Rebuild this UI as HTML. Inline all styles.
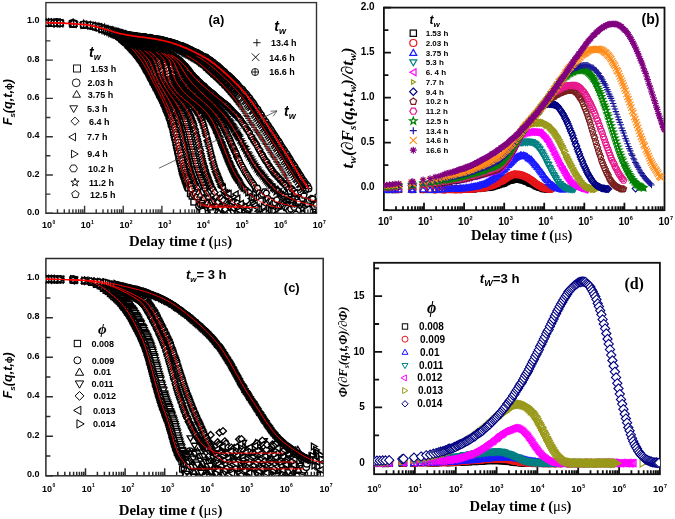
<!DOCTYPE html>
<html><head><meta charset="utf-8"><style>
html,body{margin:0;padding:0;background:#fff;}
svg{display:block;will-change:transform;}
</style></head><body>
<svg width="675" height="519" viewBox="0 0 675 519">
<defs><marker id="m0" markerUnits="userSpaceOnUse" markerWidth="1" markerHeight="1" refX="0" refY="0" overflow="visible"><rect x="-2.88" y="-2.88" width="5.76" height="5.76" fill="#fff" stroke="#000" stroke-width="1.35"/></marker><marker id="m1" markerUnits="userSpaceOnUse" markerWidth="1" markerHeight="1" refX="0" refY="0" overflow="visible"><circle r="3.20" fill="#fff" stroke="#000" stroke-width="1.35"/></marker><marker id="m2" markerUnits="userSpaceOnUse" markerWidth="1" markerHeight="1" refX="0" refY="0" overflow="visible"><polygon points="0.00,-3.68 3.19,1.84 -3.19,1.84" transform="translate(0,0.64)" fill="#fff" stroke="#000" stroke-width="1.35"/></marker><marker id="m3" markerUnits="userSpaceOnUse" markerWidth="1" markerHeight="1" refX="0" refY="0" overflow="visible"><polygon points="0.00,3.68 -3.19,-1.84 3.19,-1.84" transform="translate(0,-0.64)" fill="#fff" stroke="#000" stroke-width="1.35"/></marker><marker id="m4" markerUnits="userSpaceOnUse" markerWidth="1" markerHeight="1" refX="0" refY="0" overflow="visible"><polygon points="0.00,-3.36 3.36,0.00 0.00,3.36 -3.36,0.00" fill="#fff" stroke="#000" stroke-width="1.35"/></marker><marker id="m5" markerUnits="userSpaceOnUse" markerWidth="1" markerHeight="1" refX="0" refY="0" overflow="visible"><polygon points="-3.68,0.00 1.84,-3.19 1.84,3.19" transform="translate(0.64,0)" fill="#fff" stroke="#000" stroke-width="1.35"/></marker><marker id="m6" markerUnits="userSpaceOnUse" markerWidth="1" markerHeight="1" refX="0" refY="0" overflow="visible"><polygon points="3.68,0.00 -1.84,3.19 -1.84,-3.19" transform="translate(-0.64,0)" fill="#fff" stroke="#000" stroke-width="1.35"/></marker><marker id="m7" markerUnits="userSpaceOnUse" markerWidth="1" markerHeight="1" refX="0" refY="0" overflow="visible"><polygon points="3.20,0.00 1.60,2.77 -1.60,2.77 -3.20,0.00 -1.60,-2.77 1.60,-2.77" fill="#fff" stroke="#000" stroke-width="1.35"/></marker><marker id="m8" markerUnits="userSpaceOnUse" markerWidth="1" markerHeight="1" refX="0" refY="0" overflow="visible"><polygon points="0.00,-3.52 0.85,-1.16 3.35,-1.09 1.37,0.44 2.07,2.85 0.00,1.44 -2.07,2.85 -1.37,0.44 -3.35,-1.09 -0.85,-1.16" fill="#fff" stroke="#000" stroke-width="1.35"/></marker><marker id="m9" markerUnits="userSpaceOnUse" markerWidth="1" markerHeight="1" refX="0" refY="0" overflow="visible"><polygon points="0.00,-3.20 3.04,-0.99 1.88,2.59 -1.88,2.59 -3.04,-0.99" fill="#fff" stroke="#000" stroke-width="1.35"/></marker><marker id="m10" markerUnits="userSpaceOnUse" markerWidth="1" markerHeight="1" refX="0" refY="0" overflow="visible"><path d="M-3.2 0H3.2M0 -3.2V3.2" fill="#fff" stroke="#000" stroke-width="0.8"/></marker><marker id="m11" markerUnits="userSpaceOnUse" markerWidth="1" markerHeight="1" refX="0" refY="0" overflow="visible"><path d="M-3.2 -3.2L3.2 3.2M-3.2 3.2L3.2 -3.2" fill="#fff" stroke="#000" stroke-width="1.35"/></marker><marker id="m12" markerUnits="userSpaceOnUse" markerWidth="1" markerHeight="1" refX="0" refY="0" overflow="visible"><circle r="3.20" fill="#fff" stroke="#000" stroke-width="1.35"/><path d="M-3.2 0H3.2M0 -3.2V3.2" fill="#fff" stroke="#000" stroke-width="1.35"/></marker><clipPath id="cpa"><rect x="45.9" y="2.6" width="270.6" height="210.70000000000002"/></clipPath><marker id="m13" markerUnits="userSpaceOnUse" markerWidth="1" markerHeight="1" refX="0" refY="0" overflow="visible"><rect x="-2.88" y="-2.88" width="5.76" height="5.76" fill="none" stroke="#000" stroke-width="1.1"/></marker><marker id="m14" markerUnits="userSpaceOnUse" markerWidth="1" markerHeight="1" refX="0" refY="0" overflow="visible"><circle r="3.20" fill="none" stroke="#e8161a" stroke-width="1.1"/></marker><marker id="m15" markerUnits="userSpaceOnUse" markerWidth="1" markerHeight="1" refX="0" refY="0" overflow="visible"><polygon points="0.00,-3.68 3.19,1.84 -3.19,1.84" transform="translate(0,0.64)" fill="none" stroke="#1a1aff" stroke-width="1.1"/></marker><marker id="m16" markerUnits="userSpaceOnUse" markerWidth="1" markerHeight="1" refX="0" refY="0" overflow="visible"><polygon points="0.00,3.68 -3.19,-1.84 3.19,-1.84" transform="translate(0,-0.64)" fill="none" stroke="#008080" stroke-width="1.1"/></marker><marker id="m17" markerUnits="userSpaceOnUse" markerWidth="1" markerHeight="1" refX="0" refY="0" overflow="visible"><polygon points="-3.68,0.00 1.84,-3.19 1.84,3.19" transform="translate(0.64,0)" fill="none" stroke="#ff00ff" stroke-width="1.1"/></marker><marker id="m18" markerUnits="userSpaceOnUse" markerWidth="1" markerHeight="1" refX="0" refY="0" overflow="visible"><polygon points="3.68,0.00 -1.84,3.19 -1.84,-3.19" transform="translate(-0.64,0)" fill="none" stroke="#99991a" stroke-width="1.1"/></marker><marker id="m19" markerUnits="userSpaceOnUse" markerWidth="1" markerHeight="1" refX="0" refY="0" overflow="visible"><polygon points="0.00,-3.36 3.36,0.00 0.00,3.36 -3.36,0.00" fill="none" stroke="#000080" stroke-width="1.1"/></marker><marker id="m20" markerUnits="userSpaceOnUse" markerWidth="1" markerHeight="1" refX="0" refY="0" overflow="visible"><polygon points="0.00,-3.20 3.04,-0.99 1.88,2.59 -1.88,2.59 -3.04,-0.99" fill="none" stroke="#7a1f1f" stroke-width="1.1"/></marker><marker id="m21" markerUnits="userSpaceOnUse" markerWidth="1" markerHeight="1" refX="0" refY="0" overflow="visible"><polygon points="3.20,0.00 1.60,2.77 -1.60,2.77 -3.20,0.00 -1.60,-2.77 1.60,-2.77" fill="none" stroke="#e6198c" stroke-width="1.1"/></marker><marker id="m22" markerUnits="userSpaceOnUse" markerWidth="1" markerHeight="1" refX="0" refY="0" overflow="visible"><polygon points="0.00,-3.52 0.85,-1.16 3.35,-1.09 1.37,0.44 2.07,2.85 0.00,1.44 -2.07,2.85 -1.37,0.44 -3.35,-1.09 -0.85,-1.16" fill="none" stroke="#008000" stroke-width="1.1"/></marker><marker id="m23" markerUnits="userSpaceOnUse" markerWidth="1" markerHeight="1" refX="0" refY="0" overflow="visible"><path d="M-3.2 0H3.2M0 -3.2V3.2" fill="none" stroke="#1a1a99" stroke-width="1.1"/></marker><marker id="m24" markerUnits="userSpaceOnUse" markerWidth="1" markerHeight="1" refX="0" refY="0" overflow="visible"><path d="M-3.2 -3.2L3.2 3.2M-3.2 3.2L3.2 -3.2" fill="none" stroke="#ff8c1a" stroke-width="1.1"/></marker><marker id="m25" markerUnits="userSpaceOnUse" markerWidth="1" markerHeight="1" refX="0" refY="0" overflow="visible"><path d="M-3.2 0H3.2M0 -3.2V3.2M-2.24 -2.24L2.24 2.24M-2.24 2.24L2.24 -2.24" fill="none" stroke="#800080" stroke-width="1.1"/></marker><clipPath id="cpb"><rect x="383.9" y="7.6" width="280.6" height="202.6"/></clipPath><marker id="m26" markerUnits="userSpaceOnUse" markerWidth="1" markerHeight="1" refX="0" refY="0" overflow="visible"><rect x="-2.97" y="-2.97" width="5.94" height="5.94" fill="#fff" stroke="#000" stroke-width="1.35"/></marker><marker id="m27" markerUnits="userSpaceOnUse" markerWidth="1" markerHeight="1" refX="0" refY="0" overflow="visible"><circle r="3.30" fill="#fff" stroke="#000" stroke-width="1.35"/></marker><marker id="m28" markerUnits="userSpaceOnUse" markerWidth="1" markerHeight="1" refX="0" refY="0" overflow="visible"><polygon points="0.00,-3.79 3.29,1.90 -3.29,1.90" transform="translate(0,0.66)" fill="#fff" stroke="#000" stroke-width="1.35"/></marker><marker id="m29" markerUnits="userSpaceOnUse" markerWidth="1" markerHeight="1" refX="0" refY="0" overflow="visible"><polygon points="0.00,3.79 -3.29,-1.90 3.29,-1.90" transform="translate(0,-0.66)" fill="#fff" stroke="#000" stroke-width="1.35"/></marker><marker id="m30" markerUnits="userSpaceOnUse" markerWidth="1" markerHeight="1" refX="0" refY="0" overflow="visible"><polygon points="0.00,-3.46 3.46,0.00 0.00,3.46 -3.46,0.00" fill="#fff" stroke="#000" stroke-width="1.35"/></marker><marker id="m31" markerUnits="userSpaceOnUse" markerWidth="1" markerHeight="1" refX="0" refY="0" overflow="visible"><polygon points="-3.79,0.00 1.90,-3.29 1.90,3.29" transform="translate(0.66,0)" fill="#fff" stroke="#000" stroke-width="1.35"/></marker><marker id="m32" markerUnits="userSpaceOnUse" markerWidth="1" markerHeight="1" refX="0" refY="0" overflow="visible"><polygon points="3.79,0.00 -1.90,3.29 -1.90,-3.29" transform="translate(-0.66,0)" fill="#fff" stroke="#000" stroke-width="1.35"/></marker><clipPath id="cpc"><rect x="45.9" y="258.5" width="277.3" height="217.3"/></clipPath><marker id="m33" markerUnits="userSpaceOnUse" markerWidth="1" markerHeight="1" refX="0" refY="0" overflow="visible"><rect x="-3.15" y="-3.15" width="6.30" height="6.30" fill="none" stroke="#000" stroke-width="1.1"/></marker><marker id="m34" markerUnits="userSpaceOnUse" markerWidth="1" markerHeight="1" refX="0" refY="0" overflow="visible"><circle r="3.50" fill="none" stroke="#e8161a" stroke-width="1.1"/></marker><marker id="m35" markerUnits="userSpaceOnUse" markerWidth="1" markerHeight="1" refX="0" refY="0" overflow="visible"><polygon points="0.00,-4.02 3.49,2.01 -3.49,2.01" transform="translate(0,0.70)" fill="none" stroke="#1a1aff" stroke-width="1.1"/></marker><marker id="m36" markerUnits="userSpaceOnUse" markerWidth="1" markerHeight="1" refX="0" refY="0" overflow="visible"><polygon points="0.00,4.02 -3.49,-2.01 3.49,-2.01" transform="translate(0,-0.70)" fill="none" stroke="#008080" stroke-width="1.1"/></marker><marker id="m37" markerUnits="userSpaceOnUse" markerWidth="1" markerHeight="1" refX="0" refY="0" overflow="visible"><polygon points="-4.02,0.00 2.01,-3.49 2.01,3.49" transform="translate(0.70,0)" fill="none" stroke="#ff00ff" stroke-width="1.1"/></marker><marker id="m38" markerUnits="userSpaceOnUse" markerWidth="1" markerHeight="1" refX="0" refY="0" overflow="visible"><polygon points="4.60,0.00 -2.30,3.98 -2.30,-3.98" transform="translate(-0.80,0)" fill="none" stroke="#99991a" stroke-width="1.1"/></marker><marker id="m39" markerUnits="userSpaceOnUse" markerWidth="1" markerHeight="1" refX="0" refY="0" overflow="visible"><polygon points="0.00,-4.62 4.62,0.00 0.00,4.62 -4.62,0.00" fill="#fff" stroke="#000080" stroke-width="1.1"/></marker><clipPath id="cpd"><rect x="374.1" y="262.8" width="285.79999999999995" height="211.39999999999998"/></clipPath></defs>
<rect width="675" height="519" fill="#fff"/>
<rect x="45.9" y="2.6" width="270.6" height="210.7" fill="none" stroke="#333" stroke-width="1.4"/>
<path d="M45.9 213.3h7M45.9 175h7M45.9 136.7h7M45.9 98.4h7M45.9 60.1h7M45.9 21.8h7M45.9 194.1h4.5M45.9 155.8h4.5M45.9 117.5h4.5M45.9 79.2h4.5M45.9 40.9h4.5M57.5 213.3v-4M64.3 213.3v-4M69.2 213.3v-4M72.9 213.3v-4M76 213.3v-4M78.6 213.3v-4M80.8 213.3v-4M82.8 213.3v-4M84.6 213.3v-7.5M96.2 213.3v-4M103 213.3v-4M107.8 213.3v-4M111.6 213.3v-4M114.6 213.3v-4M117.2 213.3v-4M119.5 213.3v-4M121.4 213.3v-4M123.2 213.3v-7.5M134.9 213.3v-4M141.7 213.3v-4M146.5 213.3v-4M150.2 213.3v-4M153.3 213.3v-4M155.9 213.3v-4M158.1 213.3v-4M160.1 213.3v-4M161.9 213.3v-7.5M173.5 213.3v-4M180.3 213.3v-4M185.1 213.3v-4M188.9 213.3v-4M192 213.3v-4M194.5 213.3v-4M196.8 213.3v-4M198.8 213.3v-4M200.5 213.3v-7.5M212.2 213.3v-4M219 213.3v-4M223.8 213.3v-4M227.5 213.3v-4M230.6 213.3v-4M233.2 213.3v-4M235.4 213.3v-4M237.4 213.3v-4M239.2 213.3v-7.5M250.8 213.3v-4M257.6 213.3v-4M262.5 213.3v-4M266.2 213.3v-4M269.3 213.3v-4M271.9 213.3v-4M274.1 213.3v-4M276.1 213.3v-4M277.8 213.3v-7.5M289.5 213.3v-4M296.3 213.3v-4M301.1 213.3v-4M304.9 213.3v-4M307.9 213.3v-4M310.5 213.3v-4M312.8 213.3v-4M314.7 213.3v-4" stroke="#333" stroke-width="1.4" fill="none"/>
<text x="39.6" y="214.9" text-anchor="end" font-family="Liberation Sans, sans-serif" font-weight="bold" font-size="9">0.0</text>
<text x="39.6" y="176.6" text-anchor="end" font-family="Liberation Sans, sans-serif" font-weight="bold" font-size="9">0.2</text>
<text x="39.6" y="138.3" text-anchor="end" font-family="Liberation Sans, sans-serif" font-weight="bold" font-size="9">0.4</text>
<text x="39.6" y="100" text-anchor="end" font-family="Liberation Sans, sans-serif" font-weight="bold" font-size="9">0.6</text>
<text x="39.6" y="61.7" text-anchor="end" font-family="Liberation Sans, sans-serif" font-weight="bold" font-size="9">0.8</text>
<text x="39.6" y="23.4" text-anchor="end" font-family="Liberation Sans, sans-serif" font-weight="bold" font-size="9">1.0</text>
<text x="42.1" y="228.4" font-family="Liberation Sans, sans-serif" font-weight="bold" font-size="9">10<tspan font-size="5.0" dx="0.3" dy="-4.3">0</tspan></text>
<text x="80.8" y="228.4" font-family="Liberation Sans, sans-serif" font-weight="bold" font-size="9">10<tspan font-size="5.0" dx="0.3" dy="-4.3">1</tspan></text>
<text x="119.4" y="228.4" font-family="Liberation Sans, sans-serif" font-weight="bold" font-size="9">10<tspan font-size="5.0" dx="0.3" dy="-4.3">2</tspan></text>
<text x="158.1" y="228.4" font-family="Liberation Sans, sans-serif" font-weight="bold" font-size="9">10<tspan font-size="5.0" dx="0.3" dy="-4.3">3</tspan></text>
<text x="196.7" y="228.4" font-family="Liberation Sans, sans-serif" font-weight="bold" font-size="9">10<tspan font-size="5.0" dx="0.3" dy="-4.3">4</tspan></text>
<text x="235.4" y="228.4" font-family="Liberation Sans, sans-serif" font-weight="bold" font-size="9">10<tspan font-size="5.0" dx="0.3" dy="-4.3">5</tspan></text>
<text x="274" y="228.4" font-family="Liberation Sans, sans-serif" font-weight="bold" font-size="9">10<tspan font-size="5.0" dx="0.3" dy="-4.3">6</tspan></text>
<text x="312.7" y="228.4" font-family="Liberation Sans, sans-serif" font-weight="bold" font-size="9">10<tspan font-size="5.0" dx="0.3" dy="-4.3">7</tspan></text>
<rect x="383.9" y="7.6" width="280.6" height="202.6" fill="none" stroke="#111" stroke-width="1.8"/>
<path d="M383.9 187.7h7M383.9 142.7h7M383.9 97.6h7M383.9 52.6h7M383.9 7.6h7M383.9 210.2h4.5M383.9 165.2h4.5M383.9 120.2h4.5M383.9 75.1h4.5M383.9 30.1h4.5M396 210.2v-4M403 210.2v-4M408 210.2v-4M411.9 210.2v-4M415.1 210.2v-4M417.8 210.2v-4M420.1 210.2v-4M422.2 210.2v-4M424 210.2v-7.5M436.1 210.2v-4M443.1 210.2v-4M448.1 210.2v-4M452 210.2v-4M455.2 210.2v-4M457.9 210.2v-4M460.2 210.2v-4M462.2 210.2v-4M464.1 210.2v-7.5M476.1 210.2v-4M483.2 210.2v-4M488.2 210.2v-4M492.1 210.2v-4M495.3 210.2v-4M497.9 210.2v-4M500.3 210.2v-4M502.3 210.2v-4M504.2 210.2v-7.5M516.2 210.2v-4M523.3 210.2v-4M528.3 210.2v-4M532.2 210.2v-4M535.3 210.2v-4M538 210.2v-4M540.4 210.2v-4M542.4 210.2v-4M544.2 210.2v-7.5M556.3 210.2v-4M563.4 210.2v-4M568.4 210.2v-4M572.3 210.2v-4M575.4 210.2v-4M578.1 210.2v-4M580.4 210.2v-4M582.5 210.2v-4M584.3 210.2v-7.5M596.4 210.2v-4M603.5 210.2v-4M608.5 210.2v-4M612.3 210.2v-4M615.5 210.2v-4M618.2 210.2v-4M620.5 210.2v-4M622.6 210.2v-4M624.4 210.2v-7.5M636.5 210.2v-4M643.5 210.2v-4M648.5 210.2v-4M652.4 210.2v-4M655.6 210.2v-4M658.3 210.2v-4M660.6 210.2v-4M662.7 210.2v-4" stroke="#111" stroke-width="1.8" fill="none"/>
<text x="374.7" y="190.3" text-anchor="end" font-family="Liberation Sans, sans-serif" font-weight="bold" font-size="10">0.0</text>
<text x="374.7" y="145.3" text-anchor="end" font-family="Liberation Sans, sans-serif" font-weight="bold" font-size="10">0.5</text>
<text x="374.7" y="100.2" text-anchor="end" font-family="Liberation Sans, sans-serif" font-weight="bold" font-size="10">1.0</text>
<text x="374.7" y="55.2" text-anchor="end" font-family="Liberation Sans, sans-serif" font-weight="bold" font-size="10">1.5</text>
<text x="374.7" y="10.2" text-anchor="end" font-family="Liberation Sans, sans-serif" font-weight="bold" font-size="10">2.0</text>
<text x="377.9" y="224.7" font-family="Liberation Sans, sans-serif" font-weight="bold" font-size="10">10<tspan font-size="5.6" dx="0.3" dy="-4.8">0</tspan></text>
<text x="418" y="224.7" font-family="Liberation Sans, sans-serif" font-weight="bold" font-size="10">10<tspan font-size="5.6" dx="0.3" dy="-4.8">1</tspan></text>
<text x="458.1" y="224.7" font-family="Liberation Sans, sans-serif" font-weight="bold" font-size="10">10<tspan font-size="5.6" dx="0.3" dy="-4.8">2</tspan></text>
<text x="498.2" y="224.7" font-family="Liberation Sans, sans-serif" font-weight="bold" font-size="10">10<tspan font-size="5.6" dx="0.3" dy="-4.8">3</tspan></text>
<text x="538.2" y="224.7" font-family="Liberation Sans, sans-serif" font-weight="bold" font-size="10">10<tspan font-size="5.6" dx="0.3" dy="-4.8">4</tspan></text>
<text x="578.3" y="224.7" font-family="Liberation Sans, sans-serif" font-weight="bold" font-size="10">10<tspan font-size="5.6" dx="0.3" dy="-4.8">5</tspan></text>
<text x="618.4" y="224.7" font-family="Liberation Sans, sans-serif" font-weight="bold" font-size="10">10<tspan font-size="5.6" dx="0.3" dy="-4.8">6</tspan></text>
<text x="658.5" y="224.7" font-family="Liberation Sans, sans-serif" font-weight="bold" font-size="10">10<tspan font-size="5.6" dx="0.3" dy="-4.8">7</tspan></text>
<rect x="45.9" y="258.5" width="277.3" height="217.3" fill="none" stroke="#2a2a2a" stroke-width="1.5"/>
<path d="M45.9 475.8h7M45.9 436.3h7M45.9 396.8h7M45.9 357.3h7M45.9 317.8h7M45.9 278.3h7M45.9 456h4.5M45.9 416.5h4.5M45.9 377h4.5M45.9 337.5h4.5M45.9 298h4.5M57.8 475.8v-4M64.8 475.8v-4M69.8 475.8v-4M73.6 475.8v-4M76.7 475.8v-4M79.4 475.8v-4M81.7 475.8v-4M83.7 475.8v-4M85.5 475.8v-7.5M97.4 475.8v-4M104.4 475.8v-4M109.4 475.8v-4M113.2 475.8v-4M116.3 475.8v-4M119 475.8v-4M121.3 475.8v-4M123.3 475.8v-4M125.1 475.8v-7.5M137.1 475.8v-4M144 475.8v-4M149 475.8v-4M152.8 475.8v-4M156 475.8v-4M158.6 475.8v-4M160.9 475.8v-4M162.9 475.8v-4M164.7 475.8v-7.5M176.7 475.8v-4M183.6 475.8v-4M188.6 475.8v-4M192.4 475.8v-4M195.6 475.8v-4M198.2 475.8v-4M200.5 475.8v-4M202.5 475.8v-4M204.4 475.8v-7.5M216.3 475.8v-4M223.3 475.8v-4M228.2 475.8v-4M232 475.8v-4M235.2 475.8v-4M237.8 475.8v-4M240.1 475.8v-4M242.2 475.8v-4M244 475.8v-7.5M255.9 475.8v-4M262.9 475.8v-4M267.8 475.8v-4M271.7 475.8v-4M274.8 475.8v-4M277.4 475.8v-4M279.7 475.8v-4M281.8 475.8v-4M283.6 475.8v-7.5M295.5 475.8v-4M302.5 475.8v-4M307.4 475.8v-4M311.3 475.8v-4M314.4 475.8v-4M317.1 475.8v-4M319.4 475.8v-4M321.4 475.8v-4" stroke="#2a2a2a" stroke-width="1.5" fill="none"/>
<text x="39.6" y="477.4" text-anchor="end" font-family="Liberation Sans, sans-serif" font-weight="bold" font-size="9">0.0</text>
<text x="39.6" y="437.9" text-anchor="end" font-family="Liberation Sans, sans-serif" font-weight="bold" font-size="9">0.2</text>
<text x="39.6" y="398.4" text-anchor="end" font-family="Liberation Sans, sans-serif" font-weight="bold" font-size="9">0.4</text>
<text x="39.6" y="358.9" text-anchor="end" font-family="Liberation Sans, sans-serif" font-weight="bold" font-size="9">0.6</text>
<text x="39.6" y="319.4" text-anchor="end" font-family="Liberation Sans, sans-serif" font-weight="bold" font-size="9">0.8</text>
<text x="39.6" y="279.9" text-anchor="end" font-family="Liberation Sans, sans-serif" font-weight="bold" font-size="9">1.0</text>
<text x="42.1" y="491.5" font-family="Liberation Sans, sans-serif" font-weight="bold" font-size="9">10<tspan font-size="5.0" dx="0.3" dy="-4.3">0</tspan></text>
<text x="81.7" y="491.5" font-family="Liberation Sans, sans-serif" font-weight="bold" font-size="9">10<tspan font-size="5.0" dx="0.3" dy="-4.3">1</tspan></text>
<text x="121.3" y="491.5" font-family="Liberation Sans, sans-serif" font-weight="bold" font-size="9">10<tspan font-size="5.0" dx="0.3" dy="-4.3">2</tspan></text>
<text x="160.9" y="491.5" font-family="Liberation Sans, sans-serif" font-weight="bold" font-size="9">10<tspan font-size="5.0" dx="0.3" dy="-4.3">3</tspan></text>
<text x="200.6" y="491.5" font-family="Liberation Sans, sans-serif" font-weight="bold" font-size="9">10<tspan font-size="5.0" dx="0.3" dy="-4.3">4</tspan></text>
<text x="240.2" y="491.5" font-family="Liberation Sans, sans-serif" font-weight="bold" font-size="9">10<tspan font-size="5.0" dx="0.3" dy="-4.3">5</tspan></text>
<text x="279.8" y="491.5" font-family="Liberation Sans, sans-serif" font-weight="bold" font-size="9">10<tspan font-size="5.0" dx="0.3" dy="-4.3">6</tspan></text>
<text x="319.4" y="491.5" font-family="Liberation Sans, sans-serif" font-weight="bold" font-size="9">10<tspan font-size="5.0" dx="0.3" dy="-4.3">7</tspan></text>
<rect x="374.1" y="262.8" width="285.8" height="211.4" fill="none" stroke="#111" stroke-width="1.8"/>
<path d="M374.1 463.1h8M374.1 407.4h8M374.1 351.8h8M374.1 296.2h8M374.1 435.3h5M374.1 379.6h5M374.1 324h5M374.1 268.4h5M386.4 474.2v-4M393.6 474.2v-4M398.7 474.2v-4M402.6 474.2v-4M405.9 474.2v-4M408.6 474.2v-4M411 474.2v-4M413.1 474.2v-4M414.9 474.2v-7.5M427.2 474.2v-4M434.4 474.2v-4M439.5 474.2v-4M443.5 474.2v-4M446.7 474.2v-4M449.4 474.2v-4M451.8 474.2v-4M453.9 474.2v-4M455.8 474.2v-7.5M468 474.2v-4M475.2 474.2v-4M480.3 474.2v-4M484.3 474.2v-4M487.5 474.2v-4M490.3 474.2v-4M492.6 474.2v-4M494.7 474.2v-4M496.6 474.2v-7.5M508.9 474.2v-4M516.1 474.2v-4M521.2 474.2v-4M525.1 474.2v-4M528.4 474.2v-4M531.1 474.2v-4M533.5 474.2v-4M535.5 474.2v-4M537.4 474.2v-7.5M549.7 474.2v-4M556.9 474.2v-4M562 474.2v-4M566 474.2v-4M569.2 474.2v-4M571.9 474.2v-4M574.3 474.2v-4M576.4 474.2v-4M578.2 474.2v-7.5M590.5 474.2v-4M597.7 474.2v-4M602.8 474.2v-4M606.8 474.2v-4M610 474.2v-4M612.7 474.2v-4M615.1 474.2v-4M617.2 474.2v-4M619.1 474.2v-7.5M631.4 474.2v-4M638.6 474.2v-4M643.7 474.2v-4M647.6 474.2v-4M650.8 474.2v-4M653.6 474.2v-4M655.9 474.2v-4M658 474.2v-4" stroke="#111" stroke-width="1.8" fill="none"/>
<text x="364.7" y="466.1" text-anchor="end" font-family="Liberation Sans, sans-serif" font-weight="bold" font-size="10">0</text>
<text x="364.7" y="410.4" text-anchor="end" font-family="Liberation Sans, sans-serif" font-weight="bold" font-size="10">5</text>
<text x="364.7" y="354.8" text-anchor="end" font-family="Liberation Sans, sans-serif" font-weight="bold" font-size="10">10</text>
<text x="364.7" y="299.2" text-anchor="end" font-family="Liberation Sans, sans-serif" font-weight="bold" font-size="10">15</text>
<text x="367.2" y="492.4" font-family="Liberation Sans, sans-serif" font-weight="bold" font-size="9.5">10<tspan font-size="5.3" dx="0.3" dy="-4.6">0</tspan></text>
<text x="408" y="492.4" font-family="Liberation Sans, sans-serif" font-weight="bold" font-size="9.5">10<tspan font-size="5.3" dx="0.3" dy="-4.6">1</tspan></text>
<text x="448.9" y="492.4" font-family="Liberation Sans, sans-serif" font-weight="bold" font-size="9.5">10<tspan font-size="5.3" dx="0.3" dy="-4.6">2</tspan></text>
<text x="489.7" y="492.4" font-family="Liberation Sans, sans-serif" font-weight="bold" font-size="9.5">10<tspan font-size="5.3" dx="0.3" dy="-4.6">3</tspan></text>
<text x="530.5" y="492.4" font-family="Liberation Sans, sans-serif" font-weight="bold" font-size="9.5">10<tspan font-size="5.3" dx="0.3" dy="-4.6">4</tspan></text>
<text x="571.3" y="492.4" font-family="Liberation Sans, sans-serif" font-weight="bold" font-size="9.5">10<tspan font-size="5.3" dx="0.3" dy="-4.6">5</tspan></text>
<text x="612.2" y="492.4" font-family="Liberation Sans, sans-serif" font-weight="bold" font-size="9.5">10<tspan font-size="5.3" dx="0.3" dy="-4.6">6</tspan></text>
<text x="653" y="492.4" font-family="Liberation Sans, sans-serif" font-weight="bold" font-size="9.5">10<tspan font-size="5.3" dx="0.3" dy="-4.6">7</tspan></text>
<text x="129" y="245.7" textLength="103.2" lengthAdjust="spacingAndGlyphs" font-family="Liberation Serif, serif" font-weight="bold" font-size="14.7">Delay time <tspan font-style="italic">t</tspan> (<tspan font-weight="normal">&#956;s</tspan>)</text>
<text x="471" y="240.3" textLength="101.5" lengthAdjust="spacingAndGlyphs" font-family="Liberation Serif, serif" font-weight="bold" font-size="14.7">Delay time <tspan font-style="italic">t</tspan> (<tspan font-weight="normal">&#956;s</tspan>)</text>
<text x="118.7" y="515.3" textLength="103.7" lengthAdjust="spacingAndGlyphs" font-family="Liberation Serif, serif" font-weight="bold" font-size="14.7">Delay time <tspan font-style="italic">t</tspan> (<tspan font-weight="normal">&#956;s</tspan>)</text>
<text x="469.6" y="510.8" textLength="101.9" lengthAdjust="spacingAndGlyphs" font-family="Liberation Serif, serif" font-weight="bold" font-size="14.7">Delay time <tspan font-style="italic">t</tspan> (<tspan font-weight="normal">&#956;s</tspan>)</text>
<g clip-path="url(#cpa)"><polyline points="45.9,23.1 48.6,22.6 51.3,22.5 54.0,23.0 56.7,23.3 60.2,23.0 72.6,23.5 73.7,23.5 83.7,24.9 90.4,25.8 95.2,26.4 99.0,27.5 102.0,28.3 104.6,29.4 106.8,30.6 108.8,31.5 110.6,31.5 112.2,33.1 113.6,33.9 115.0,34.7 116.2,34.9 117.4,35.5 118.5,36.3 119.0,36.6 119.6,36.9 120.2,37.2 120.8,37.6 121.4,38.3 121.9,39.3 122.5,39.1 123.1,40.2 123.7,40.4 124.3,41.3 124.8,41.4 125.4,42.2 126.0,42.5 126.6,42.2 127.1,43.7 127.7,44.1 128.3,45.3 128.9,45.6 129.5,45.9 130.0,46.7 130.6,47.2 131.2,47.8 131.8,48.8 132.4,49.0 132.9,50.0 133.5,49.9 134.1,51.2 134.7,51.6 135.3,52.5 135.8,52.9 136.4,54.1 137.0,54.3 137.6,55.4 138.2,55.8 138.7,56.7 139.3,57.7 139.9,58.7 140.5,59.1 141.1,60.0 141.6,60.6 142.2,62.0 142.8,62.7 143.4,63.6 144.0,64.6 144.5,65.6 145.1,66.7 145.7,67.9 146.3,69.1 146.9,69.9 147.4,70.7 148.0,71.5 148.6,72.8 149.2,73.9 149.8,75.0 150.3,76.2 150.9,77.4 151.5,78.4 152.1,79.2 152.7,80.9 153.2,82.1 153.8,82.5 154.4,84.1 155.0,84.9 155.6,86.1 156.1,87.7 156.7,87.8 157.3,89.1 157.9,90.7 158.5,91.6 159.0,92.9 159.6,94.4 160.2,95.3 160.8,96.3 161.4,97.3 161.9,98.6 162.5,100.0 163.1,100.9 163.7,102.8 164.3,103.7 164.8,104.9 165.4,106.7 166.0,108.5 166.6,109.7 167.2,110.8 167.7,112.3 168.3,113.5 168.9,115.8 169.5,117.2 170.1,118.7 170.6,120.8 171.2,123.5 171.8,124.7 172.4,126.6 173.0,129.3 173.5,132.4 174.1,134.8 174.7,137.2 175.3,139.2 175.9,142.5 176.4,145.3 177.0,147.7 177.6,150.9 178.2,153.0 178.8,156.4 179.3,159.0 179.9,161.2 180.5,163.5 181.1,166.1 181.7,168.5 182.2,171.2 182.8,172.9 183.4,174.8 184.0,176.5 184.6,178.0 185.1,179.9 185.7,181.3 186.3,183.2 186.9,184.9 187.5,186.2 188.0,187.4 188.6,188.1 190.4,193.7 192.1,196.1 193.8,202.1 195.6,194.8 197.3,196.7 199.1,204.6 200.8,207.0 202.5,211.0 204.3,205.2 206.0,205.4 207.7,196.4 209.5,205.9 211.2,211.0 213.0,214.3 214.7,200.7" fill="none" stroke="none" marker-start="url(#m0)" marker-mid="url(#m0)" marker-end="url(#m0)"/><polyline points="45.9,22.7 48.6,23.2 51.3,22.7 54.0,23.3 56.7,21.9 60.2,22.7 72.6,23.5 73.7,23.8 83.7,25.2 90.4,25.5 95.2,27.0 99.0,27.4 102.0,29.2 104.6,29.8 106.8,30.1 108.8,30.8 110.6,32.3 112.2,33.1 113.6,33.1 115.0,33.7 116.2,34.8 117.4,35.3 118.5,35.8 119.0,36.3 119.6,36.5 120.2,36.3 120.8,36.8 121.4,36.8 121.9,37.8 122.5,38.3 123.1,39.0 123.7,39.1 124.3,39.9 124.8,40.5 125.4,40.3 126.0,40.6 126.6,41.2 127.1,41.6 127.7,42.4 128.3,43.2 128.9,43.5 129.5,44.1 130.0,44.9 130.6,45.6 131.2,46.1 131.8,46.2 132.4,46.6 132.9,47.4 133.5,47.3 134.1,48.2 134.7,48.7 135.3,49.1 135.8,50.2 136.4,51.1 137.0,50.9 137.6,51.9 138.2,51.9 138.7,52.8 139.3,53.3 139.9,54.0 140.5,55.5 141.1,55.4 141.6,56.5 142.2,57.2 142.8,57.9 143.4,58.3 144.0,59.1 144.5,59.9 145.1,61.5 145.7,62.1 146.3,63.7 146.9,64.1 147.4,65.0 148.0,66.5 148.6,67.4 149.2,68.6 149.8,69.6 150.3,71.4 150.9,72.6 151.5,73.8 152.1,74.4 152.7,75.8 153.2,77.4 153.8,78.5 154.4,79.7 155.0,80.9 155.6,82.1 156.1,83.3 156.7,84.7 157.3,85.6 157.9,86.0 158.5,87.5 159.0,88.7 159.6,89.8 160.2,90.9 160.8,91.9 161.4,93.2 161.9,94.1 162.5,95.2 163.1,96.6 163.7,97.8 164.3,99.0 164.8,100.2 165.4,100.8 166.0,102.9 166.6,103.6 167.2,104.9 167.7,106.2 168.3,107.4 168.9,108.4 169.5,110.1 170.1,111.6 170.6,113.2 171.2,114.6 171.8,115.9 172.4,117.8 173.0,119.8 173.5,121.7 174.1,123.6 174.7,125.9 175.3,127.4 175.9,129.9 176.4,132.5 177.0,134.5 177.6,137.7 178.2,139.9 178.8,142.5 179.3,145.8 179.9,148.5 180.5,151.0 181.1,153.1 181.7,155.6 182.2,158.9 182.8,160.7 183.4,163.5 184.0,165.9 184.6,168.2 185.1,170.2 185.7,172.7 186.3,174.3 186.9,176.1 187.5,177.3 188.0,178.6 188.6,180.0 189.2,182.5 189.8,184.5 190.4,185.7 190.9,187.7 191.5,186.3 192.1,189.0 193.8,194.6 195.6,193.4 197.3,196.6 199.1,206.1 200.8,204.4 202.5,204.9 204.3,204.9 206.0,204.9 207.7,207.4 209.5,205.3 211.2,209.2 213.0,211.0 214.7,199.8 216.4,205.4 218.2,205.2 219.9,214.3 221.7,208.3 223.4,203.6" fill="none" stroke="none" marker-start="url(#m1)" marker-mid="url(#m1)" marker-end="url(#m1)"/><polyline points="45.9,23.1 48.6,22.4 51.3,22.9 54.0,22.7 56.7,22.9 60.2,23.0 72.6,23.3 73.7,23.9 83.7,24.1 90.4,25.7 95.2,26.8 99.0,27.3 102.0,28.8 104.6,29.5 106.8,30.0 108.8,30.7 110.6,32.2 112.2,32.3 113.6,32.5 115.0,33.3 116.2,34.2 117.4,34.8 118.5,35.2 119.0,35.7 119.6,35.7 120.2,36.0 120.8,36.3 121.4,36.3 121.9,37.0 122.5,37.7 123.1,37.3 123.7,38.3 124.3,38.5 124.8,38.8 125.4,39.2 126.0,39.8 126.6,40.0 127.1,39.7 127.7,41.0 128.3,41.3 128.9,41.3 129.5,41.9 130.0,42.3 130.6,42.8 131.2,44.0 131.8,44.2 132.4,44.4 132.9,44.7 133.5,45.0 134.1,45.7 134.7,46.4 135.3,46.8 135.8,47.3 136.4,47.6 137.0,48.0 137.6,48.7 138.2,49.3 138.7,49.8 139.3,49.8 139.9,50.2 140.5,50.8 141.1,51.3 141.6,51.8 142.2,52.6 142.8,53.0 143.4,54.0 144.0,54.4 144.5,55.1 145.1,55.3 145.7,56.4 146.3,56.9 146.9,57.5 147.4,57.9 148.0,59.3 148.6,60.2 149.2,60.5 149.8,62.1 150.3,62.7 150.9,64.2 151.5,65.4 152.1,67.2 152.7,67.9 153.2,69.7 153.8,71.3 154.4,71.9 155.0,73.8 155.6,74.4 156.1,76.7 156.7,78.2 157.3,79.3 157.9,80.1 158.5,81.7 159.0,82.7 159.6,83.8 160.2,85.3 160.8,86.0 161.4,87.3 161.9,88.5 162.5,88.9 163.1,89.9 163.7,91.1 164.3,92.3 164.8,93.6 165.4,93.9 166.0,95.0 166.6,96.4 167.2,96.9 167.7,98.3 168.3,98.9 168.9,99.9 169.5,100.8 170.1,101.9 170.6,103.0 171.2,104.4 171.8,105.3 172.4,106.5 173.0,107.6 173.5,108.6 174.1,109.8 174.7,110.7 175.3,113.3 175.9,113.8 176.4,115.3 177.0,116.1 177.6,118.0 178.2,120.3 178.8,121.5 179.3,123.7 179.9,125.3 180.5,128.0 181.1,129.9 181.7,132.2 182.2,134.6 182.8,137.1 183.4,140.0 184.0,141.8 184.6,144.2 185.1,147.0 185.7,149.8 186.3,152.0 186.9,154.4 187.5,157.0 188.0,159.4 188.6,161.4 189.2,164.4 189.8,166.4 190.4,168.9 190.9,170.6 191.5,172.5 192.1,174.4 192.7,175.9 193.3,176.8 193.8,179.0 194.4,180.6 195.0,181.4 195.6,183.6 196.2,185.7 196.7,186.2 197.3,188.7 197.9,187.1 198.5,192.1 200.2,194.6 202.0,200.0 203.7,197.9 205.4,203.8 207.2,202.4 208.9,205.3 210.6,207.4 212.4,201.2 214.1,201.5 215.9,205.8 217.6,210.5 219.3,211.7 221.1,205.6 222.8,195.6 224.6,209.5 226.3,211.2 228.0,210.9 229.8,212.9" fill="none" stroke="none" marker-start="url(#m2)" marker-mid="url(#m2)" marker-end="url(#m2)"/><polyline points="45.9,23.0 48.6,22.8 51.3,22.3 54.0,22.8 56.7,23.0 60.2,23.5 72.6,23.6 73.7,23.8 83.7,24.9 90.4,25.7 95.2,26.5 99.0,27.2 102.0,28.2 104.6,29.2 106.8,30.1 108.8,30.7 110.6,31.4 112.2,31.4 113.6,32.9 115.0,33.3 116.2,33.3 117.4,34.2 118.5,34.2 119.0,34.8 119.6,35.0 120.2,35.4 120.8,36.0 121.4,36.1 121.9,35.5 122.5,36.2 123.1,36.5 123.7,36.7 124.3,37.1 124.8,37.3 125.4,38.0 126.0,38.3 126.6,38.3 127.1,39.0 127.7,39.6 128.3,39.7 128.9,40.1 129.5,40.1 130.0,40.9 130.6,41.4 131.2,41.5 131.8,41.4 132.4,42.2 132.9,42.6 133.5,43.0 134.1,43.3 134.7,43.5 135.3,43.8 135.8,45.1 136.4,44.6 137.0,45.4 137.6,45.9 138.2,45.6 138.7,46.7 139.3,46.5 139.9,47.2 140.5,48.2 141.1,48.1 141.6,48.5 142.2,49.1 142.8,50.1 143.4,49.9 144.0,50.3 144.5,51.0 145.1,50.5 145.7,51.6 146.3,52.0 146.9,52.5 147.4,53.1 148.0,53.5 148.6,53.8 149.2,54.3 149.8,55.1 150.3,55.5 150.9,56.5 151.5,56.6 152.1,57.6 152.7,58.0 153.2,59.1 153.8,59.8 154.4,60.4 155.0,61.9 155.6,62.2 156.1,64.5 156.7,66.2 157.3,68.2 157.9,69.4 158.5,71.3 159.0,73.5 159.6,75.7 160.2,77.1 160.8,78.3 161.4,79.9 161.9,81.4 162.5,82.5 163.1,83.6 163.7,84.4 164.3,85.7 164.8,86.5 165.4,86.7 166.0,88.0 166.6,89.7 167.2,90.2 167.7,91.2 168.3,92.1 168.9,92.7 169.5,93.9 170.1,94.7 170.6,95.6 171.2,96.3 171.8,96.7 172.4,97.7 173.0,99.1 173.5,99.7 174.1,100.6 174.7,101.0 175.3,102.1 175.9,102.7 176.4,103.9 177.0,105.4 177.6,105.6 178.2,106.7 178.8,107.6 179.3,109.2 179.9,109.8 180.5,111.2 181.1,112.3 181.7,113.2 182.2,114.5 182.8,116.1 183.4,117.7 184.0,119.4 184.6,120.4 185.1,121.6 185.7,123.8 186.3,126.4 186.9,128.1 187.5,129.9 188.0,131.7 188.6,134.2 189.2,136.8 189.8,139.3 190.4,142.1 190.9,144.4 191.5,146.8 192.1,149.4 192.7,151.7 193.3,154.3 193.8,156.5 194.4,158.6 195.0,161.1 195.6,163.4 196.2,165.8 196.7,168.3 197.3,169.9 197.9,171.6 198.5,173.8 199.1,174.8 199.6,176.9 200.2,178.2 200.8,180.0 201.4,181.8 202.0,182.3 202.5,184.7 203.1,185.3 203.7,187.5 204.3,188.1 204.9,190.6 206.6,193.6 208.3,193.1 210.1,192.0 211.8,202.5 213.5,201.6 215.3,199.4 217.0,207.1 218.8,202.0 220.5,209.1 222.2,203.2 224.0,204.2 225.7,200.8 227.5,205.0 229.2,212.7 230.9,204.0 232.7,212.6 234.4,203.8 236.2,200.1 237.9,204.6" fill="none" stroke="none" marker-start="url(#m3)" marker-mid="url(#m3)" marker-end="url(#m3)"/><polyline points="45.9,22.9 48.6,22.4 51.3,22.7 54.0,23.2 56.7,23.0 60.2,22.6 72.6,23.8 73.7,23.7 83.7,24.7 90.4,25.9 95.2,26.6 99.0,27.3 102.0,28.2 104.6,29.2 106.8,30.5 108.8,30.2 110.6,31.0 112.2,31.5 113.6,32.0 115.0,33.0 116.2,33.5 117.4,33.7 118.5,33.7 119.0,34.9 119.6,34.7 120.2,35.1 120.8,35.0 121.4,34.9 121.9,35.7 122.5,36.2 123.1,36.1 123.7,36.4 124.3,37.0 124.8,36.6 125.4,37.3 126.0,37.2 126.6,38.1 127.1,37.7 127.7,38.7 128.3,38.3 128.9,39.5 129.5,38.9 130.0,39.7 130.6,40.3 131.2,40.3 131.8,40.5 132.4,41.2 132.9,41.4 133.5,41.5 134.1,42.0 134.7,43.2 135.3,42.8 135.8,42.9 136.4,43.3 137.0,43.5 137.6,44.3 138.2,43.7 138.7,44.6 139.3,45.1 139.9,45.3 140.5,45.7 141.1,46.3 141.6,46.9 142.2,46.8 142.8,47.4 143.4,48.4 144.0,48.5 144.5,48.4 145.1,48.8 145.7,49.1 146.3,49.4 146.9,49.9 147.4,49.8 148.0,50.8 148.6,51.1 149.2,51.3 149.8,51.5 150.3,51.9 150.9,52.1 151.5,53.1 152.1,53.1 152.7,53.8 153.2,54.7 153.8,55.0 154.4,54.9 155.0,55.8 155.6,56.8 156.1,58.0 156.7,58.2 157.3,58.8 157.9,59.4 158.5,59.5 159.0,61.0 159.6,62.4 160.2,64.4 160.8,66.3 161.4,68.0 161.9,70.1 162.5,71.1 163.1,74.1 163.7,76.0 164.3,77.2 164.8,78.9 165.4,80.5 166.0,80.9 166.6,82.5 167.2,83.9 167.7,84.4 168.3,85.4 168.9,86.5 169.5,87.2 170.1,88.0 170.6,89.3 171.2,90.5 171.8,91.4 172.4,91.5 173.0,91.9 173.5,92.7 174.1,93.3 174.7,93.8 175.3,95.1 175.9,95.4 176.4,96.9 177.0,96.9 177.6,97.6 178.2,98.5 178.8,99.2 179.3,100.1 179.9,100.4 180.5,100.8 181.1,101.9 181.7,102.4 182.2,103.5 182.8,104.0 183.4,105.1 184.0,105.5 184.6,106.5 185.1,107.2 185.7,108.3 186.3,109.4 186.9,110.1 187.5,110.6 188.0,111.5 188.6,113.1 189.2,113.9 189.8,115.0 190.4,116.3 190.9,118.1 191.5,118.9 192.1,120.8 192.7,121.9 193.3,123.8 193.8,125.7 194.4,128.6 195.0,129.8 195.6,132.0 196.2,134.8 196.7,136.4 197.3,139.1 197.9,141.6 198.5,144.1 199.1,146.7 199.6,149.0 200.2,150.4 200.8,153.7 201.4,156.1 202.0,158.7 202.5,161.0 203.1,163.2 203.7,165.5 204.3,167.1 204.9,169.4 205.4,171.0 206.0,173.3 206.6,174.4 207.2,176.2 207.7,177.6 208.3,179.3 208.9,181.0 209.5,181.9 210.1,183.8 210.6,185.1 211.2,187.0 211.8,187.5 212.4,189.3 213.0,189.7 214.7,192.4 216.4,197.2 218.2,201.9 219.9,198.4 221.7,198.3 223.4,200.4 225.1,209.3 226.9,202.5 228.6,203.8 230.4,204.5 232.1,204.1 233.8,207.9 235.6,205.6 237.3,202.4 239.1,209.4 240.8,214.0 242.5,207.8 244.3,206.4 246.0,214.3 247.8,210.8 249.5,204.7" fill="none" stroke="none" marker-start="url(#m4)" marker-mid="url(#m4)" marker-end="url(#m4)"/><polyline points="45.9,22.8 48.6,22.7 51.3,23.1 54.0,22.6 56.7,22.4 60.2,23.1 72.6,23.9 73.7,24.1 83.7,24.3 90.4,25.4 95.2,26.6 99.0,26.9 102.0,27.9 104.6,28.8 106.8,30.2 108.8,30.3 110.6,30.7 112.2,31.8 113.6,31.7 115.0,32.1 116.2,32.6 117.4,33.6 118.5,34.0 119.0,33.7 119.6,33.9 120.2,34.0 120.8,34.3 121.4,34.8 121.9,35.1 122.5,35.8 123.1,35.2 123.7,35.0 124.3,36.0 124.8,36.3 125.4,36.2 126.0,36.5 126.6,37.3 127.1,37.3 127.7,37.7 128.3,37.0 128.9,38.1 129.5,37.9 130.0,37.9 130.6,38.2 131.2,38.6 131.8,38.8 132.4,39.9 132.9,39.9 133.5,40.3 134.1,40.5 134.7,40.0 135.3,41.5 135.8,41.2 136.4,42.0 137.0,41.6 137.6,41.9 138.2,42.7 138.7,42.3 139.3,43.2 139.9,43.2 140.5,43.8 141.1,44.3 141.6,44.6 142.2,44.9 142.8,45.0 143.4,45.5 144.0,45.2 144.5,46.2 145.1,46.7 145.7,47.1 146.3,47.4 146.9,47.9 147.4,48.1 148.0,47.8 148.6,48.4 149.2,48.7 149.8,48.8 150.3,48.9 150.9,49.3 151.5,49.5 152.1,50.2 152.7,50.4 153.2,50.8 153.8,50.9 154.4,51.4 155.0,51.6 155.6,51.9 156.1,52.3 156.7,52.7 157.3,53.2 157.9,53.1 158.5,54.0 159.0,54.7 159.6,54.8 160.2,55.7 160.8,56.3 161.4,56.5 161.9,57.7 162.5,58.8 163.1,58.5 163.7,59.1 164.3,60.6 164.8,61.9 165.4,63.6 166.0,67.1 166.6,69.8 167.2,73.0 167.7,75.5 168.3,78.3 168.9,79.1 169.5,80.6 170.1,81.7 170.6,83.0 171.2,84.6 171.8,85.0 172.4,86.4 173.0,86.9 173.5,88.1 174.1,88.8 174.7,89.6 175.3,90.1 175.9,90.8 176.4,92.0 177.0,92.4 177.6,92.7 178.2,93.6 178.8,94.5 179.3,95.0 179.9,95.6 180.5,95.8 181.1,96.6 181.7,97.0 182.2,97.0 182.8,98.5 183.4,98.9 184.0,99.6 184.6,100.0 185.1,99.8 185.7,100.4 186.3,100.5 186.9,102.0 187.5,102.1 188.0,102.0 188.6,102.6 189.2,103.1 189.8,103.7 190.4,104.4 190.9,105.0 191.5,105.5 192.1,105.9 192.7,106.8 193.3,107.3 193.8,107.6 194.4,109.1 195.0,109.7 195.6,110.1 196.2,111.1 196.7,111.9 197.3,112.1 197.9,113.5 198.5,114.7 199.1,115.2 199.6,115.9 200.2,118.0 200.8,119.1 201.4,120.2 202.0,121.9 202.5,122.7 203.1,124.9 203.7,127.0 204.3,128.7 204.9,131.1 205.4,133.2 206.0,135.2 206.6,136.8 207.2,140.4 207.7,141.9 208.3,144.0 208.9,146.6 209.5,148.6 210.1,151.4 210.6,153.8 211.2,156.2 211.8,158.7 212.4,160.2 213.0,163.2 213.5,165.0 214.1,167.2 214.7,169.2 215.3,171.5 215.9,172.7 216.4,174.1 217.0,175.6 217.6,176.9 218.2,178.6 218.8,180.2 219.3,181.3 219.9,182.6 220.5,184.4 221.1,186.2 221.7,187.5 222.2,186.9 222.8,187.9 223.4,191.5 225.1,192.9 226.9,193.3 228.6,193.7 230.4,201.7 232.1,202.2 233.8,197.3 235.6,194.0 237.3,198.3 239.1,210.5 240.8,203.7 242.5,207.4 244.3,206.6 246.0,209.7 247.8,209.1 249.5,207.1 251.2,198.5 253.0,204.0 254.7,205.4 256.5,207.4 258.2,211.2" fill="none" stroke="none" marker-start="url(#m5)" marker-mid="url(#m5)" marker-end="url(#m5)"/><polyline points="45.9,22.8 48.6,22.4 51.3,22.5 54.0,22.3 56.7,22.8 60.2,23.0 72.6,24.2 73.7,23.7 83.7,25.1 90.4,24.9 95.2,26.5 99.0,27.2 102.0,28.4 104.6,28.9 106.8,29.7 108.8,29.8 110.6,30.6 112.2,31.6 113.6,32.3 115.0,32.2 116.2,32.8 117.4,33.3 118.5,33.2 119.0,33.7 119.6,33.8 120.2,34.2 120.8,34.4 121.4,34.5 121.9,35.1 122.5,34.6 123.1,34.9 123.7,35.7 124.3,35.4 124.8,35.3 125.4,35.8 126.0,35.7 126.6,36.3 127.1,36.5 127.7,37.1 128.3,37.2 128.9,37.7 129.5,37.7 130.0,37.6 130.6,37.7 131.2,37.8 131.8,38.3 132.4,38.9 132.9,38.8 133.5,39.2 134.1,38.9 134.7,39.1 135.3,39.6 135.8,40.5 136.4,40.6 137.0,40.7 137.6,41.2 138.2,41.1 138.7,41.4 139.3,41.6 139.9,42.1 140.5,42.7 141.1,42.9 141.6,43.0 142.2,42.9 142.8,43.1 143.4,43.6 144.0,44.1 144.5,44.3 145.1,44.5 145.7,44.7 146.3,45.1 146.9,46.1 147.4,45.7 148.0,46.2 148.6,46.8 149.2,46.8 149.8,47.2 150.3,47.5 150.9,48.3 151.5,48.0 152.1,48.2 152.7,48.6 153.2,49.3 153.8,49.0 154.4,49.2 155.0,49.6 155.6,49.8 156.1,50.3 156.7,50.6 157.3,50.6 157.9,51.1 158.5,51.2 159.0,50.7 159.6,51.7 160.2,52.2 160.8,53.1 161.4,52.9 161.9,53.1 162.5,53.9 163.1,54.2 163.7,55.2 164.3,54.9 164.8,55.7 165.4,55.8 166.0,56.2 166.6,57.2 167.2,57.4 167.7,58.3 168.3,59.0 168.9,59.8 169.5,60.7 170.1,61.4 170.6,63.2 171.2,65.9 171.8,67.6 172.4,70.5 173.0,73.1 173.5,74.6 174.1,77.3 174.7,78.2 175.3,79.6 175.9,80.5 176.4,81.6 177.0,82.4 177.6,83.6 178.2,84.4 178.8,85.4 179.3,86.0 179.9,87.2 180.5,87.6 181.1,88.2 181.7,89.4 182.2,90.0 182.8,91.0 183.4,91.6 184.0,92.1 184.6,92.9 185.1,93.6 185.7,94.0 186.3,94.5 186.9,95.0 187.5,95.4 188.0,96.7 188.6,96.3 189.2,97.2 189.8,97.9 190.4,98.3 190.9,98.5 191.5,98.9 192.1,99.7 192.7,100.0 193.3,101.0 193.8,100.9 194.4,101.4 195.0,102.0 195.6,102.1 196.2,102.3 196.7,102.9 197.3,103.9 197.9,103.7 198.5,104.8 199.1,105.2 199.6,105.8 200.2,106.0 200.8,106.5 201.4,107.1 202.0,107.8 202.5,108.3 203.1,109.0 203.7,109.2 204.3,110.2 204.9,110.7 205.4,111.4 206.0,112.2 206.6,112.7 207.2,113.8 207.7,114.0 208.3,114.7 208.9,115.8 209.5,116.1 210.1,117.6 210.6,118.1 211.2,119.0 211.8,120.3 212.4,121.3 213.0,122.0 213.5,123.4 214.1,124.5 214.7,125.4 215.3,127.0 215.9,128.8 216.4,129.8 217.0,130.7 217.6,132.3 218.2,134.0 218.8,135.7 219.3,136.5 219.9,137.6 220.5,139.8 221.1,141.6 221.7,142.3 222.2,144.1 222.8,145.5 223.4,147.0 224.0,148.7 224.6,149.8 225.1,151.2 225.7,152.8 226.3,154.5 226.9,155.6 227.5,157.3 228.0,158.6 228.6,160.4 229.2,161.4 229.8,162.7 230.4,163.9 230.9,165.6 231.5,166.7 232.1,168.3 232.7,169.1 233.3,170.3 233.8,171.3 234.4,172.8 235.0,174.1 235.6,174.8 236.2,175.8 236.7,176.9 237.3,177.5 237.9,178.3 238.5,179.4 239.1,180.2 240.2,182.2 241.4,184.3 242.5,186.1 243.7,187.7 244.9,188.1 246.6,189.6 248.3,192.6 250.1,192.2 251.8,197.9 253.6,197.5 255.3,193.9 257.0,198.1 258.8,197.1 260.5,208.6 262.3,209.1 264.0,206.9 265.7,200.0 267.5,197.9 269.2,208.1 271.0,210.2 272.7,210.9 274.4,210.8 276.2,204.4 277.9,208.8 279.7,198.5" fill="none" stroke="none" marker-start="url(#m6)" marker-mid="url(#m6)" marker-end="url(#m6)"/><polyline points="45.9,22.5 48.6,22.9 51.3,22.7 54.0,22.9 56.7,22.7 60.2,22.8 72.6,23.8 73.7,23.5 83.7,24.4 90.4,25.4 95.2,26.2 99.0,27.0 102.0,28.1 104.6,28.9 106.8,29.0 108.8,30.0 110.6,30.7 112.2,30.9 113.6,32.0 115.0,32.0 116.2,32.8 117.4,32.9 118.5,33.7 119.0,33.6 119.6,33.3 120.2,33.8 120.8,34.3 121.4,33.7 121.9,34.6 122.5,34.2 123.1,34.9 123.7,35.4 124.3,34.6 124.8,35.5 125.4,35.3 126.0,35.4 126.6,36.3 127.1,36.1 127.7,36.5 128.3,36.4 128.9,36.8 129.5,37.4 130.0,37.2 130.6,37.3 131.2,37.8 131.8,37.8 132.4,38.3 132.9,38.4 133.5,38.5 134.1,38.8 134.7,38.8 135.3,39.1 135.8,39.4 136.4,39.7 137.0,40.1 137.6,40.7 138.2,40.3 138.7,40.4 139.3,41.1 139.9,41.5 140.5,41.7 141.1,41.6 141.6,42.1 142.2,42.8 142.8,42.8 143.4,43.2 144.0,43.4 144.5,43.8 145.1,44.1 145.7,43.7 146.3,44.1 146.9,45.2 147.4,45.3 148.0,45.4 148.6,45.7 149.2,46.3 149.8,45.9 150.3,46.9 150.9,46.6 151.5,46.9 152.1,47.5 152.7,47.8 153.2,47.9 153.8,48.2 154.4,49.1 155.0,49.1 155.6,48.9 156.1,49.3 156.7,49.7 157.3,50.1 157.9,50.3 158.5,50.6 159.0,49.9 159.6,51.3 160.2,50.9 160.8,51.5 161.4,51.8 161.9,52.2 162.5,52.6 163.1,52.4 163.7,53.1 164.3,53.6 164.8,54.0 165.4,54.3 166.0,55.0 166.6,55.2 167.2,55.7 167.7,55.8 168.3,56.3 168.9,57.4 169.5,57.5 170.1,57.6 170.6,58.8 171.2,59.3 171.8,59.3 172.4,60.2 173.0,61.0 173.5,62.1 174.1,62.7 174.7,64.0 175.3,65.1 175.9,66.3 176.4,67.7 177.0,69.4 177.6,70.9 178.2,72.1 178.8,73.6 179.3,74.8 179.9,76.3 180.5,77.4 181.1,78.6 181.7,79.5 182.2,80.1 182.8,80.7 183.4,82.0 184.0,82.4 184.6,83.3 185.1,84.1 185.7,84.7 186.3,85.7 186.9,86.1 187.5,86.9 188.0,88.6 188.6,88.2 189.2,88.7 189.8,89.0 190.4,90.4 190.9,90.7 191.5,91.2 192.1,92.2 192.7,92.1 193.3,92.9 193.8,93.8 194.4,94.4 195.0,94.7 195.6,94.5 196.2,95.1 196.7,96.9 197.3,97.2 197.9,97.0 198.5,97.7 199.1,98.4 199.6,98.5 200.2,99.2 200.8,99.6 201.4,100.1 202.0,101.0 202.5,100.8 203.1,101.8 203.7,101.9 204.3,102.5 204.9,103.2 205.4,103.7 206.0,104.3 206.6,105.3 207.2,105.5 207.7,105.8 208.3,106.9 208.9,107.5 209.5,107.3 210.1,108.0 210.6,109.2 211.2,109.3 211.8,110.0 212.4,110.4 213.0,111.4 213.5,112.0 214.1,112.9 214.7,113.3 215.3,114.1 215.9,115.0 216.4,115.6 217.0,116.5 217.6,116.9 218.2,118.2 218.8,119.2 219.3,119.9 219.9,120.2 220.5,121.6 221.1,122.3 221.7,123.3 222.2,124.7 222.8,125.4 223.4,126.6 224.0,127.8 224.6,129.2 225.1,130.2 225.7,131.7 226.3,132.6 226.9,133.9 227.5,134.9 228.0,136.2 228.6,137.7 229.2,138.6 229.8,139.7 230.4,141.4 230.9,142.9 231.5,143.8 232.1,146.0 232.7,146.8 233.3,147.7 233.8,148.7 234.4,150.7 235.0,151.4 235.6,152.5 236.2,153.9 236.7,156.4 237.3,156.6 237.9,158.2 238.5,159.2 239.1,160.7 240.2,163.3 241.4,165.5 242.5,167.2 243.7,169.5 244.9,171.8 246.0,173.5 247.2,175.1 248.3,176.9 249.5,178.8 250.7,180.6 251.8,182.2 253.0,183.7 254.1,185.4 255.3,187.7 256.5,189.4 257.6,188.3 259.4,193.0 261.1,195.3 262.8,194.2 264.6,191.8 266.3,193.1 268.1,198.6 269.8,201.5 271.5,201.0 273.3,203.2 275.0,202.9 276.8,199.9 278.5,206.4 280.2,206.0 282.0,204.6 283.7,204.2 285.5,207.8 287.2,208.4 288.9,210.3 290.7,209.1 292.4,203.7 294.1,207.4 295.9,214.3" fill="none" stroke="none" marker-start="url(#m7)" marker-mid="url(#m7)" marker-end="url(#m7)"/><polyline points="45.9,22.5 48.6,22.7 51.3,23.0 54.0,22.9 56.7,23.8 60.2,23.5 72.6,23.4 73.7,23.2 83.7,23.9 90.4,25.6 95.2,26.2 99.0,26.9 102.0,28.2 104.6,28.1 106.8,29.5 108.8,29.8 110.6,30.7 112.2,30.8 113.6,31.4 115.0,31.5 116.2,32.6 117.4,32.6 118.5,32.5 119.0,33.5 119.6,33.3 120.2,33.4 120.8,33.9 121.4,34.0 121.9,33.7 122.5,34.0 123.1,34.3 123.7,34.6 124.3,35.2 124.8,35.0 125.4,34.7 126.0,35.1 126.6,36.0 127.1,36.4 127.7,36.2 128.3,36.2 128.9,36.6 129.5,36.7 130.0,36.7 130.6,36.8 131.2,37.2 131.8,37.1 132.4,38.1 132.9,37.8 133.5,38.0 134.1,38.8 134.7,38.2 135.3,39.3 135.8,39.5 136.4,38.5 137.0,39.1 137.6,39.6 138.2,39.6 138.7,39.9 139.3,40.8 139.9,40.6 140.5,40.5 141.1,41.2 141.6,41.4 142.2,41.8 142.8,41.7 143.4,42.4 144.0,42.6 144.5,43.1 145.1,43.2 145.7,43.2 146.3,43.4 146.9,43.9 147.4,44.3 148.0,44.2 148.6,44.5 149.2,44.5 149.8,45.3 150.3,45.5 150.9,45.5 151.5,45.5 152.1,46.2 152.7,46.5 153.2,47.1 153.8,47.2 154.4,47.1 155.0,47.4 155.6,47.6 156.1,48.6 156.7,48.2 157.3,49.0 157.9,48.8 158.5,50.0 159.0,49.6 159.6,50.1 160.2,49.7 160.8,50.4 161.4,50.3 161.9,51.1 162.5,50.7 163.1,51.7 163.7,51.3 164.3,52.3 164.8,52.8 165.4,52.6 166.0,53.3 166.6,53.5 167.2,54.2 167.7,54.3 168.3,54.5 168.9,55.1 169.5,55.2 170.1,56.3 170.6,55.8 171.2,56.6 171.8,56.5 172.4,57.4 173.0,57.9 173.5,58.3 174.1,58.6 174.7,59.0 175.3,59.8 175.9,60.4 176.4,60.5 177.0,61.0 177.6,62.5 178.2,63.0 178.8,63.7 179.3,63.8 179.9,64.8 180.5,65.8 181.1,66.8 181.7,68.2 182.2,68.5 182.8,69.9 183.4,71.0 184.0,71.2 184.6,73.1 185.1,73.2 185.7,74.5 186.3,75.8 186.9,76.3 187.5,77.5 188.0,78.0 188.6,79.0 189.2,79.9 189.8,79.5 190.4,81.1 190.9,81.4 191.5,82.3 192.1,82.8 192.7,84.0 193.3,84.6 193.8,85.9 194.4,85.3 195.0,86.1 195.6,87.1 196.2,87.2 196.7,87.8 197.3,87.7 197.9,89.1 198.5,89.5 199.1,90.2 199.6,90.7 200.2,91.5 200.8,92.2 201.4,92.4 202.0,92.8 202.5,94.0 203.1,94.6 203.7,94.8 204.3,94.8 204.9,95.9 205.4,96.9 206.0,96.7 206.6,97.3 207.2,97.4 207.7,98.5 208.3,98.5 208.9,99.8 209.5,99.9 210.1,100.7 210.6,101.6 211.2,101.9 211.8,101.9 212.4,102.6 213.0,103.5 213.5,103.7 214.1,104.3 214.7,104.8 215.3,105.6 215.9,106.2 216.4,107.1 217.0,107.4 217.6,108.0 218.2,108.8 218.8,109.3 219.3,109.8 219.9,110.4 220.5,110.8 221.1,112.0 221.7,112.5 222.2,112.9 222.8,113.8 223.4,114.2 224.0,115.2 224.6,115.4 225.1,116.5 225.7,117.5 226.3,117.6 226.9,118.1 227.5,119.9 228.0,120.2 228.6,120.9 229.2,121.5 229.8,122.2 230.4,123.5 230.9,124.8 231.5,125.0 232.1,125.8 232.7,126.9 233.3,128.0 233.8,129.1 234.4,129.2 235.0,131.2 235.6,132.2 236.2,132.5 236.7,133.7 237.3,134.6 237.9,135.7 238.5,136.3 239.1,137.4 240.2,140.0 241.4,141.6 242.5,144.3 243.7,146.5 244.9,147.8 246.0,150.3 247.2,152.9 248.3,154.3 249.5,156.5 250.7,158.1 251.8,160.2 253.0,162.3 254.1,164.2 255.3,165.6 256.5,167.8 257.6,169.2 258.8,171.2 259.9,172.3 261.1,173.4 262.3,175.1 263.4,176.3 264.6,177.9 265.7,179.6 266.9,180.8 268.1,182.0 269.2,183.2 270.4,184.7 271.5,185.4 272.7,187.5 273.9,188.0 275.0,189.1 276.2,191.8 277.9,189.9 279.7,192.7 281.4,193.7 283.1,194.9 284.9,201.2 286.6,200.4 288.3,200.0 290.1,195.2 291.8,200.8 293.6,197.6 295.3,203.8 297.0,203.9 298.8,203.2 300.5,198.0 302.3,209.0 304.0,203.7 305.7,201.8 307.5,203.4 309.2,204.5 311.0,201.4 312.7,203.9 314.4,210.1 316.2,203.0 317.9,209.8 319.7,208.1" fill="none" stroke="none" marker-start="url(#m8)" marker-mid="url(#m8)" marker-end="url(#m8)"/><polyline points="45.9,22.3 48.6,22.0 51.3,22.3 54.0,22.7 56.7,23.1 60.2,23.2 72.6,23.2 73.7,23.7 83.7,25.0 90.4,24.9 95.2,26.0 99.0,26.7 102.0,27.7 104.6,29.2 106.8,29.4 108.8,29.8 110.6,30.3 112.2,30.3 113.6,31.4 115.0,31.7 116.2,32.1 117.4,32.5 118.5,33.1 119.0,33.3 119.6,33.9 120.2,33.3 120.8,33.6 121.4,33.7 121.9,34.2 122.5,34.1 123.1,34.6 123.7,34.8 124.3,34.6 124.8,34.6 125.4,34.8 126.0,35.2 126.6,35.5 127.1,35.2 127.7,35.4 128.3,36.1 128.9,36.4 129.5,36.2 130.0,36.4 130.6,37.0 131.2,36.3 131.8,37.7 132.4,37.6 132.9,37.5 133.5,37.5 134.1,38.5 134.7,38.3 135.3,38.0 135.8,38.2 136.4,38.9 137.0,39.0 137.6,39.5 138.2,39.3 138.7,40.0 139.3,40.5 139.9,40.6 140.5,40.4 141.1,41.0 141.6,40.5 142.2,40.7 142.8,41.0 143.4,41.3 144.0,41.4 144.5,41.9 145.1,42.0 145.7,42.4 146.3,42.5 146.9,43.3 147.4,43.4 148.0,43.8 148.6,43.5 149.2,43.9 149.8,44.5 150.3,44.8 150.9,44.9 151.5,44.8 152.1,45.3 152.7,45.6 153.2,46.0 153.8,46.1 154.4,45.9 155.0,46.8 155.6,47.0 156.1,46.7 156.7,47.2 157.3,48.0 157.9,47.7 158.5,48.6 159.0,48.4 159.6,49.5 160.2,49.4 160.8,49.1 161.4,49.8 161.9,50.1 162.5,50.2 163.1,50.5 163.7,50.9 164.3,51.3 164.8,50.9 165.4,51.2 166.0,51.9 166.6,52.6 167.2,52.8 167.7,53.0 168.3,53.1 168.9,53.1 169.5,54.0 170.1,54.2 170.6,54.7 171.2,54.9 171.8,55.5 172.4,55.5 173.0,55.6 173.5,56.5 174.1,56.8 174.7,57.1 175.3,57.9 175.9,57.4 176.4,58.7 177.0,58.8 177.6,59.4 178.2,59.1 178.8,60.1 179.3,60.6 179.9,60.3 180.5,61.4 181.1,62.1 181.7,62.5 182.2,63.0 182.8,63.9 183.4,64.3 184.0,65.0 184.6,65.3 185.1,66.0 185.7,66.6 186.3,67.6 186.9,68.0 187.5,69.0 188.0,69.3 188.6,70.2 189.2,71.2 189.8,71.4 190.4,72.9 190.9,73.5 191.5,74.1 192.1,74.6 192.7,75.6 193.3,76.3 193.8,77.1 194.4,77.2 195.0,78.1 195.6,77.9 196.2,78.9 196.7,80.0 197.3,79.9 197.9,80.8 198.5,81.1 199.1,82.3 199.6,82.2 200.2,82.7 200.8,83.7 201.4,84.4 202.0,84.8 202.5,85.1 203.1,85.0 203.7,85.7 204.3,86.3 204.9,87.3 205.4,87.8 206.0,88.1 206.6,88.8 207.2,89.4 207.7,89.8 208.3,90.0 208.9,90.7 209.5,91.1 210.1,91.7 210.6,92.2 211.2,92.7 211.8,92.7 212.4,93.5 213.0,93.6 213.5,94.6 214.1,94.7 214.7,95.9 215.3,96.1 215.9,96.4 216.4,97.1 217.0,97.4 217.6,98.1 218.2,98.4 218.8,99.0 219.3,99.3 219.9,99.9 220.5,100.6 221.1,100.9 221.7,101.2 222.2,102.1 222.8,102.2 223.4,102.4 224.0,103.3 224.6,103.6 225.1,104.1 225.7,105.0 226.3,104.9 226.9,105.1 227.5,106.7 228.0,106.3 228.6,107.6 229.2,107.6 229.8,109.0 230.4,108.8 230.9,109.6 231.5,110.6 232.1,111.0 232.7,111.7 233.3,112.2 233.8,112.4 234.4,113.2 235.0,114.5 235.6,114.5 236.2,114.9 236.7,115.6 237.3,115.8 237.9,117.5 238.5,117.5 239.1,118.3 240.2,119.5 241.4,121.6 242.5,123.1 243.7,124.4 244.9,126.0 246.0,128.3 247.2,129.5 248.3,131.4 249.5,133.1 250.7,136.0 251.8,137.0 253.0,139.4 254.1,141.3 255.3,142.9 256.5,144.6 257.6,147.1 258.8,149.2 259.9,150.7 261.1,153.4 262.3,155.1 263.4,157.2 264.6,159.2 265.7,160.7 266.9,162.0 268.1,164.4 269.2,166.0 270.4,167.9 271.5,169.2 272.7,171.0 273.9,172.8 275.0,173.9 276.2,174.9 277.3,176.6 278.5,177.6 279.7,179.2 280.8,179.9 282.0,181.7 283.1,182.8 284.3,184.3 285.5,185.0 286.6,186.7 287.8,189.0 288.9,188.4 290.1,191.4 291.8,188.8 293.6,190.9 295.3,193.4 297.0,192.8 298.8,201.5 300.5,192.0 302.3,198.5 304.0,195.5 305.7,190.3 307.5,203.7 309.2,200.5 311.0,198.6 312.7,198.8 314.4,206.7 316.2,204.6 317.9,196.1 319.7,204.4 321.4,200.4 323.1,208.4 324.9,207.1 326.6,211.3 328.4,203.0 330.1,199.5 331.8,204.4 333.6,206.4 335.3,204.4" fill="none" stroke="none" marker-start="url(#m9)" marker-mid="url(#m9)" marker-end="url(#m9)"/><polyline points="45.9,22.6 48.6,22.8 51.3,22.6 54.0,22.2 56.7,22.2 60.2,23.2 72.6,24.0 73.7,23.2 83.7,24.3 90.4,25.8 95.2,28.1 99.0,30.3 102.0,31.5 104.6,32.6 106.8,33.4 108.8,34.6 110.6,34.4 112.2,35.1 113.6,35.4 115.0,35.4 116.2,35.9 117.4,35.3 118.5,36.0 119.0,36.1 119.6,36.4 120.2,36.3 120.8,36.5 121.4,36.4 121.9,36.4 122.5,36.5 123.1,37.2 123.7,37.0 124.3,36.9 124.8,37.4 125.4,37.0 126.0,37.2 126.6,37.2 127.1,37.2 127.7,37.6 128.3,37.0 128.9,37.2 129.5,37.8 130.0,37.6 130.6,37.5 131.2,38.1 131.8,38.0 132.4,37.8 132.9,38.8 133.5,38.5 134.1,38.1 134.7,38.1 135.3,38.6 135.8,38.2 136.4,37.9 137.0,38.5 137.6,38.7 138.2,38.7 138.7,39.1 139.3,38.8 139.9,39.0 140.5,38.9 141.1,38.8 141.6,39.3 142.2,39.3 142.8,39.4 143.4,39.1 144.0,40.1 144.5,39.8 145.1,40.1 145.7,40.0 146.3,39.9 146.9,40.2 147.4,40.2 148.0,40.4 148.6,40.8 149.2,40.9 149.8,41.3 150.3,40.9 150.9,41.3 151.5,41.1 152.1,41.2 152.7,41.8 153.2,42.1 153.8,41.7 154.4,42.3 155.0,42.2 155.6,42.2 156.1,42.7 156.7,42.2 157.3,43.1 157.9,43.0 158.5,43.4 159.0,44.3 159.6,43.7 160.2,43.9 160.8,43.9 161.4,44.3 161.9,44.7 162.5,44.8 163.1,45.0 163.7,44.9 164.3,45.4 164.8,45.1 165.4,45.5 166.0,46.2 166.6,45.9 167.2,47.1 167.7,46.6 168.3,47.2 168.9,47.1 169.5,47.0 170.1,47.6 170.6,47.9 171.2,47.7 171.8,48.6 172.4,48.8 173.0,48.6 173.5,48.9 174.1,49.8 174.7,49.6 175.3,49.7 175.9,50.2 176.4,50.6 177.0,50.7 177.6,50.9 178.2,51.5 178.8,51.3 179.3,52.3 179.9,52.1 180.5,51.8 181.1,53.0 181.7,53.0 182.2,53.9 182.8,53.8 183.4,54.2 184.0,54.2 184.6,54.6 185.1,54.3 185.7,55.4 186.3,55.4 186.9,55.7 187.5,55.9 188.0,56.1 188.6,57.1 189.2,56.4 189.8,57.4 190.4,57.8 190.9,58.4 191.5,58.4 192.1,59.1 192.7,58.9 193.3,59.5 193.8,59.6 194.4,60.3 195.0,60.5 195.6,60.2 196.2,60.9 196.7,61.6 197.3,62.4 197.9,62.1 198.5,63.5 199.1,63.8 199.6,63.5 200.2,64.5 200.8,64.4 201.4,65.1 202.0,65.1 202.5,65.7 203.1,66.5 203.7,67.4 204.3,67.5 204.9,67.8 205.4,68.7 206.0,70.0 206.6,69.8 207.2,70.3 207.7,70.8 208.3,71.4 208.9,71.5 209.5,72.7 210.1,72.7 210.6,73.9 211.2,74.5 211.8,74.7 212.4,75.1 213.0,75.7 213.5,76.2 214.1,76.3 214.7,76.9 215.3,77.6 215.9,78.1 216.4,78.9 217.0,79.5 217.6,80.2 218.2,80.5 218.8,81.2 219.3,81.6 219.9,81.8 220.5,82.5 221.1,82.8 221.7,84.1 222.2,85.0 222.8,85.3 223.4,85.0 224.0,86.0 224.6,86.9 225.1,87.1 225.7,88.2 226.3,88.2 226.9,89.4 227.5,90.1 228.0,90.4 228.6,91.6 229.2,92.0 229.8,92.1 230.4,93.2 230.9,94.3 231.5,94.7 232.1,95.4 232.7,96.3 233.3,96.7 233.8,97.1 234.4,98.2 235.0,98.7 235.6,99.7 236.2,100.5 236.7,101.6 237.3,101.9 237.9,102.6 238.5,103.9 239.1,104.8 240.2,106.1 241.4,107.9 242.5,109.4 243.7,111.3 244.9,113.2 246.0,115.3 247.2,116.5 248.3,118.4 249.5,120.6 250.7,122.4 251.8,124.2 253.0,125.2 254.1,127.3 255.3,129.8 256.5,130.9 257.6,132.6 258.8,134.2 259.9,135.9 261.1,137.8 262.3,139.3 263.4,141.0 264.6,143.2 265.7,144.5 266.9,146.8 268.1,148.8 269.2,150.3 270.4,152.6 271.5,154.1 272.7,156.1 273.9,157.6 275.0,159.2 276.2,161.7 277.3,162.7 278.5,164.5 279.7,166.4 280.8,168.0 282.0,170.0 283.1,172.1 284.3,174.2 285.5,175.8 286.6,177.9 287.8,180.7 288.9,182.8 290.1,185.4 291.2,186.6 292.4,190.6 294.1,196.3" fill="none" stroke="none" marker-start="url(#m10)" marker-mid="url(#m10)" marker-end="url(#m10)"/><polyline points="45.9,22.3 48.6,22.6 51.3,22.7 54.0,22.7 56.7,22.9 60.2,23.0 72.6,23.4 73.7,23.7 83.7,24.7 90.4,25.6 95.2,26.4 99.0,28.3 102.0,29.7 104.6,30.2 106.8,31.4 108.8,31.0 110.6,32.1 112.2,32.7 113.6,33.2 115.0,33.1 116.2,34.2 117.4,34.2 118.5,34.9 119.0,34.2 119.6,34.7 120.2,34.3 120.8,35.0 121.4,35.3 121.9,35.3 122.5,35.0 123.1,35.5 123.7,35.3 124.3,35.7 124.8,35.8 125.4,35.8 126.0,35.3 126.6,36.2 127.1,35.8 127.7,35.8 128.3,36.3 128.9,36.6 129.5,35.8 130.0,35.9 130.6,36.5 131.2,36.9 131.8,36.4 132.4,36.7 132.9,37.0 133.5,36.9 134.1,37.6 134.7,37.2 135.3,37.4 135.8,37.5 136.4,37.1 137.0,37.2 137.6,36.9 138.2,38.2 138.7,37.7 139.3,37.8 139.9,37.3 140.5,37.5 141.1,37.8 141.6,37.9 142.2,38.2 142.8,38.2 143.4,38.3 144.0,39.0 144.5,37.8 145.1,38.2 145.7,37.9 146.3,38.2 146.9,38.5 147.4,38.5 148.0,39.3 148.6,39.2 149.2,38.8 149.8,39.2 150.3,39.7 150.9,39.3 151.5,39.8 152.1,39.5 152.7,39.2 153.2,40.1 153.8,40.0 154.4,39.8 155.0,40.1 155.6,40.2 156.1,40.6 156.7,40.6 157.3,41.3 157.9,40.8 158.5,40.5 159.0,41.3 159.6,41.2 160.2,41.1 160.8,41.0 161.4,41.2 161.9,42.0 162.5,42.0 163.1,41.5 163.7,42.3 164.3,42.3 164.8,42.8 165.4,42.9 166.0,43.7 166.6,43.2 167.2,43.9 167.7,43.7 168.3,43.9 168.9,43.4 169.5,43.8 170.1,44.1 170.6,44.5 171.2,45.0 171.8,44.7 172.4,45.3 173.0,45.3 173.5,45.2 174.1,45.7 174.7,45.9 175.3,46.4 175.9,46.0 176.4,46.4 177.0,46.6 177.6,46.6 178.2,47.8 178.8,47.5 179.3,47.6 179.9,47.9 180.5,48.2 181.1,48.4 181.7,49.2 182.2,49.1 182.8,49.0 183.4,49.6 184.0,49.9 184.6,49.8 185.1,50.9 185.7,50.5 186.3,50.5 186.9,51.3 187.5,51.7 188.0,51.6 188.6,52.2 189.2,52.6 189.8,52.6 190.4,53.4 190.9,53.0 191.5,53.8 192.1,54.0 192.7,53.9 193.3,54.4 193.8,54.6 194.4,54.6 195.0,54.9 195.6,55.0 196.2,56.1 196.7,56.0 197.3,57.1 197.9,56.7 198.5,56.8 199.1,57.8 199.6,57.7 200.2,58.0 200.8,58.6 201.4,59.1 202.0,58.8 202.5,60.0 203.1,59.9 203.7,60.1 204.3,60.7 204.9,60.7 205.4,61.1 206.0,61.8 206.6,61.9 207.2,62.6 207.7,63.6 208.3,63.8 208.9,64.1 209.5,64.6 210.1,65.6 210.6,64.9 211.2,66.5 211.8,66.9 212.4,66.9 213.0,67.5 213.5,67.6 214.1,68.5 214.7,68.9 215.3,69.3 215.9,70.3 216.4,71.0 217.0,71.2 217.6,71.3 218.2,72.2 218.8,72.3 219.3,73.3 219.9,73.5 220.5,74.2 221.1,74.5 221.7,75.3 222.2,75.7 222.8,76.5 223.4,76.5 224.0,77.4 224.6,77.8 225.1,78.3 225.7,79.3 226.3,79.8 226.9,80.2 227.5,80.3 228.0,81.6 228.6,82.2 229.2,82.7 229.8,83.1 230.4,83.9 230.9,84.4 231.5,84.6 232.1,85.7 232.7,86.0 233.3,87.0 233.8,87.3 234.4,87.7 235.0,89.1 235.6,89.1 236.2,89.7 236.7,90.4 237.3,91.0 237.9,91.6 238.5,92.8 239.1,93.1 240.2,94.2 241.4,95.4 242.5,97.7 243.7,98.9 244.9,100.7 246.0,101.9 247.2,103.8 248.3,105.4 249.5,106.6 250.7,107.9 251.8,110.9 253.0,111.5 254.1,114.0 255.3,115.3 256.5,117.2 257.6,118.7 258.8,120.8 259.9,122.8 261.1,124.3 262.3,125.7 263.4,128.0 264.6,129.4 265.7,131.2 266.9,132.9 268.1,134.8 269.2,136.4 270.4,138.1 271.5,140.2 272.7,142.0 273.9,144.4 275.0,145.8 276.2,147.8 277.3,149.0 278.5,151.3 279.7,153.0 280.8,154.4 282.0,156.1 283.1,157.9 284.3,160.3 285.5,161.9 286.6,163.5 287.8,165.9 288.9,167.5 290.1,169.7 291.2,171.4 292.4,172.8 293.6,174.8 294.7,176.8 295.9,178.7 297.0,179.9 298.2,182.0 299.4,184.4 300.5,184.7 301.7,188.1 302.8,189.7" fill="none" stroke="none" marker-start="url(#m11)" marker-mid="url(#m11)" marker-end="url(#m11)"/><polyline points="45.9,22.9 48.6,22.9 51.3,22.6 54.0,23.2 56.7,22.9 60.2,23.1 72.6,23.2 73.7,23.7 83.7,24.4 90.4,25.3 95.2,26.3 99.0,27.4 102.0,29.0 104.6,29.0 106.8,29.9 108.8,30.2 110.6,30.8 112.2,31.5 113.6,32.1 115.0,32.5 116.2,32.5 117.4,32.9 118.5,33.4 119.0,33.4 119.6,33.3 120.2,33.7 120.8,33.7 121.4,34.0 121.9,34.7 122.5,34.0 123.1,34.2 123.7,34.1 124.3,34.0 124.8,34.7 125.4,34.5 126.0,34.7 126.6,34.8 127.1,34.7 127.7,34.8 128.3,35.5 128.9,34.8 129.5,35.4 130.0,35.6 130.6,35.7 131.2,35.7 131.8,36.0 132.4,35.5 132.9,35.7 133.5,36.2 134.1,35.8 134.7,36.0 135.3,36.2 135.8,36.0 136.4,36.4 137.0,36.5 137.6,36.4 138.2,37.1 138.7,37.0 139.3,36.6 139.9,36.5 140.5,37.4 141.1,37.0 141.6,37.3 142.2,37.2 142.8,37.0 143.4,36.9 144.0,36.9 144.5,37.2 145.1,37.4 145.7,37.6 146.3,38.2 146.9,37.7 147.4,38.2 148.0,38.3 148.6,38.0 149.2,38.6 149.8,37.7 150.3,38.1 150.9,38.3 151.5,38.3 152.1,38.5 152.7,38.6 153.2,38.5 153.8,39.0 154.4,38.8 155.0,39.0 155.6,38.9 156.1,39.5 156.7,39.2 157.3,39.5 157.9,39.3 158.5,39.5 159.0,39.7 159.6,39.7 160.2,39.8 160.8,39.7 161.4,40.1 161.9,40.2 162.5,40.7 163.1,40.6 163.7,40.5 164.3,40.5 164.8,41.3 165.4,41.1 166.0,41.3 166.6,41.4 167.2,41.7 167.7,41.8 168.3,41.9 168.9,42.0 169.5,41.9 170.1,42.6 170.6,42.8 171.2,42.5 171.8,42.7 172.4,43.1 173.0,43.6 173.5,43.1 174.1,43.9 174.7,43.5 175.3,43.9 175.9,44.2 176.4,44.4 177.0,44.4 177.6,44.8 178.2,45.5 178.8,45.4 179.3,46.1 179.9,45.5 180.5,45.6 181.1,45.8 181.7,46.7 182.2,46.0 182.8,46.3 183.4,47.1 184.0,47.8 184.6,47.8 185.1,47.5 185.7,47.4 186.3,48.4 186.9,49.0 187.5,49.0 188.0,48.5 188.6,49.3 189.2,50.0 189.8,50.4 190.4,49.9 190.9,50.1 191.5,50.8 192.1,51.0 192.7,51.2 193.3,51.6 193.8,51.9 194.4,52.2 195.0,52.5 195.6,52.3 196.2,52.8 196.7,52.9 197.3,53.0 197.9,54.4 198.5,54.1 199.1,54.1 199.6,54.8 200.2,55.2 200.8,55.2 201.4,55.8 202.0,56.2 202.5,56.3 203.1,56.6 203.7,56.9 204.3,57.0 204.9,57.5 205.4,58.0 206.0,57.3 206.6,58.6 207.2,58.9 207.7,59.3 208.3,59.8 208.9,60.4 209.5,60.3 210.1,60.3 210.6,61.7 211.2,61.8 211.8,61.9 212.4,62.6 213.0,62.7 213.5,63.3 214.1,64.0 214.7,64.3 215.3,64.8 215.9,65.0 216.4,66.3 217.0,66.0 217.6,66.2 218.2,67.0 218.8,67.5 219.3,68.2 219.9,68.4 220.5,69.1 221.1,69.9 221.7,70.4 222.2,71.2 222.8,71.0 223.4,71.6 224.0,71.8 224.6,72.6 225.1,73.0 225.7,74.1 226.3,74.8 226.9,74.9 227.5,75.4 228.0,75.7 228.6,76.4 229.2,76.9 229.8,77.4 230.4,77.9 230.9,78.4 231.5,78.9 232.1,79.7 232.7,80.2 233.3,81.1 233.8,81.6 234.4,81.9 235.0,82.3 235.6,83.2 236.2,84.0 236.7,83.9 237.3,85.0 237.9,85.9 238.5,86.3 239.1,87.0 240.2,88.5 241.4,89.2 242.5,89.9 243.7,91.9 244.9,93.3 246.0,94.1 247.2,95.8 248.3,97.3 249.5,98.4 250.7,100.6 251.8,101.9 253.0,103.3 254.1,105.1 255.3,107.2 256.5,108.8 257.6,109.7 258.8,112.0 259.9,113.8 261.1,115.2 262.3,117.8 263.4,119.0 264.6,121.3 265.7,122.1 266.9,124.5 268.1,125.9 269.2,128.0 270.4,129.4 271.5,131.1 272.7,133.0 273.9,134.9 275.0,136.5 276.2,138.4 277.3,140.3 278.5,141.7 279.7,143.5 280.8,145.9 282.0,147.6 283.1,149.4 284.3,150.9 285.5,153.2 286.6,154.1 287.8,156.4 288.9,158.2 290.1,159.9 291.2,162.2 292.4,163.8 293.6,165.6 294.7,167.2 295.9,169.7 297.0,170.9 298.2,172.9 299.4,174.9 300.5,176.4 301.7,178.6 302.8,180.3 304.0,181.7 305.2,183.8 306.3,184.9 307.5,186.0 308.6,188.6" fill="none" stroke="none" marker-start="url(#m12)" marker-mid="url(#m12)" marker-end="url(#m12)"/><path d="M131.9 48.6L132.4 49.2L133.0 49.8L133.5 50.4L134.0 51.0L134.6 51.6L135.1 52.2L135.6 52.9L136.1 53.5L136.7 54.2L137.2 54.8L137.7 55.5L138.2 56.2L138.8 56.9L139.3 57.6L139.8 58.4L140.3 59.1L140.9 59.9L141.4 60.6L141.9 61.4L142.4 62.2L143.0 63.1L143.5 63.9L144.0 64.8L144.5 65.7L145.1 66.6L145.6 67.5L146.1 68.5L146.6 69.4L147.2 70.4L147.7 71.3L148.2 72.3L148.7 73.3L149.3 74.3L149.8 75.3L150.3 76.3L150.8 77.3L151.4 78.3L151.9 79.4L152.4 80.4L152.9 81.4L153.5 82.4L154.0 83.4L154.5 84.3L155.0 85.3L155.6 86.3L156.1 87.3L156.6 88.3L157.1 89.3L157.7 90.3L158.2 91.3L158.7 92.3L159.2 93.4L159.8 94.4L160.3 95.4L160.8 96.5L161.3 97.6L161.9 98.7L162.4 99.8L162.9 100.9L163.4 102.1L164.0 103.3L164.5 104.4L165.0 105.7L165.6 106.9L166.1 108.2L166.6 109.5L167.1 110.8L167.7 112.2L168.2 113.6L168.7 115.0L169.2 116.5L169.8 118.0L170.3 119.6L170.8 121.3L171.3 123.2L171.9 125.2L172.4 127.2L172.9 129.4L173.4 131.6L174.0 133.9L174.5 136.3L175.0 138.7L175.5 141.1L176.1 143.6L176.6 146.1L177.1 148.5L177.6 151.0L178.2 153.5L178.7 155.9L179.2 158.3L179.7 160.6L180.3 162.9L180.8 165.1L181.3 167.2L181.8 169.2L182.4 171.2L182.9 173.0L183.4 174.7L183.9 176.3L184.5 177.9L185.0 179.4L185.5 181.0L186.0 182.5L186.6 183.9L187.1 185.4L187.6 186.7L188.1 188.0L188.7 189.3L189.2 190.5L189.7 191.6L190.2 192.6L190.8 193.5L191.3 194.3L191.8 195.1L192.3 195.9L192.9 196.7L193.4 197.4L193.9 198.2L194.4 198.9L195.0 199.6L195.5 200.2L196.0 200.9L196.6 201.5L197.1 202.1L197.6 202.6L198.1 203.1L198.7 203.6L199.2 204.0L199.7 204.3L200.2 204.7L200.8 204.9L201.3 205.1L201.8 205.3L202.3 205.5L202.9 205.6L203.4 205.7L203.9 205.9L204.4 206.0L205.0 206.1L205.5 206.3L206.0 206.4L206.5 206.5L207.1 206.6L207.6 206.7L208.1 206.8L208.6 206.9L209.2 207.0L209.7 207.1L210.2 207.1L210.7 207.2L211.3 207.3L211.8 207.3L212.3 207.4L212.8 207.4L213.4 207.5L213.9 207.5L214.4 207.5L214.9 207.5L215.5 207.6L216.0 207.6" fill="none" stroke="#f00" stroke-width="1"/><path d="M135.2 49.3L135.8 49.9L136.3 50.4L136.9 51.0L137.4 51.5L138.0 52.1L138.5 52.7L139.1 53.3L139.6 53.9L140.2 54.6L140.7 55.2L141.3 55.9L141.9 56.5L142.4 57.3L143.0 58.0L143.5 58.7L144.1 59.5L144.6 60.3L145.2 61.1L145.7 62.0L146.3 63.0L146.8 64.0L147.4 65.0L147.9 66.1L148.5 67.2L149.0 68.4L149.6 69.5L150.1 70.7L150.7 71.9L151.3 73.1L151.8 74.3L152.4 75.5L152.9 76.7L153.5 77.8L154.0 79.0L154.6 80.1L155.1 81.2L155.7 82.3L156.2 83.4L156.8 84.4L157.3 85.5L157.9 86.5L158.4 87.6L159.0 88.6L159.6 89.7L160.1 90.7L160.7 91.7L161.2 92.8L161.8 93.8L162.3 94.9L162.9 96.0L163.4 97.0L164.0 98.1L164.5 99.2L165.1 100.4L165.6 101.5L166.2 102.7L166.7 103.9L167.3 105.1L167.9 106.3L168.4 107.6L169.0 108.9L169.5 110.2L170.1 111.6L170.6 113.0L171.2 114.4L171.7 115.9L172.3 117.4L172.8 119.0L173.4 120.8L173.9 122.7L174.5 124.7L175.0 126.8L175.6 129.0L176.1 131.2L176.7 133.6L177.3 136.0L177.8 138.5L178.4 140.9L178.9 143.5L179.5 146.0L180.0 148.5L180.6 151.1L181.1 153.6L181.7 156.1L182.2 158.5L182.8 160.9L183.3 163.2L183.9 165.4L184.4 167.6L185.0 169.7L185.6 171.6L186.1 173.4L186.7 175.1L187.2 176.8L187.8 178.4L188.3 180.0L188.9 181.5L189.4 183.1L190.0 184.6L190.5 186.0L191.1 187.4L191.6 188.7L192.2 189.9L192.7 191.1L193.3 192.2L193.9 193.1L194.4 194.0L195.0 194.9L195.5 195.7L196.1 196.5L196.6 197.2L197.2 198.0L197.7 198.8L198.3 199.5L198.8 200.2L199.4 200.8L199.9 201.5L200.5 202.1L201.0 202.6L201.6 203.1L202.1 203.6L202.7 204.0L203.3 204.4L203.8 204.7L204.4 205.0L204.9 205.2L205.5 205.3L206.0 205.4L206.6 205.6L207.1 205.7L207.7 205.8L208.2 205.9L208.8 206.0L209.3 206.1L209.9 206.2L210.4 206.3L211.0 206.4L211.6 206.5L212.1 206.6L212.7 206.7L213.2 206.8L213.8 206.9L214.3 206.9L214.9 207.0L215.4 207.1L216.0 207.1L216.5 207.2L217.1 207.2L217.6 207.3L218.2 207.3L218.7 207.4L219.3 207.4L219.9 207.4L220.4 207.5L221.0 207.5L221.5 207.5L222.1 207.5L222.6 207.5L223.2 207.6L223.7 207.6" fill="none" stroke="#f00" stroke-width="1"/><path d="M139.3 50.0L139.9 50.5L140.4 51.0L141.0 51.5L141.6 52.0L142.2 52.6L142.7 53.1L143.3 53.7L143.9 54.2L144.5 54.8L145.0 55.5L145.6 56.1L146.2 56.8L146.8 57.5L147.3 58.2L147.9 59.0L148.5 59.7L149.1 60.6L149.7 61.5L150.2 62.6L150.8 63.8L151.4 65.1L152.0 66.4L152.5 67.8L153.1 69.2L153.7 70.7L154.3 72.2L154.8 73.6L155.4 75.0L156.0 76.4L156.6 77.8L157.1 79.0L157.7 80.2L158.3 81.4L158.9 82.5L159.4 83.6L160.0 84.7L160.6 85.7L161.2 86.8L161.7 87.8L162.3 88.8L162.9 89.8L163.5 90.8L164.1 91.7L164.6 92.7L165.2 93.6L165.8 94.6L166.4 95.6L166.9 96.5L167.5 97.5L168.1 98.5L168.7 99.5L169.2 100.5L169.8 101.5L170.4 102.6L171.0 103.6L171.5 104.7L172.1 105.8L172.7 107.0L173.3 108.2L173.8 109.4L174.4 110.6L175.0 111.9L175.6 113.2L176.2 114.6L176.7 116.0L177.3 117.4L177.9 119.0L178.5 120.7L179.0 122.5L179.6 124.5L180.2 126.5L180.8 128.7L181.3 130.9L181.9 133.2L182.5 135.6L183.1 138.0L183.6 140.5L184.2 143.0L184.8 145.5L185.4 148.0L185.9 150.5L186.5 153.0L187.1 155.5L187.7 157.9L188.2 160.3L188.8 162.6L189.4 164.9L190.0 167.0L190.6 169.1L191.1 171.1L191.7 172.9L192.3 174.6L192.9 176.2L193.4 177.8L194.0 179.4L194.6 181.0L195.2 182.5L195.7 184.0L196.3 185.4L196.9 186.8L197.5 188.1L198.0 189.4L198.6 190.6L199.2 191.7L199.8 192.7L200.3 193.6L200.9 194.5L201.5 195.3L202.1 196.1L202.6 196.8L203.2 197.6L203.8 198.4L204.4 199.1L205.0 199.8L205.5 200.5L206.1 201.1L206.7 201.7L207.3 202.3L207.8 202.8L208.4 203.3L209.0 203.8L209.6 204.2L210.1 204.5L210.7 204.8L211.3 205.0L211.9 205.2L212.4 205.4L213.0 205.5L213.6 205.6L214.2 205.7L214.7 205.8L215.3 205.9L215.9 206.1L216.5 206.2L217.1 206.3L217.6 206.4L218.2 206.5L218.8 206.5L219.4 206.6L219.9 206.7L220.5 206.8L221.1 206.9L221.7 206.9L222.2 207.0L222.8 207.1L223.4 207.1L224.0 207.2L224.5 207.2L225.1 207.3L225.7 207.3L226.3 207.4L226.8 207.4L227.4 207.4L228.0 207.5L228.6 207.5L229.1 207.5L229.7 207.5L230.3 207.5L230.9 207.6L231.5 207.6" fill="none" stroke="#f00" stroke-width="1"/><path d="M144.6 50.7L145.2 51.1L145.8 51.6L146.4 52.0L147.0 52.5L147.6 52.9L148.2 53.4L148.8 54.0L149.3 54.5L149.9 55.1L150.5 55.7L151.1 56.3L151.7 57.0L152.3 57.7L152.9 58.4L153.5 59.2L154.1 60.0L154.7 60.9L155.3 62.2L155.9 63.6L156.4 65.3L157.0 67.1L157.6 69.0L158.2 70.9L158.8 72.8L159.4 74.7L160.0 76.4L160.6 78.0L161.2 79.4L161.8 80.6L162.4 81.9L162.9 83.0L163.5 84.2L164.1 85.3L164.7 86.3L165.3 87.3L165.9 88.3L166.5 89.3L167.1 90.2L167.7 91.1L168.3 92.0L168.9 92.9L169.4 93.8L170.0 94.6L170.6 95.4L171.2 96.3L171.8 97.1L172.4 98.0L173.0 98.8L173.6 99.6L174.2 100.5L174.8 101.4L175.4 102.2L175.9 103.1L176.5 104.1L177.1 105.0L177.7 106.0L178.3 107.0L178.9 108.0L179.5 109.1L180.1 110.2L180.7 111.3L181.3 112.5L181.9 113.8L182.4 115.1L183.0 116.4L183.6 117.8L184.2 119.3L184.8 121.0L185.4 122.8L186.0 124.7L186.6 126.8L187.2 128.9L187.8 131.2L188.4 133.5L188.9 135.9L189.5 138.3L190.1 140.8L190.7 143.3L191.3 145.9L191.9 148.4L192.5 150.9L193.1 153.4L193.7 155.9L194.3 158.4L194.9 160.8L195.4 163.1L196.0 165.3L196.6 167.5L197.2 169.6L197.8 171.5L198.4 173.3L199.0 175.0L199.6 176.6L200.2 178.2L200.8 179.8L201.4 181.4L202.0 182.9L202.5 184.4L203.1 185.8L203.7 187.2L204.3 188.5L204.9 189.7L205.5 190.9L206.1 191.9L206.7 192.9L207.3 193.8L207.9 194.7L208.5 195.5L209.0 196.3L209.6 197.0L210.2 197.8L210.8 198.5L211.4 199.3L212.0 200.0L212.6 200.6L213.2 201.3L213.8 201.9L214.4 202.4L215.0 203.0L215.5 203.4L216.1 203.9L216.7 204.3L217.3 204.6L217.9 204.9L218.5 205.1L219.1 205.3L219.7 205.4L220.3 205.5L220.9 205.6L221.5 205.7L222.0 205.9L222.6 206.0L223.2 206.1L223.8 206.2L224.4 206.3L225.0 206.4L225.6 206.5L226.2 206.6L226.8 206.7L227.4 206.7L228.0 206.8L228.5 206.9L229.1 207.0L229.7 207.0L230.3 207.1L230.9 207.1L231.5 207.2L232.1 207.3L232.7 207.3L233.3 207.3L233.9 207.4L234.5 207.4L235.0 207.5L235.6 207.5L236.2 207.5L236.8 207.5L237.4 207.5L238.0 207.5L238.6 207.6L239.2 207.6" fill="none" stroke="#f00" stroke-width="1"/><path d="M149.2 51.4L149.8 51.8L150.5 52.2L151.1 52.7L151.8 53.2L152.4 53.7L153.0 54.2L153.7 54.8L154.3 55.4L154.9 56.0L155.6 56.6L156.2 57.3L156.8 58.1L157.5 58.9L158.1 59.7L158.7 60.6L159.4 61.9L160.0 63.6L160.6 65.5L161.3 67.6L161.9 69.8L162.5 72.1L163.2 74.2L163.8 76.2L164.4 78.0L165.1 79.5L165.7 80.8L166.4 82.0L167.0 83.2L167.6 84.3L168.3 85.4L168.9 86.4L169.5 87.4L170.2 88.4L170.8 89.3L171.4 90.2L172.1 91.1L172.7 91.9L173.3 92.7L174.0 93.5L174.6 94.3L175.2 95.0L175.9 95.8L176.5 96.5L177.1 97.2L177.8 98.0L178.4 98.7L179.0 99.4L179.7 100.2L180.3 100.9L181.0 101.7L181.6 102.5L182.2 103.3L182.9 104.1L183.5 104.9L184.1 105.8L184.8 106.7L185.4 107.6L186.0 108.6L186.7 109.6L187.3 110.7L187.9 111.8L188.6 112.9L189.2 114.1L189.8 115.4L190.5 116.7L191.1 118.1L191.7 119.6L192.4 121.3L193.0 123.2L193.6 125.3L194.3 127.4L194.9 129.7L195.6 132.1L196.2 134.6L196.8 137.1L197.5 139.7L198.1 142.3L198.7 145.0L199.4 147.7L200.0 150.4L200.6 153.1L201.3 155.7L201.9 158.3L202.5 160.8L203.2 163.3L203.8 165.7L204.4 167.9L205.1 170.1L205.7 172.1L206.3 174.0L207.0 175.7L207.6 177.4L208.3 179.1L208.9 180.7L209.5 182.3L210.2 183.9L210.8 185.4L211.4 186.8L212.1 188.2L212.7 189.5L213.3 190.7L214.0 191.9L214.6 192.9L215.2 193.9L215.9 194.7L216.5 195.6L217.1 196.4L217.8 197.2L218.4 198.0L219.0 198.8L219.7 199.5L220.3 200.3L220.9 201.0L221.6 201.6L222.2 202.2L222.9 202.8L223.5 203.3L224.1 203.8L224.8 204.2L225.4 204.6L226.0 204.9L226.7 205.1L227.3 205.3L227.9 205.4L228.6 205.5L229.2 205.6L229.8 205.7L230.5 205.8L231.1 205.9L231.7 206.0L232.4 206.1L233.0 206.2L233.6 206.3L234.3 206.4L234.9 206.5L235.5 206.6L236.2 206.7L236.8 206.7L237.5 206.8L238.1 206.9L238.7 206.9L239.4 207.0L240.0 207.1L240.6 207.1L241.3 207.2L241.9 207.2L242.5 207.3L243.2 207.3L243.8 207.3L244.4 207.4L245.1 207.4L245.7 207.4L246.3 207.5L247.0 207.5L247.6 207.5L248.2 207.5L248.9 207.5L249.5 207.5L250.1 207.6L250.8 207.6" fill="none" stroke="#f00" stroke-width="1"/><path d="M155.9 52.1L156.5 52.5L157.2 52.9L157.8 53.4L158.4 53.9L159.1 54.4L159.7 55.0L160.4 55.6L161.0 56.2L161.6 56.9L162.3 57.6L162.9 58.4L163.6 59.2L164.2 60.1L164.9 61.6L165.5 64.2L166.1 67.3L166.8 70.6L167.4 73.9L168.1 76.8L168.7 78.9L169.3 80.3L170.0 81.6L170.6 82.9L171.3 84.1L171.9 85.2L172.6 86.3L173.2 87.3L173.8 88.3L174.5 89.2L175.1 90.1L175.8 90.9L176.4 91.7L177.0 92.5L177.7 93.2L178.3 93.9L179.0 94.6L179.6 95.2L180.3 95.8L180.9 96.4L181.5 97.0L182.2 97.5L182.8 98.1L183.5 98.6L184.1 99.2L184.7 99.7L185.4 100.2L186.0 100.7L186.7 101.2L187.3 101.8L188.0 102.3L188.6 102.9L189.2 103.4L189.9 104.0L190.5 104.6L191.2 105.2L191.8 105.8L192.4 106.5L193.1 107.2L193.7 107.9L194.4 108.7L195.0 109.5L195.6 110.3L196.3 111.2L196.9 112.1L197.6 113.1L198.2 114.1L198.9 115.2L199.5 116.3L200.1 117.5L200.8 118.8L201.4 120.3L202.1 122.0L202.7 123.8L203.3 125.8L204.0 127.9L204.6 130.1L205.3 132.4L205.9 134.8L206.6 137.3L207.2 139.8L207.8 142.4L208.5 145.0L209.1 147.6L209.8 150.3L210.4 152.9L211.0 155.4L211.7 158.0L212.3 160.5L213.0 162.9L213.6 165.2L214.3 167.4L214.9 169.6L215.5 171.6L216.2 173.4L216.8 175.1L217.5 176.8L218.1 178.4L218.7 180.0L219.4 181.5L220.0 183.0L220.7 184.5L221.3 186.0L221.9 187.3L222.6 188.6L223.2 189.9L223.9 191.1L224.5 192.1L225.2 193.1L225.8 194.0L226.4 194.8L227.1 195.6L227.7 196.4L228.4 197.2L229.0 198.0L229.6 198.7L230.3 199.4L230.9 200.1L231.6 200.8L232.2 201.4L232.9 202.0L233.5 202.6L234.1 203.1L234.8 203.6L235.4 204.0L236.1 204.4L236.7 204.7L237.3 205.0L238.0 205.2L238.6 205.3L239.3 205.4L239.9 205.6L240.6 205.7L241.2 205.8L241.8 205.9L242.5 206.1L243.1 206.2L243.8 206.3L244.4 206.4L245.0 206.5L245.7 206.6L246.3 206.7L247.0 206.8L247.6 206.8L248.3 206.9L248.9 207.0L249.5 207.1L250.2 207.1L250.8 207.2L251.5 207.3L252.1 207.3L252.7 207.3L253.4 207.4L254.0 207.4L254.7 207.5L255.3 207.5L255.9 207.5L256.6 207.5L257.2 207.5L257.9 207.6L258.5 207.6" fill="none" stroke="#f00" stroke-width="1"/><path d="M161.1 52.8L161.9 53.3L162.6 53.8L163.4 54.3L164.1 54.9L164.9 55.5L165.6 56.2L166.4 56.9L167.1 57.7L167.8 58.5L168.6 59.3L169.3 60.2L170.1 61.8L170.8 64.1L171.6 67.0L172.3 70.1L173.1 73.1L173.8 75.9L174.6 78.2L175.3 79.8L176.0 81.1L176.8 82.4L177.5 83.6L178.3 84.8L179.0 85.9L179.8 86.9L180.5 88.0L181.3 88.9L182.0 89.9L182.8 90.8L183.5 91.6L184.3 92.4L185.0 93.2L185.7 94.0L186.5 94.7L187.2 95.4L188.0 96.1L188.7 96.8L189.5 97.4L190.2 98.1L191.0 98.7L191.7 99.3L192.5 99.9L193.2 100.5L194.0 101.0L194.7 101.6L195.4 102.2L196.2 102.8L196.9 103.4L197.7 104.0L198.4 104.6L199.2 105.2L199.9 105.9L200.7 106.5L201.4 107.2L202.2 107.9L202.9 108.6L203.6 109.4L204.4 110.2L205.1 111.0L205.9 111.8L206.6 112.7L207.4 113.7L208.1 114.6L208.9 115.6L209.6 116.7L210.4 117.8L211.1 119.0L211.9 120.2L212.6 121.6L213.3 123.0L214.1 124.5L214.8 126.0L215.6 127.7L216.3 129.3L217.1 131.0L217.8 132.8L218.6 134.6L219.3 136.5L220.1 138.3L220.8 140.2L221.5 142.1L222.3 144.0L223.0 146.0L223.8 147.9L224.5 149.8L225.3 151.8L226.0 153.7L226.8 155.6L227.5 157.4L228.3 159.3L229.0 161.1L229.8 162.8L230.5 164.6L231.2 166.3L232.0 167.9L232.7 169.4L233.5 170.9L234.2 172.4L235.0 173.7L235.7 175.0L236.5 176.2L237.2 177.5L238.0 178.7L238.7 179.9L239.4 181.1L240.2 182.3L240.9 183.4L241.7 184.5L242.4 185.6L243.2 186.7L243.9 187.7L244.7 188.7L245.4 189.6L246.2 190.5L246.9 191.4L247.7 192.2L248.4 192.9L249.1 193.6L249.9 194.3L250.6 194.9L251.4 195.5L252.1 196.1L252.9 196.6L253.6 197.2L254.4 197.8L255.1 198.3L255.9 198.8L256.6 199.3L257.3 199.8L258.1 200.3L258.8 200.7L259.6 201.2L260.3 201.6L261.1 202.0L261.8 202.4L262.6 202.8L263.3 203.1L264.1 203.5L264.8 203.8L265.6 204.1L266.3 204.4L267.0 204.7L267.8 204.9L268.5 205.2L269.3 205.4L270.0 205.6L270.8 205.8L271.5 206.0L272.3 206.2L273.0 206.4L273.8 206.5L274.5 206.7L275.3 206.9L276.0 207.0L276.7 207.1L277.5 207.2L278.2 207.4L279.0 207.4L279.7 207.5L280.5 207.6" fill="none" stroke="#f00" stroke-width="1"/><path d="M164.1 53.5L164.9 54.0L165.8 54.6L166.6 55.1L167.4 55.7L168.2 56.4L169.1 57.0L169.9 57.8L170.7 58.5L171.5 59.3L172.4 60.1L173.2 61.2L174.0 62.5L174.8 64.2L175.7 66.0L176.5 68.0L177.3 70.0L178.1 72.0L179.0 74.0L179.8 75.9L180.6 77.6L181.4 79.0L182.3 80.2L183.1 81.4L183.9 82.5L184.7 83.6L185.6 84.7L186.4 85.7L187.2 86.7L188.0 87.6L188.9 88.5L189.7 89.4L190.5 90.3L191.3 91.1L192.2 92.0L193.0 92.8L193.8 93.5L194.7 94.3L195.5 95.1L196.3 95.8L197.1 96.5L198.0 97.3L198.8 98.0L199.6 98.7L200.4 99.4L201.3 100.1L202.1 100.8L202.9 101.5L203.7 102.3L204.6 103.0L205.4 103.7L206.2 104.5L207.0 105.2L207.9 106.0L208.7 106.8L209.5 107.6L210.3 108.5L211.2 109.3L212.0 110.2L212.8 111.1L213.6 112.1L214.5 113.1L215.3 114.1L216.1 115.1L216.9 116.2L217.8 117.3L218.6 118.5L219.4 119.7L220.2 121.1L221.1 122.4L221.9 123.9L222.7 125.4L223.5 127.0L224.4 128.6L225.2 130.3L226.0 132.0L226.9 133.7L227.7 135.5L228.5 137.3L229.3 139.1L230.2 140.9L231.0 142.8L231.8 144.6L232.6 146.5L233.5 148.4L234.3 150.2L235.1 152.1L235.9 153.9L236.8 155.7L237.6 157.5L238.4 159.3L239.2 161.0L240.1 162.8L240.9 164.4L241.7 166.0L242.5 167.6L243.4 169.1L244.2 170.6L245.0 172.0L245.8 173.4L246.7 174.6L247.5 175.8L248.3 177.0L249.1 178.2L250.0 179.4L250.8 180.6L251.6 181.8L252.4 182.9L253.3 184.0L254.1 185.1L254.9 186.2L255.7 187.2L256.6 188.2L257.4 189.1L258.2 190.0L259.1 190.9L259.9 191.7L260.7 192.4L261.5 193.1L262.4 193.8L263.2 194.4L264.0 194.9L264.8 195.5L265.7 196.0L266.5 196.5L267.3 197.0L268.1 197.5L269.0 197.9L269.8 198.4L270.6 198.8L271.4 199.3L272.3 199.7L273.1 200.1L273.9 200.4L274.7 200.8L275.6 201.2L276.4 201.5L277.2 201.9L278.0 202.2L278.9 202.5L279.7 202.8L280.5 203.1L281.3 203.3L282.2 203.6L283.0 203.8L283.8 204.1L284.6 204.3L285.5 204.5L286.3 204.7L287.1 204.9L287.9 205.1L288.8 205.3L289.6 205.5L290.4 205.7L291.3 205.8L292.1 206.0L292.9 206.1L293.7 206.3L294.6 206.4L295.4 206.5L296.2 206.6" fill="none" stroke="#f00" stroke-width="1"/><path d="M167.7 54.1L168.6 54.7L169.6 55.4L170.5 56.0L171.5 56.7L172.4 57.4L173.4 58.1L174.3 58.9L175.3 59.6L176.3 60.5L177.2 61.5L178.2 62.7L179.1 64.0L180.1 65.4L181.0 66.9L182.0 68.4L182.9 70.0L183.9 71.6L184.8 73.2L185.8 74.7L186.8 76.2L187.7 77.6L188.7 78.9L189.6 80.1L190.6 81.2L191.5 82.3L192.5 83.4L193.4 84.5L194.4 85.5L195.3 86.5L196.3 87.5L197.2 88.5L198.2 89.5L199.2 90.4L200.1 91.4L201.1 92.3L202.0 93.2L203.0 94.1L203.9 95.0L204.9 95.9L205.8 96.8L206.8 97.7L207.7 98.5L208.7 99.4L209.7 100.3L210.6 101.2L211.6 102.1L212.5 103.0L213.5 103.9L214.4 104.8L215.4 105.8L216.3 106.7L217.3 107.7L218.2 108.7L219.2 109.7L220.1 110.7L221.1 111.7L222.1 112.8L223.0 113.9L224.0 115.0L224.9 116.1L225.9 117.3L226.8 118.5L227.8 119.8L228.7 121.1L229.7 122.5L230.6 123.9L231.6 125.3L232.5 126.8L233.5 128.4L234.5 129.9L235.4 131.5L236.4 133.1L237.3 134.8L238.3 136.4L239.2 138.1L240.2 139.8L241.1 141.5L242.1 143.2L243.0 144.9L244.0 146.6L245.0 148.3L245.9 150.0L246.9 151.7L247.8 153.4L248.8 155.0L249.7 156.7L250.7 158.3L251.6 159.9L252.6 161.5L253.5 163.0L254.5 164.6L255.4 166.0L256.4 167.5L257.4 168.9L258.3 170.2L259.3 171.5L260.2 172.8L261.2 174.0L262.1 175.1L263.1 176.3L264.0 177.4L265.0 178.5L265.9 179.6L266.9 180.7L267.9 181.8L268.8 182.8L269.8 183.9L270.7 184.9L271.7 185.9L272.6 186.9L273.6 187.8L274.5 188.7L275.5 189.6L276.4 190.4L277.4 191.2L278.3 191.9L279.3 192.6L280.3 193.2L281.2 193.8L282.2 194.4L283.1 194.9L284.1 195.4L285.0 195.9L286.0 196.3L286.9 196.8L287.9 197.2L288.8 197.7L289.8 198.1L290.7 198.5L291.7 198.9L292.7 199.3L293.6 199.6L294.6 200.0L295.5 200.3L296.5 200.7L297.4 201.0L298.4 201.3L299.3 201.6L300.3 201.9L301.2 202.2L302.2 202.5L303.2 202.8L304.1 203.1L305.1 203.3L306.0 203.6L307.0 203.8L307.9 204.1L308.9 204.3L309.8 204.6L310.8 204.8L311.7 205.0L312.7 205.2L313.6 205.4L314.6 205.6L315.6 205.8L316.5 206.0L317.5 206.1L318.4 206.3L319.4 206.5L320.3 206.6" fill="none" stroke="#f00" stroke-width="1"/><path d="M171.1 54.8L172.1 55.5L173.2 56.1L174.2 56.8L175.2 57.5L176.3 58.2L177.3 58.9L178.3 59.7L179.4 60.4L180.4 61.3L181.4 62.3L182.5 63.3L183.5 64.4L184.5 65.5L185.6 66.7L186.6 67.9L187.6 69.1L188.7 70.4L189.7 71.7L190.7 72.9L191.7 74.2L192.8 75.4L193.8 76.6L194.8 77.7L195.9 78.8L196.9 79.9L197.9 80.9L199.0 81.9L200.0 82.8L201.0 83.8L202.1 84.8L203.1 85.7L204.1 86.6L205.2 87.5L206.2 88.4L207.2 89.3L208.3 90.2L209.3 91.0L210.3 91.9L211.4 92.7L212.4 93.6L213.4 94.4L214.5 95.3L215.5 96.1L216.5 97.0L217.6 97.8L218.6 98.7L219.6 99.5L220.6 100.4L221.7 101.3L222.7 102.2L223.7 103.0L224.8 103.9L225.8 104.9L226.8 105.8L227.9 106.7L228.9 107.7L229.9 108.7L231.0 109.7L232.0 110.7L233.0 111.7L234.1 112.8L235.1 113.9L236.1 115.0L237.2 116.1L238.2 117.3L239.2 118.5L240.3 119.8L241.3 121.1L242.3 122.5L243.4 123.9L244.4 125.4L245.4 126.9L246.5 128.5L247.5 130.1L248.5 131.7L249.6 133.4L250.6 135.1L251.6 136.8L252.6 138.6L253.7 140.3L254.7 142.1L255.7 143.9L256.8 145.7L257.8 147.5L258.8 149.2L259.9 151.0L260.9 152.8L261.9 154.5L263.0 156.3L264.0 158.0L265.0 159.7L266.1 161.3L267.1 163.0L268.1 164.5L269.2 166.1L270.2 167.6L271.2 169.1L272.3 170.5L273.3 171.8L274.3 173.1L275.4 174.4L276.4 175.5L277.4 176.7L278.5 177.9L279.5 179.0L280.5 180.2L281.5 181.3L282.6 182.4L283.6 183.5L284.6 184.6L285.7 185.7L286.7 186.7L287.7 187.7L288.8 188.6L289.8 189.5L290.8 190.4L291.9 191.2L292.9 191.9L293.9 192.6L295.0 193.3L296.0 193.9L297.0 194.4L298.1 194.9L299.1 195.4L300.1 195.8L301.2 196.3L302.2 196.7L303.2 197.1L304.3 197.5L305.3 197.9L306.3 198.2L307.4 198.6L308.4 198.9L309.4 199.3L310.4 199.6L311.5 199.9L312.5 200.2L313.5 200.5L314.6 200.8L315.6 201.1L316.6 201.4L317.7 201.6L318.7 201.9L319.7 202.1L320.8 202.4L321.8 202.7L322.8 202.9L323.9 203.2L324.9 203.4L325.9 203.6L327.0 203.9L328.0 204.1L329.0 204.3L330.1 204.5L331.1 204.7L332.1 204.9L333.2 205.1L334.2 205.3L335.2 205.5L336.3 205.6" fill="none" stroke="#f00" stroke-width="1"/><path d="M186.6 55.6L187.3 55.9L188.0 56.3L188.6 56.7L189.3 57.1L190.0 57.4L190.7 57.8L191.4 58.2L192.0 58.6L192.7 59.0L193.4 59.4L194.1 59.9L194.7 60.3L195.4 60.8L196.1 61.2L196.8 61.7L197.5 62.2L198.1 62.7L198.8 63.3L199.5 63.8L200.2 64.3L200.9 64.9L201.5 65.4L202.2 66.0L202.9 66.5L203.6 67.1L204.3 67.7L204.9 68.3L205.6 68.9L206.3 69.5L207.0 70.1L207.6 70.7L208.3 71.3L209.0 71.9L209.7 72.5L210.4 73.1L211.0 73.7L211.7 74.3L212.4 74.9L213.1 75.6L213.8 76.2L214.4 76.8L215.1 77.4L215.8 78.1L216.5 78.7L217.2 79.3L217.8 80.0L218.5 80.6L219.2 81.3L219.9 82.0L220.5 82.7L221.2 83.3L221.9 84.0L222.6 84.7L223.3 85.4L223.9 86.2L224.6 86.9L225.3 87.6L226.0 88.3L226.7 89.1L227.3 89.8L228.0 90.6L228.7 91.4L229.4 92.1L230.1 92.9L230.7 93.7L231.4 94.5L232.1 95.3L232.8 96.2L233.4 97.0L234.1 97.9L234.8 98.7L235.5 99.6L236.2 100.6L236.8 101.5L237.5 102.4L238.2 103.4L238.9 104.3L239.6 105.3L240.2 106.3L240.9 107.3L241.6 108.3L242.3 109.3L243.0 110.3L243.6 111.3L244.3 112.3L245.0 113.4L245.7 114.4L246.4 115.4L247.0 116.5L247.7 117.5L248.4 118.5L249.1 119.5L249.7 120.6L250.4 121.6L251.1 122.6L251.8 123.6L252.5 124.6L253.1 125.6L253.8 126.7L254.5 127.7L255.2 128.7L255.9 129.7L256.5 130.8L257.2 131.8L257.9 132.8L258.6 133.9L259.3 134.9L259.9 135.9L260.6 137.0L261.3 138.0L262.0 139.1L262.6 140.1L263.3 141.2L264.0 142.2L264.7 143.3L265.4 144.3L266.0 145.4L266.7 146.5L267.4 147.5L268.1 148.6L268.8 149.6L269.4 150.7L270.1 151.8L270.8 152.8L271.5 153.9L272.2 154.9L272.8 156.0L273.5 157.0L274.2 158.0L274.9 159.1L275.5 160.1L276.2 161.1L276.9 162.1L277.6 163.2L278.3 164.2L278.9 165.3L279.6 166.3L280.3 167.4L281.0 168.5L281.7 169.6L282.3 170.7L283.0 171.8L283.7 172.9L284.4 174.1L285.1 175.3L285.7 176.5L286.4 177.7L287.1 179.0L287.8 180.3L288.4 181.6L289.1 183.0L289.8 184.3L290.5 185.7L291.2 187.2L291.8 188.6L292.5 190.1L293.2 191.5L293.9 193.0L294.6 194.5L295.2 196.1" fill="none" stroke="#f00" stroke-width="1"/><path d="M196.7 56.2L197.4 56.6L198.0 57.0L198.7 57.3L199.4 57.7L200.0 58.1L200.7 58.5L201.4 58.9L202.0 59.3L202.7 59.7L203.4 60.1L204.0 60.6L204.7 61.1L205.4 61.5L206.0 62.0L206.7 62.5L207.4 63.0L208.0 63.5L208.7 64.0L209.4 64.6L210.0 65.1L210.7 65.6L211.4 66.2L212.0 66.8L212.7 67.3L213.4 67.9L214.0 68.5L214.7 69.0L215.4 69.6L216.0 70.2L216.7 70.8L217.4 71.4L218.0 72.0L218.7 72.6L219.4 73.2L220.0 73.8L220.7 74.4L221.4 75.0L222.0 75.6L222.7 76.2L223.4 76.8L224.0 77.5L224.7 78.1L225.4 78.7L226.0 79.3L226.7 80.0L227.4 80.6L228.0 81.3L228.7 81.9L229.4 82.6L230.0 83.3L230.7 83.9L231.4 84.6L232.0 85.3L232.7 86.0L233.4 86.7L234.0 87.4L234.7 88.2L235.4 88.9L236.0 89.6L236.7 90.4L237.4 91.1L238.0 91.9L238.7 92.6L239.4 93.4L240.0 94.2L240.7 95.0L241.4 95.8L242.0 96.6L242.7 97.5L243.4 98.3L244.0 99.2L244.7 100.1L245.4 101.0L246.0 101.9L246.7 102.8L247.4 103.8L248.0 104.7L248.7 105.7L249.4 106.6L250.0 107.6L250.7 108.6L251.4 109.6L252.0 110.6L252.7 111.6L253.4 112.6L254.0 113.6L254.7 114.6L255.4 115.6L256.0 116.6L256.7 117.6L257.4 118.6L258.0 119.7L258.7 120.7L259.4 121.7L260.0 122.7L260.7 123.6L261.4 124.6L262.0 125.6L262.7 126.6L263.4 127.6L264.0 128.6L264.7 129.7L265.4 130.7L266.0 131.7L266.7 132.7L267.4 133.7L268.0 134.7L268.7 135.8L269.4 136.8L270.0 137.8L270.7 138.8L271.4 139.9L272.0 140.9L272.7 141.9L273.4 143.0L274.0 144.0L274.7 145.0L275.4 146.1L276.0 147.1L276.7 148.2L277.4 149.2L278.0 150.2L278.7 151.3L279.4 152.3L280.0 153.4L280.7 154.4L281.4 155.5L282.0 156.5L282.7 157.6L283.4 158.6L284.0 159.7L284.7 160.7L285.4 161.8L286.0 162.8L286.7 163.9L287.4 165.0L288.0 166.0L288.7 167.1L289.4 168.2L290.0 169.2L290.7 170.3L291.4 171.4L292.0 172.4L292.7 173.5L293.4 174.5L294.0 175.6L294.7 176.7L295.4 177.7L296.0 178.8L296.7 179.8L297.4 180.9L298.0 181.9L298.7 183.0L299.4 184.0L300.0 185.1L300.7 186.1L301.4 187.2L302.0 188.2L302.7 189.3L303.4 190.3" fill="none" stroke="#f00" stroke-width="1"/><path d="M45.9 22.7L47.5 22.7L49.2 22.7L50.8 22.8L52.5 22.8L54.1 22.8L55.8 22.9L57.4 22.9L59.0 23.0L60.7 23.1L62.3 23.1L64.0 23.2L65.6 23.3L67.3 23.4L68.9 23.5L70.5 23.6L72.2 23.7L73.8 23.8L75.5 23.9L77.1 24.0L78.8 24.2L80.4 24.3L82.0 24.4L83.7 24.6L85.3 24.7L87.0 24.9L88.6 25.1L90.3 25.4L91.9 25.7L93.5 26.1L95.2 26.4L96.8 26.9L98.5 27.3L100.1 27.8L101.8 28.2L103.4 28.7L105.0 29.2L106.7 29.7L108.3 30.2L110.0 30.7L111.6 31.2L113.3 31.7L114.9 32.2L116.5 32.6L118.2 33.1L119.8 33.5L121.5 33.8L123.1 34.2L124.8 34.5L126.4 34.8L128.0 35.1L129.7 35.4L131.3 35.6L133.0 35.9L134.6 36.1L136.3 36.3L137.9 36.6L139.5 36.8L141.2 37.0L142.8 37.2L144.5 37.4L146.1 37.7L147.8 37.9L149.4 38.1L151.0 38.4L152.7 38.6L154.3 38.9L156.0 39.2L157.6 39.5L159.3 39.8L160.9 40.1L162.5 40.5L164.2 40.8L165.8 41.2L167.5 41.6L169.1 42.1L170.8 42.5L172.4 43.0L174.0 43.6L175.7 44.1L177.3 44.7L179.0 45.3L180.6 45.9L182.3 46.6L183.9 47.2L185.5 47.9L187.2 48.6L188.8 49.4L190.5 50.1L192.1 50.9L193.8 51.7L195.4 52.5L197.0 53.4L198.7 54.2L200.3 55.1L202.0 56.0L203.6 56.9L205.3 57.8L206.9 58.7L208.5 59.7L210.2 60.8L211.8 62.0L213.5 63.2L215.1 64.5L216.8 65.9L218.4 67.2L220.1 68.6L221.7 70.1L223.3 71.5L225.0 73.0L226.6 74.5L228.3 76.0L229.9 77.5L231.6 79.1L233.2 80.6L234.8 82.3L236.5 83.9L238.1 85.6L239.8 87.4L241.4 89.1L243.1 91.0L244.7 92.9L246.3 94.8L248.0 96.8L249.6 98.9L251.3 101.1L252.9 103.4L254.6 105.7L256.2 108.1L257.8 110.6L259.5 113.1L261.1 115.6L262.8 118.0L264.4 120.5L266.1 123.0L267.7 125.4L269.3 127.9L271.0 130.4L272.6 132.9L274.3 135.4L275.9 137.9L277.6 140.5L279.2 143.0L280.8 145.6L282.5 148.1L284.1 150.7L285.8 153.3L287.4 155.9L289.1 158.5L290.7 161.1L292.3 163.8L294.0 166.4L295.6 169.0L297.3 171.6L298.9 174.2L300.6 176.8L302.2 179.3L303.8 181.7L305.5 184.2L307.1 186.6L308.8 189.0" fill="none" stroke="#f00" stroke-width="1.7"/></g>
<g clip-path="url(#cpb)"><polyline points="383.9,189.4 386.7,189.7 389.5,189.7 392.3,189.1 395.1,189.8 398.7,189.5 411.6,189.4 412.8,189.7 423.1,189.7 430.1,189.7 435.1,188.9 438.9,189.4 442.1,189.1 444.8,188.9 447.1,189.1 449.1,189.0 451.0,189.5 452.6,189.6 454.1,189.0 455.5,188.9 456.8,189.6 458.0,189.0 459.1,189.2 460.1,189.1 461.1,189.0 462.0,188.7 463.0,189.4 463.9,189.2 464.9,188.8 465.9,189.2 466.8,189.0 467.8,189.1 468.8,189.5 469.7,189.1 470.7,188.7 471.6,189.0 472.6,189.3 473.6,188.9 474.5,188.7 475.5,188.5 476.4,188.5 477.4,188.4 478.4,188.7 479.3,188.5 480.3,188.5 481.3,188.3 482.2,188.0 483.2,187.6 484.1,187.9 485.1,187.4 486.1,187.3 487.0,187.7 488.0,187.5 489.0,187.0 489.9,187.3 490.9,186.2 491.8,187.0 492.8,186.6 493.8,185.8 494.7,186.0 495.7,185.3 496.7,185.5 497.6,184.6 498.6,184.8 499.5,184.1 500.5,183.7 501.5,184.0 502.4,183.5 503.4,183.3 504.3,182.8 505.3,181.9 506.3,181.8 507.2,181.2 508.2,180.7 509.2,180.4 510.1,180.2 511.1,180.2 512.0,179.9 513.0,179.5 514.0,179.2 514.9,179.0 515.9,179.2 516.9,179.4 517.8,179.3 518.8,178.9 519.7,179.4 520.7,179.1 521.7,180.0 522.6,179.8 523.6,180.2 524.6,180.4 525.5,181.1 526.5,181.2 527.4,181.6 528.4,182.1 529.4,182.8 530.3,183.3 531.3,183.5 532.2,183.7 533.2,184.2 534.2,184.7 535.1,185.2 536.1,186.1 537.1,185.9 538.0,186.5 539.0,187.2 539.9,187.5 540.9,187.4 541.9,187.9 542.8,188.7 543.8,187.9 544.8,189.1 545.7,188.4 546.7,188.7 547.6,189.4 548.6,188.9" fill="none" stroke="none" marker-start="url(#m13)" marker-mid="url(#m13)" marker-end="url(#m13)"/><polyline points="383.9,189.1 386.7,189.2 389.5,189.3 392.3,189.4 395.1,189.4 398.7,189.6 411.6,189.4 412.8,189.1 423.1,189.5 430.1,188.9 435.1,189.9 438.9,189.4 442.1,189.8 444.8,189.9 447.1,189.3 449.1,189.5 451.0,189.5 452.6,189.6 454.1,189.4 455.5,189.8 456.8,189.4 458.0,189.4 459.1,189.6 460.1,189.1 461.1,189.7 462.0,189.1 463.0,189.1 463.9,189.0 464.9,189.1 465.9,188.9 466.8,189.1 467.8,189.3 468.8,188.9 469.7,189.1 470.7,189.0 471.6,188.8 472.6,189.0 473.6,188.4 474.5,189.0 475.5,188.2 476.4,188.4 477.4,187.9 478.4,187.9 479.3,187.9 480.3,187.9 481.3,187.8 482.2,188.1 483.2,187.7 484.1,187.7 485.1,187.4 486.1,187.1 487.0,187.0 488.0,186.5 489.0,186.4 489.9,186.2 490.9,185.7 491.8,185.4 492.8,185.5 493.8,184.9 494.7,183.7 495.7,184.0 496.7,183.5 497.6,183.4 498.6,182.4 499.5,181.8 500.5,181.6 501.5,181.2 502.4,180.6 503.4,180.6 504.3,179.3 505.3,179.0 506.3,178.2 507.2,177.6 508.2,177.1 509.2,176.0 510.1,175.8 511.1,175.7 512.0,175.0 513.0,174.6 514.0,174.5 514.9,173.9 515.9,174.3 516.9,174.7 517.8,174.5 518.8,174.2 519.7,174.8 520.7,174.7 521.7,175.4 522.6,175.2 523.6,175.8 524.6,176.4 525.5,176.8 526.5,177.2 527.4,177.5 528.4,178.3 529.4,179.0 530.3,179.6 531.3,180.1 532.2,180.9 533.2,181.3 534.2,182.6 535.1,182.9 536.1,183.8 537.1,184.6 538.0,184.9 539.0,185.5 539.9,186.0 540.9,186.6 541.9,187.4 542.8,187.5 543.8,187.8 544.8,187.8 545.7,188.5 546.7,188.7 547.6,188.5 548.6,189.0 549.6,189.3 550.5,189.2 551.5,189.1" fill="none" stroke="none" marker-start="url(#m14)" marker-mid="url(#m14)" marker-end="url(#m14)"/><polyline points="383.9,189.4 386.7,189.9 389.5,189.6 392.3,189.2 395.1,189.7 398.7,189.2 411.6,189.4 412.8,189.7 423.1,189.2 430.1,189.9 435.1,189.9 438.9,189.7 442.1,189.1 444.8,189.2 447.1,188.9 449.1,189.0 451.0,188.9 452.6,189.0 454.1,188.9 455.5,188.5 456.8,188.5 458.0,188.9 459.1,188.3 460.1,187.9 461.1,188.2 462.0,188.5 463.0,188.0 463.9,188.0 464.9,188.1 465.9,187.6 466.8,187.4 467.8,187.8 468.8,187.5 469.7,187.5 470.7,187.2 471.6,186.6 472.6,187.0 473.6,186.5 474.5,186.4 475.5,186.2 476.4,186.3 477.4,185.6 478.4,185.8 479.3,185.0 480.3,184.9 481.3,184.6 482.2,184.4 483.2,184.1 484.1,183.8 485.1,183.1 486.1,182.7 487.0,182.1 488.0,181.8 489.0,180.9 489.9,180.5 490.9,180.0 491.8,179.4 492.8,178.7 493.8,177.8 494.7,177.5 495.7,176.8 496.7,175.6 497.6,174.7 498.6,174.0 499.5,173.1 500.5,172.7 501.5,171.7 502.4,170.5 503.4,169.6 504.3,169.0 505.3,167.5 506.3,167.1 507.2,165.3 508.2,164.9 509.2,163.7 510.1,162.9 511.1,161.9 512.0,160.7 513.0,160.2 514.0,158.9 514.9,158.0 515.9,157.4 516.9,156.6 517.8,156.5 518.8,156.2 519.7,155.8 520.7,155.0 521.7,155.2 522.6,155.8 523.6,155.1 524.6,155.6 525.5,155.8 526.5,156.3 527.4,156.7 528.4,158.1 529.4,158.3 530.3,159.3 531.3,159.4 532.2,160.6 533.2,161.8 534.2,162.9 535.1,164.5 536.1,165.1 537.1,166.6 538.0,167.2 539.0,168.7 539.9,170.2 540.9,171.5 541.9,172.4 542.8,174.1 543.8,175.1 544.8,176.7 545.7,178.2 546.7,179.2 547.6,180.1 548.6,182.1 549.6,182.5 550.5,183.5 551.5,184.6 552.5,184.9 553.4,185.8 554.4,186.5 555.3,187.4 556.3,187.5 557.3,188.3 558.2,188.2 559.2,188.0 560.1,189.0 561.1,188.6 562.1,189.4 563.0,189.2 564.0,189.1" fill="none" stroke="none" marker-start="url(#m15)" marker-mid="url(#m15)" marker-end="url(#m15)"/><polyline points="383.9,187.7 386.7,187.1 389.5,187.2 392.3,187.1 395.1,186.5 398.7,186.5 411.6,185.5 412.8,185.5 423.1,184.5 430.1,183.5 435.1,183.3 438.9,182.9 442.1,182.3 444.8,181.8 447.1,181.5 449.1,181.8 451.0,181.0 452.6,180.6 454.1,179.7 455.5,180.3 456.8,180.0 458.0,180.0 459.1,179.5 460.1,179.7 461.1,179.3 462.0,178.9 463.0,179.1 463.9,178.5 464.9,178.4 465.9,177.7 466.8,177.4 467.8,177.0 468.8,177.3 469.7,177.0 470.7,176.3 471.6,176.8 472.6,176.0 473.6,176.4 474.5,175.6 475.5,176.1 476.4,175.5 477.4,175.2 478.4,174.9 479.3,175.1 480.3,174.3 481.3,174.1 482.2,173.4 483.2,173.4 484.1,173.8 485.1,173.0 486.1,172.4 487.0,172.5 488.0,172.4 489.0,172.2 489.9,171.7 490.9,171.5 491.8,171.1 492.8,170.8 493.8,170.0 494.7,170.3 495.7,169.6 496.7,169.7 497.6,168.9 498.6,168.1 499.5,167.9 500.5,167.3 501.5,166.2 502.4,165.3 503.4,164.4 504.3,163.0 505.3,161.9 506.3,160.4 507.2,159.6 508.2,157.6 509.2,156.0 510.1,154.9 511.1,152.5 512.0,151.3 513.0,150.0 514.0,148.1 514.9,146.2 515.9,144.3 516.9,143.3 517.8,142.9 518.8,142.9 519.7,142.7 520.7,142.7 521.7,142.9 522.6,142.4 523.6,142.4 524.6,141.7 525.5,142.5 526.5,141.5 527.4,142.6 528.4,141.8 529.4,141.8 530.3,142.2 531.3,142.3 532.2,142.2 533.2,143.2 534.2,143.5 535.1,144.2 536.1,144.9 537.1,146.5 538.0,146.9 539.0,148.6 539.9,149.6 540.9,151.7 541.9,152.7 542.8,154.6 543.8,156.2 544.8,158.4 545.7,159.8 546.7,161.9 547.6,164.4 548.6,165.1 549.6,167.9 550.5,169.4 551.5,171.4 552.5,173.2 553.4,175.0 554.4,176.4 555.3,178.1 556.3,179.6 557.3,181.7 558.2,182.3 559.2,184.1 560.1,184.1 561.1,185.5 562.1,186.1 563.0,187.0 564.0,187.5 565.0,188.2 565.9,187.8 566.9,188.7 567.8,188.6 568.8,189.3 569.8,189.2 570.7,189.4 571.7,189.4 572.7,189.5 573.6,189.2 574.6,189.3" fill="none" stroke="none" marker-start="url(#m16)" marker-mid="url(#m16)" marker-end="url(#m16)"/><polyline points="383.9,187.7 386.7,187.3 389.5,187.4 392.3,186.6 395.1,187.1 398.7,186.4 411.6,185.6 412.8,185.6 423.1,185.1 430.1,183.4 435.1,183.3 438.9,182.6 442.1,182.1 444.8,182.2 447.1,181.9 449.1,180.8 451.0,180.4 452.6,180.9 454.1,180.4 455.5,179.9 456.8,180.0 458.0,179.3 459.1,179.3 460.1,179.3 461.1,178.9 462.0,179.0 463.0,178.3 463.9,178.6 464.9,177.9 465.9,177.4 466.8,178.3 467.8,177.1 468.8,177.8 469.7,177.2 470.7,176.4 471.6,176.4 472.6,176.2 473.6,176.1 474.5,175.9 475.5,175.5 476.4,175.5 477.4,175.2 478.4,175.2 479.3,174.1 480.3,174.3 481.3,173.5 482.2,173.6 483.2,173.4 484.1,173.6 485.1,173.1 486.1,172.7 487.0,172.5 488.0,172.2 489.0,172.5 489.9,171.7 490.9,171.4 491.8,171.1 492.8,170.8 493.8,170.8 494.7,170.3 495.7,169.3 496.7,169.6 497.6,169.1 498.6,168.6 499.5,167.8 500.5,167.2 501.5,165.7 502.4,165.5 503.4,163.9 504.3,163.2 505.3,161.8 506.3,159.9 507.2,159.3 508.2,157.8 509.2,157.1 510.1,154.8 511.1,153.1 512.0,151.3 513.0,149.5 514.0,148.1 514.9,146.2 515.9,143.9 516.9,142.3 517.8,140.4 518.8,138.4 519.7,136.6 520.7,134.8 521.7,134.1 522.6,133.6 523.6,133.8 524.6,132.6 525.5,133.1 526.5,132.2 527.4,132.6 528.4,132.4 529.4,131.9 530.3,132.0 531.3,131.9 532.2,132.0 533.2,131.9 534.2,132.1 535.1,132.1 536.1,132.4 537.1,132.2 538.0,132.7 539.0,132.5 539.9,132.8 540.9,133.5 541.9,135.1 542.8,135.8 543.8,136.7 544.8,138.1 545.7,138.5 546.7,140.0 547.6,141.5 548.6,142.5 549.6,144.5 550.5,146.4 551.5,147.9 552.5,149.9 553.4,151.5 554.4,153.9 555.3,155.3 556.3,157.4 557.3,159.4 558.2,161.3 559.2,163.2 560.1,165.5 561.1,166.8 562.1,168.8 563.0,170.0 564.0,172.1 565.0,173.5 565.9,175.4 566.9,177.0 567.8,178.8 568.8,180.0 569.8,181.3 570.7,183.0 571.7,183.5 572.7,184.5 573.6,185.1 574.6,185.6 575.5,186.6 576.5,186.8 577.5,187.2 578.4,187.7 579.4,188.3 580.4,188.5 581.3,188.3 582.3,188.5 583.2,188.7 584.2,189.6 585.2,189.9 586.1,188.8" fill="none" stroke="none" marker-start="url(#m17)" marker-mid="url(#m17)" marker-end="url(#m17)"/><polyline points="383.9,187.1 386.7,186.8 389.5,186.9 392.3,187.0 395.1,186.6 398.7,186.5 411.6,185.2 412.8,185.3 423.1,184.9 430.1,184.1 435.1,183.0 438.9,182.5 442.1,182.3 444.8,181.9 447.1,181.9 449.1,181.5 451.0,180.8 452.6,181.2 454.1,180.3 455.5,180.0 456.8,179.7 458.0,179.4 459.1,178.9 460.1,179.2 461.1,179.3 462.0,179.3 463.0,179.3 463.9,178.4 464.9,178.0 465.9,178.5 466.8,177.8 467.8,177.8 468.8,177.4 469.7,177.1 470.7,176.9 471.6,177.0 472.6,176.2 473.6,176.2 474.5,176.4 475.5,175.4 476.4,175.0 477.4,175.2 478.4,174.4 479.3,175.0 480.3,174.4 481.3,173.7 482.2,173.4 483.2,173.4 484.1,173.0 485.1,173.1 486.1,172.5 487.0,172.2 488.0,171.9 489.0,171.8 489.9,171.3 490.9,171.2 491.8,170.8 492.8,171.1 493.8,170.2 494.7,170.3 495.7,169.8 496.7,169.4 497.6,168.9 498.6,168.8 499.5,167.9 500.5,167.0 501.5,166.3 502.4,165.2 503.4,164.2 504.3,163.1 505.3,162.1 506.3,160.6 507.2,159.1 508.2,158.1 509.2,156.1 510.1,155.0 511.1,153.0 512.0,151.2 513.0,149.4 514.0,148.1 514.9,146.2 515.9,144.5 516.9,142.1 517.8,140.4 518.8,139.0 519.7,136.5 520.7,134.5 521.7,133.2 522.6,131.3 523.6,129.6 524.6,128.3 525.5,126.7 526.5,125.7 527.4,125.6 528.4,125.2 529.4,124.8 530.3,124.1 531.3,124.2 532.2,124.0 533.2,123.9 534.2,123.3 535.1,123.4 536.1,123.3 537.1,122.8 538.0,122.7 539.0,123.2 539.9,123.0 540.9,122.5 541.9,123.0 542.8,122.5 543.8,123.2 544.8,122.9 545.7,124.1 546.7,124.8 547.6,125.3 548.6,125.0 549.6,126.6 550.5,127.4 551.5,128.5 552.5,129.6 553.4,130.6 554.4,132.0 555.3,133.6 556.3,135.1 557.3,136.2 558.2,138.0 559.2,139.7 560.1,141.5 561.1,143.7 562.1,145.4 563.0,147.2 564.0,149.8 565.0,151.3 565.9,154.4 566.9,156.3 567.8,158.2 568.8,160.1 569.8,162.0 570.7,163.9 571.7,165.4 572.7,167.7 573.6,169.3 574.6,171.3 575.5,173.0 576.5,174.2 577.5,176.0 578.4,177.0 579.4,178.7 580.4,180.5 581.3,181.1 582.3,182.7 583.2,183.5 584.2,184.5 585.2,185.3 586.1,185.9 587.1,186.7 588.0,187.1 589.0,187.5 590.0,187.6 590.9,187.9 591.9,187.9 592.9,189.1 593.8,188.9 594.8,188.6 595.7,189.4 596.7,189.2" fill="none" stroke="none" marker-start="url(#m18)" marker-mid="url(#m18)" marker-end="url(#m18)"/><polyline points="383.9,187.1 386.7,186.7 389.5,186.9 392.3,186.8 395.1,186.8 398.7,186.4 411.6,185.6 412.8,185.4 423.1,184.8 430.1,183.9 435.1,183.5 438.9,183.1 442.1,182.6 444.8,182.2 447.1,181.8 449.1,181.4 451.0,181.4 452.6,180.6 454.1,180.3 455.5,179.7 456.8,180.6 458.0,180.1 459.1,179.7 460.1,179.5 461.1,179.1 462.0,179.1 463.0,178.9 463.9,178.3 464.9,178.3 465.9,178.5 466.8,177.6 467.8,177.0 468.8,177.1 469.7,177.2 470.7,176.5 471.6,176.7 472.6,176.5 473.6,176.1 474.5,175.6 475.5,175.6 476.4,175.5 477.4,175.5 478.4,174.8 479.3,174.9 480.3,174.3 481.3,174.4 482.2,174.0 483.2,173.8 484.1,173.4 485.1,173.3 486.1,172.4 487.0,172.2 488.0,172.3 489.0,172.2 489.9,171.3 490.9,171.4 491.8,170.8 492.8,170.4 493.8,170.5 494.7,169.9 495.7,169.6 496.7,169.5 497.6,169.0 498.6,168.6 499.5,168.7 500.5,167.1 501.5,165.8 502.4,165.0 503.4,163.5 504.3,163.1 505.3,161.7 506.3,160.8 507.2,159.5 508.2,158.0 509.2,156.2 510.1,154.5 511.1,153.6 512.0,151.2 513.0,149.4 514.0,147.6 514.9,146.3 515.9,144.1 516.9,142.2 517.8,140.8 518.8,138.8 519.7,136.1 520.7,135.0 521.7,133.2 522.6,131.8 523.6,129.8 524.6,127.7 525.5,126.5 526.5,125.4 527.4,123.9 528.4,122.7 529.4,121.6 530.3,120.9 531.3,119.4 532.2,118.6 533.2,117.4 534.2,116.4 535.1,115.2 536.1,113.7 537.1,113.1 538.0,111.4 539.0,109.5 539.9,109.3 540.9,107.9 541.9,106.6 542.8,104.9 543.8,105.3 544.8,104.5 545.7,104.5 546.7,103.8 547.6,104.2 548.6,103.5 549.6,104.2 550.5,103.9 551.5,104.2 552.5,104.2 553.4,104.6 554.4,104.8 555.3,104.8 556.3,105.9 557.3,105.9 558.2,107.0 559.2,108.4 560.1,109.7 561.1,110.9 562.1,112.7 563.0,113.9 564.0,115.7 565.0,118.1 565.9,119.6 566.9,121.5 567.8,123.8 568.8,126.0 569.8,128.4 570.7,131.0 571.7,133.1 572.7,135.5 573.6,138.6 574.6,140.9 575.5,144.1 576.5,146.1 577.5,149.3 578.4,151.7 579.4,154.0 580.4,156.9 581.3,159.2 582.3,161.3 583.2,164.0 584.2,166.0 585.2,167.9 586.1,170.1 587.1,172.2 588.0,173.9 589.0,175.7 590.0,177.3 590.9,178.7 591.9,180.7 592.9,181.6 593.8,182.7 594.8,183.4 595.7,185.1 596.7,185.7 597.7,185.9 598.6,186.8 599.6,187.0 600.6,187.7 601.5,188.2 602.5,188.4 603.4,188.3 604.4,188.6 605.4,188.9 606.3,189.1 607.3,188.9 608.3,189.1 635.6,188.6" fill="none" stroke="none" marker-start="url(#m19)" marker-mid="url(#m19)" marker-end="url(#m19)"/><polyline points="383.9,187.2 386.7,187.0 389.5,187.0 392.3,187.2 395.1,186.5 398.7,186.2 411.6,185.3 412.8,185.6 423.1,184.9 430.1,183.8 435.1,183.5 438.9,183.3 442.1,182.3 444.8,182.2 447.1,181.6 449.1,181.4 451.0,180.8 452.6,180.5 454.1,180.3 455.5,179.8 456.8,180.1 458.0,179.1 459.1,179.9 460.1,179.1 461.1,178.8 462.0,179.0 463.0,178.6 463.9,178.8 464.9,178.4 465.9,178.0 466.8,178.2 467.8,178.1 468.8,177.5 469.7,177.4 470.7,177.2 471.6,176.7 472.6,176.8 473.6,175.9 474.5,175.6 475.5,175.7 476.4,175.6 477.4,175.2 478.4,174.9 479.3,174.8 480.3,174.5 481.3,173.9 482.2,174.0 483.2,173.7 484.1,173.4 485.1,173.3 486.1,172.7 487.0,172.8 488.0,171.9 489.0,171.7 489.9,171.6 490.9,171.1 491.8,170.7 492.8,170.8 493.8,170.4 494.7,170.2 495.7,169.8 496.7,169.5 497.6,168.9 498.6,168.3 499.5,167.2 500.5,166.9 501.5,166.0 502.4,165.3 503.4,163.8 504.3,163.1 505.3,162.0 506.3,160.7 507.2,159.3 508.2,157.9 509.2,156.3 510.1,154.3 511.1,153.0 512.0,151.6 513.0,150.1 514.0,147.9 514.9,146.3 515.9,144.4 516.9,142.2 517.8,140.3 518.8,138.4 519.7,136.4 520.7,135.1 521.7,133.2 522.6,131.6 523.6,129.9 524.6,128.2 525.5,126.8 526.5,125.0 527.4,124.2 528.4,122.2 529.4,122.3 530.3,120.4 531.3,120.0 532.2,118.6 533.2,117.6 534.2,116.2 535.1,114.9 536.1,114.0 537.1,112.8 538.0,111.7 539.0,110.5 539.9,109.3 540.9,108.0 541.9,106.6 542.8,105.1 543.8,104.3 544.8,103.5 545.7,102.3 546.7,101.2 547.6,101.0 548.6,99.9 549.6,99.6 550.5,98.9 551.5,97.8 552.5,97.7 553.4,96.7 554.4,96.7 555.3,95.7 556.3,94.8 557.3,94.5 558.2,94.1 559.2,93.3 560.1,93.2 561.1,92.9 562.1,92.3 563.0,91.9 564.0,91.5 565.0,91.3 565.9,90.7 566.9,90.7 567.8,90.7 568.8,90.0 569.8,90.9 570.7,90.4 571.7,90.7 572.7,90.1 573.6,90.9 574.6,91.3 575.5,92.1 576.5,92.7 577.5,94.2 578.4,95.0 579.4,97.1 580.4,98.1 581.3,99.7 582.3,101.7 583.2,103.8 584.2,106.7 585.2,108.6 586.1,111.3 587.1,113.5 588.0,116.6 589.0,119.5 590.0,122.3 590.9,125.6 591.9,129.3 592.9,132.3 593.8,135.9 594.8,138.3 595.7,141.9 596.7,145.4 597.7,148.1 598.6,151.5 599.6,154.4 600.6,157.0 601.5,160.7 602.5,163.2 603.4,165.4 604.4,167.9 605.4,169.8 606.3,172.3 607.3,174.0 608.3,175.7 609.2,178.4 610.2,180.0 611.1,181.3 612.1,182.5 613.1,183.9 614.0,184.6 615.0,185.7 615.9,186.0 616.9,186.8 617.9,187.3 618.8,187.8 619.8,188.2 620.8,189.0 621.7,188.8 622.7,189.4 623.6,188.8" fill="none" stroke="none" marker-start="url(#m20)" marker-mid="url(#m20)" marker-end="url(#m20)"/><polyline points="383.9,187.4 386.7,187.2 389.5,186.9 392.3,186.1 395.1,186.8 398.7,185.8 411.6,185.2 412.8,184.5 423.1,184.2 430.1,183.5 435.1,182.7 438.9,182.3 442.1,181.8 444.8,181.0 447.1,181.0 449.1,180.2 451.0,180.0 452.6,179.6 454.1,179.1 455.5,179.0 456.8,179.2 458.0,178.4 459.1,179.1 460.1,177.9 461.1,177.7 462.0,178.1 463.0,177.3 463.9,177.9 464.9,176.9 465.9,177.0 466.8,176.8 467.8,176.5 468.8,176.3 469.7,175.7 470.7,175.7 471.6,175.4 472.6,175.1 473.6,175.0 474.5,174.9 475.5,174.2 476.4,173.8 477.4,174.1 478.4,173.3 479.3,172.9 480.3,172.9 481.3,172.3 482.2,173.0 483.2,171.8 484.1,172.0 485.1,171.5 486.1,171.5 487.0,170.3 488.0,170.7 489.0,170.1 489.9,170.4 490.9,169.7 491.8,169.2 492.8,169.0 493.8,168.8 494.7,167.9 495.7,168.3 496.7,167.5 497.6,167.2 498.6,166.7 499.5,165.7 500.5,165.1 501.5,164.4 502.4,163.3 503.4,162.5 504.3,161.2 505.3,159.9 506.3,158.9 507.2,157.6 508.2,156.4 509.2,154.5 510.1,153.1 511.1,151.6 512.0,150.1 513.0,148.7 514.0,146.8 514.9,145.0 515.9,143.6 516.9,141.8 517.8,139.8 518.8,137.5 519.7,136.1 520.7,134.9 521.7,132.4 522.6,130.9 523.6,129.3 524.6,128.1 525.5,126.5 526.5,124.6 527.4,123.6 528.4,121.6 529.4,122.2 530.3,121.1 531.3,119.7 532.2,118.7 533.2,117.5 534.2,116.0 535.1,114.7 536.1,114.2 537.1,112.5 538.0,111.3 539.0,110.2 539.9,108.7 540.9,107.5 541.9,106.8 542.8,105.3 543.8,104.0 544.8,103.1 545.7,101.6 546.7,100.0 547.6,98.8 548.6,97.6 549.6,95.6 550.5,95.0 551.5,94.2 552.5,93.9 553.4,92.7 554.4,92.4 555.3,91.7 556.3,91.1 557.3,90.7 558.2,89.7 559.2,89.6 560.1,88.5 561.1,88.4 562.1,87.4 563.0,87.2 564.0,86.6 565.0,86.9 565.9,86.1 566.9,85.7 567.8,85.6 568.8,85.5 569.8,85.5 570.7,86.0 571.7,85.0 572.7,85.4 573.6,85.3 574.6,85.1 575.5,86.1 576.5,85.9 577.5,86.0 578.4,86.7 579.4,87.4 580.4,88.3 581.3,89.0 582.3,90.5 583.2,91.3 584.2,92.2 585.2,94.1 586.1,95.3 587.1,97.0 588.0,98.9 589.0,101.0 590.0,102.6 590.9,104.6 591.9,106.8 592.9,108.8 593.8,111.0 594.8,113.3 595.7,115.8 596.7,118.7 597.7,120.6 598.6,123.5 599.6,126.1 600.6,129.3 601.5,131.3 602.5,133.7 603.4,136.9 604.4,139.5 605.4,142.6 606.3,145.1 607.3,147.7 608.3,150.1 609.2,152.8 610.2,155.2 611.1,157.9 612.1,160.3 613.1,162.2 614.0,163.6 615.0,166.6 615.9,168.1 616.9,169.7 617.9,172.0 618.8,173.8 619.8,174.9 620.8,176.6 621.7,178.3 622.7,179.0 623.6,180.5" fill="none" stroke="none" marker-start="url(#m21)" marker-mid="url(#m21)" marker-end="url(#m21)"/><polyline points="383.9,186.8 386.7,187.0 389.5,186.1 392.3,186.0 395.1,185.9 398.7,185.4 411.6,185.0 412.8,184.9 423.1,183.2 430.1,182.4 435.1,181.8 438.9,181.3 442.1,180.4 444.8,180.1 447.1,179.5 449.1,179.6 451.0,178.9 452.6,178.5 454.1,178.0 455.5,178.4 456.8,177.7 458.0,177.5 459.1,177.1 460.1,176.9 461.1,176.5 462.0,176.1 463.0,176.0 463.9,175.9 464.9,175.3 465.9,174.9 466.8,175.0 467.8,175.0 468.8,174.0 469.7,173.9 470.7,173.4 471.6,173.8 472.6,173.5 473.6,173.2 474.5,172.9 475.5,173.0 476.4,172.1 477.4,172.4 478.4,172.4 479.3,171.4 480.3,171.4 481.3,170.7 482.2,170.8 483.2,170.5 484.1,170.4 485.1,169.8 486.1,169.2 487.0,168.2 488.0,168.3 489.0,168.3 489.9,167.4 490.9,167.3 491.8,167.5 492.8,167.1 493.8,166.6 494.7,166.0 495.7,165.4 496.7,165.2 497.6,164.7 498.6,164.2 499.5,163.2 500.5,162.3 501.5,162.0 502.4,160.5 503.4,160.1 504.3,159.0 505.3,157.3 506.3,156.5 507.2,155.4 508.2,154.6 509.2,152.7 510.1,151.5 511.1,150.0 512.0,148.1 513.0,147.0 514.0,144.8 514.9,143.7 515.9,142.0 516.9,140.5 517.8,138.8 518.8,136.8 519.7,135.5 520.7,134.2 521.7,132.5 522.6,130.5 523.6,129.1 524.6,128.0 525.5,126.5 526.5,125.1 527.4,123.8 528.4,123.1 529.4,121.7 530.3,121.0 531.3,119.8 532.2,118.5 533.2,116.9 534.2,116.2 535.1,114.6 536.1,113.7 537.1,112.3 538.0,111.5 539.0,110.8 539.9,109.7 540.9,108.0 541.9,106.1 542.8,105.4 543.8,104.2 544.8,102.7 545.7,101.6 546.7,100.3 547.6,98.9 548.6,97.5 549.6,96.5 550.5,95.2 551.5,93.2 552.5,92.5 553.4,91.1 554.4,89.6 555.3,88.2 556.3,86.7 557.3,85.0 558.2,83.6 559.2,82.6 560.1,81.1 561.1,79.5 562.1,79.0 563.0,78.1 564.0,77.7 565.0,76.6 565.9,76.0 566.9,75.7 567.8,74.6 568.8,73.5 569.8,73.4 570.7,73.2 571.7,72.1 572.7,71.9 573.6,71.5 574.6,70.8 575.5,70.6 576.5,70.0 577.5,70.5 578.4,70.2 579.4,69.9 580.4,69.7 581.3,70.1 582.3,69.7 583.2,70.2 584.2,70.2 585.2,70.5 586.1,70.8 587.1,71.4 588.0,72.4 589.0,73.0 590.0,74.0 590.9,75.3 591.9,76.6 592.9,78.1 593.8,79.0 594.8,80.9 595.7,83.0 596.7,84.6 597.7,87.3 598.6,89.4 599.6,91.7 600.6,93.9 601.5,96.6 602.5,99.4 603.4,102.3 604.4,105.0 605.4,107.3 606.3,110.4 607.3,113.9 608.3,116.1 609.2,119.8 610.2,122.9 611.1,125.9 612.1,129.0 613.1,132.2 614.0,135.2 615.0,138.0 615.9,141.0 616.9,144.4 617.9,147.2 618.8,150.2 619.8,152.8 620.8,155.4 621.7,158.0 622.7,160.2 623.6,163.0 624.6,164.9 625.6,166.9 626.5,169.2 627.5,171.1 628.5,172.6 629.4,174.5 630.4,176.2 631.3,177.6 632.3,179.8 633.3,180.2 634.2,181.5 635.2,182.5 636.2,184.0 637.1,184.6 638.1,185.1 639.0,185.8 640.0,186.6 641.0,187.1 641.9,187.0 642.9,187.7 643.8,187.8" fill="none" stroke="none" marker-start="url(#m22)" marker-mid="url(#m22)" marker-end="url(#m22)"/><polyline points="383.9,186.8 386.7,186.1 389.5,186.2 392.3,186.0 395.1,185.3 398.7,185.6 411.6,184.4 412.8,184.2 423.1,182.8 430.1,181.6 435.1,180.7 438.9,179.8 442.1,179.4 444.8,178.5 447.1,178.2 449.1,177.9 451.0,177.6 452.6,176.8 454.1,176.9 455.5,176.2 456.8,176.1 458.0,175.9 459.1,175.3 460.1,175.0 461.1,174.8 462.0,174.4 463.0,174.3 463.9,174.3 464.9,173.8 465.9,173.1 466.8,173.5 467.8,173.5 468.8,172.7 469.7,172.7 470.7,171.8 471.6,171.8 472.6,171.8 473.6,171.3 474.5,171.2 475.5,170.5 476.4,170.1 477.4,169.6 478.4,169.4 479.3,169.3 480.3,168.6 481.3,168.5 482.2,168.6 483.2,167.5 484.1,167.7 485.1,167.3 486.1,167.2 487.0,166.6 488.0,166.5 489.0,165.9 489.9,165.4 490.9,165.1 491.8,164.4 492.8,163.7 493.8,163.5 494.7,162.9 495.7,162.2 496.7,162.2 497.6,161.2 498.6,161.0 499.5,160.3 500.5,159.5 501.5,158.4 502.4,158.3 503.4,156.8 504.3,156.2 505.3,155.0 506.3,154.2 507.2,153.5 508.2,151.3 509.2,150.2 510.1,149.4 511.1,148.0 512.0,146.8 513.0,145.1 514.0,143.1 514.9,142.2 515.9,141.2 516.9,139.0 517.8,138.0 518.8,136.7 519.7,134.7 520.7,133.3 521.7,131.8 522.6,130.2 523.6,128.7 524.6,128.2 525.5,126.3 526.5,124.8 527.4,123.6 528.4,123.1 529.4,122.2 530.3,120.9 531.3,119.4 532.2,118.5 533.2,117.1 534.2,116.2 535.1,115.4 536.1,114.1 537.1,112.7 538.0,111.3 539.0,109.9 539.9,109.3 540.9,107.7 541.9,106.6 542.8,105.7 543.8,104.4 544.8,102.4 545.7,101.7 546.7,100.3 547.6,98.8 548.6,97.5 549.6,96.1 550.5,95.2 551.5,93.7 552.5,92.2 553.4,90.8 554.4,89.7 555.3,88.6 556.3,86.5 557.3,85.1 558.2,83.7 559.2,82.6 560.1,81.6 561.1,79.9 562.1,77.8 563.0,77.1 564.0,76.3 565.0,75.9 565.9,74.8 566.9,73.5 567.8,72.9 568.8,72.3 569.8,71.2 570.7,70.7 571.7,70.0 572.7,69.6 573.6,68.9 574.6,68.1 575.5,67.8 576.5,67.8 577.5,67.1 578.4,66.7 579.4,66.2 580.4,65.6 581.3,65.7 582.3,65.6 583.2,65.2 584.2,65.2 585.2,65.4 586.1,65.1 587.1,65.3 588.0,65.4 589.0,66.2 590.0,66.7 590.9,67.1 591.9,67.7 592.9,67.6 593.8,68.4 594.8,69.8 595.7,70.1 596.7,71.8 597.7,72.9 598.6,73.4 599.6,75.7 600.6,76.6 601.5,78.1 602.5,79.7 603.4,81.6 604.4,83.5 605.4,85.1 606.3,87.5 607.3,89.6 608.3,91.7 609.2,94.1 610.2,96.4 611.1,98.4 612.1,100.8 613.1,103.5 614.0,106.3 615.0,109.0 615.9,111.6 616.9,114.3 617.9,117.0 618.8,119.6 619.8,122.4 620.8,124.7 621.7,128.1 622.7,130.6 623.6,133.0 624.6,136.0 625.6,138.6 626.5,141.0 627.5,143.7 628.5,146.5 629.4,148.6 630.4,150.9 631.3,153.9 632.3,155.4 633.3,158.3 634.2,159.8 635.2,162.4 636.2,163.9 637.1,165.9 638.1,167.4 639.0,169.3 640.0,171.0 641.0,172.6 641.9,173.8 642.9,175.4 643.8,176.5 644.8,177.9 645.8,178.9 646.7,180.1 647.7,181.3 648.7,182.3 649.6,183.0 650.6,183.7 651.5,185.0" fill="none" stroke="none" marker-start="url(#m23)" marker-mid="url(#m23)" marker-end="url(#m23)"/><polyline points="383.9,185.8 386.7,185.8 389.5,185.4 392.3,185.0 395.1,185.5 398.7,184.7 411.6,182.9 412.8,183.5 423.1,181.5 430.1,180.3 435.1,179.5 438.9,178.3 442.1,177.5 444.8,177.1 447.1,176.2 449.1,175.6 451.0,175.5 452.6,174.8 454.1,174.4 455.5,173.7 456.8,173.6 458.0,173.3 459.1,173.2 460.1,172.7 461.1,172.2 462.0,172.4 463.0,172.1 463.9,172.0 464.9,170.8 465.9,171.2 466.8,170.9 467.8,170.6 468.8,169.8 469.7,169.7 470.7,170.0 471.6,169.1 472.6,168.3 473.6,168.4 474.5,168.0 475.5,166.9 476.4,167.4 477.4,167.0 478.4,166.4 479.3,165.5 480.3,165.6 481.3,165.8 482.2,164.9 483.2,164.5 484.1,163.8 485.1,163.7 486.1,163.1 487.0,163.0 488.0,162.6 489.0,161.7 489.9,160.8 490.9,161.1 491.8,160.7 492.8,159.5 493.8,159.2 494.7,158.5 495.7,158.3 496.7,157.6 497.6,157.1 498.6,156.5 499.5,155.3 500.5,155.2 501.5,154.4 502.4,153.5 503.4,152.7 504.3,151.4 505.3,150.9 506.3,149.8 507.2,149.3 508.2,147.8 509.2,146.7 510.1,145.6 511.1,145.1 512.0,143.7 513.0,143.0 514.0,140.7 514.9,139.9 515.9,138.2 516.9,136.9 517.8,135.9 518.8,135.0 519.7,133.7 520.7,132.1 521.7,131.6 522.6,129.4 523.6,128.2 524.6,127.1 525.5,126.2 526.5,124.9 527.4,124.3 528.4,123.0 529.4,121.8 530.3,120.8 531.3,119.1 532.2,118.3 533.2,117.9 534.2,115.8 535.1,114.9 536.1,113.9 537.1,112.9 538.0,110.9 539.0,110.2 539.9,109.0 540.9,108.3 541.9,106.7 542.8,105.1 543.8,104.0 544.8,102.9 545.7,101.6 546.7,100.7 547.6,99.6 548.6,97.5 549.6,96.7 550.5,95.4 551.5,93.5 552.5,92.0 553.4,91.0 554.4,89.2 555.3,88.1 556.3,87.6 557.3,84.9 558.2,84.3 559.2,82.1 560.1,81.2 561.1,79.8 562.1,78.5 563.0,77.2 564.0,75.3 565.0,73.6 565.9,72.3 566.9,71.3 567.8,69.7 568.8,68.4 569.8,67.4 570.7,66.8 571.7,64.8 572.7,64.5 573.6,63.5 574.6,62.2 575.5,61.2 576.5,60.4 577.5,59.7 578.4,58.8 579.4,57.5 580.4,57.2 581.3,55.6 582.3,54.9 583.2,54.3 584.2,53.6 585.2,53.3 586.1,52.6 587.1,51.6 588.0,51.5 589.0,50.4 590.0,50.2 590.9,49.9 591.9,49.8 592.9,49.7 593.8,49.3 594.8,49.4 595.7,49.1 596.7,49.1 597.7,49.2 598.6,48.9 599.6,49.6 600.6,49.9 601.5,49.8 602.5,50.5 603.4,51.1 604.4,52.0 605.4,52.6 606.3,53.2 607.3,54.5 608.3,55.5 609.2,56.5 610.2,57.9 611.1,59.2 612.1,61.3 613.1,63.0 614.0,64.5 615.0,65.9 615.9,68.1 616.9,70.4 617.9,71.4 618.8,73.7 619.8,76.4 620.8,78.7 621.7,81.1 622.7,83.1 623.6,85.7 624.6,88.4 625.6,90.7 626.5,94.0 627.5,96.8 628.5,99.2 629.4,102.1 630.4,104.9 631.3,107.6 632.3,111.0 633.3,113.1 634.2,116.9 635.2,119.2 636.2,122.1 637.1,124.8 638.1,127.9 639.0,131.0 640.0,133.6 641.0,136.7 641.9,139.0 642.9,141.7 643.8,144.7 644.8,146.2 645.8,149.4 646.7,151.5 647.7,153.6 648.7,156.2 649.6,158.5 650.6,160.8 651.5,162.7 652.5,164.6 653.5,166.3 654.4,167.7 655.4,169.5 656.4,170.7 657.3,172.5 658.3,173.9 659.2,176.2 660.2,176.8 661.2,178.0" fill="none" stroke="none" marker-start="url(#m24)" marker-mid="url(#m24)" marker-end="url(#m24)"/><polyline points="383.9,185.5 386.7,184.9 389.5,184.8 392.3,184.4 395.1,184.0 398.7,183.6 411.6,181.8 412.8,181.5 423.1,179.7 430.1,178.5 435.1,176.9 438.9,176.1 442.1,175.1 444.8,174.0 447.1,173.3 449.1,172.6 451.0,172.7 452.6,172.0 454.1,171.5 455.5,171.2 456.8,170.8 458.0,170.2 459.1,169.7 460.1,169.1 461.1,169.5 462.0,168.8 463.0,168.8 463.9,168.3 464.9,168.5 465.9,166.9 466.8,167.5 467.8,166.7 468.8,166.8 469.7,166.0 470.7,165.8 471.6,165.6 472.6,164.9 473.6,164.3 474.5,163.8 475.5,163.8 476.4,162.7 477.4,162.5 478.4,162.2 479.3,161.0 480.3,161.1 481.3,160.4 482.2,159.5 483.2,159.4 484.1,158.9 485.1,158.1 486.1,157.9 487.0,157.2 488.0,156.7 489.0,156.2 489.9,155.3 490.9,154.8 491.8,153.9 492.8,153.6 493.8,153.4 494.7,152.3 495.7,151.8 496.7,151.2 497.6,150.2 498.6,149.6 499.5,149.5 500.5,147.8 501.5,147.7 502.4,147.4 503.4,146.3 504.3,145.3 505.3,145.0 506.3,144.2 507.2,143.6 508.2,142.3 509.2,141.7 510.1,140.3 511.1,139.8 512.0,139.0 513.0,138.4 514.0,137.1 514.9,136.8 515.9,135.5 516.9,134.5 517.8,134.0 518.8,133.1 519.7,131.6 520.7,130.4 521.7,129.8 522.6,128.5 523.6,127.8 524.6,127.0 525.5,126.1 526.5,125.2 527.4,123.6 528.4,123.0 529.4,121.9 530.3,120.5 531.3,119.4 532.2,118.6 533.2,117.2 534.2,116.2 535.1,115.0 536.1,113.9 537.1,112.8 538.0,112.1 539.0,110.4 539.9,108.7 540.9,107.9 541.9,106.6 542.8,105.2 543.8,104.4 544.8,102.8 545.7,101.6 546.7,100.1 547.6,98.8 548.6,97.6 549.6,96.3 550.5,94.7 551.5,93.6 552.5,92.7 553.4,90.6 554.4,89.4 555.3,88.3 556.3,86.8 557.3,85.6 558.2,83.9 559.2,83.0 560.1,80.9 561.1,79.6 562.1,78.6 563.0,76.8 564.0,75.9 565.0,74.2 565.9,72.9 566.9,71.0 567.8,69.6 568.8,68.7 569.8,66.9 570.7,65.4 571.7,64.2 572.7,62.0 573.6,61.7 574.6,59.5 575.5,58.1 576.5,57.2 577.5,56.0 578.4,54.0 579.4,53.7 580.4,51.7 581.3,50.7 582.3,49.0 583.2,47.9 584.2,46.8 585.2,45.0 586.1,43.6 587.1,43.1 588.0,41.4 589.0,40.3 590.0,39.4 590.9,38.3 591.9,36.9 592.9,35.7 593.8,35.0 594.8,34.6 595.7,32.8 596.7,32.0 597.7,31.8 598.6,30.5 599.6,29.6 600.6,28.9 601.5,28.1 602.5,27.7 603.4,26.7 604.4,27.1 605.4,25.7 606.3,25.5 607.3,25.0 608.3,24.5 609.2,24.0 610.2,24.4 611.1,24.0 612.1,24.1 613.1,23.8 614.0,24.0 615.0,24.3 615.9,23.8 616.9,24.3 617.9,24.8 618.8,24.9 619.8,26.2 620.8,26.3 621.7,26.7 622.7,28.1 623.6,29.1 624.6,30.1 625.6,30.6 626.5,31.9 627.5,33.3 628.5,34.5 629.4,36.4 630.4,37.9 631.3,39.2 632.3,41.5 633.3,43.0 634.2,45.0 635.2,47.2 636.2,49.0 637.1,51.6 638.1,53.6 639.0,56.3 640.0,58.5 641.0,60.9 641.9,63.1 642.9,65.8 643.8,68.8 644.8,71.3 645.8,73.4 646.7,76.8 647.7,79.6 648.7,83.2 649.6,85.7 650.6,88.2 651.5,91.9 652.5,94.7 653.5,97.7 654.4,100.6 655.4,103.5 656.4,107.1 657.3,109.5 658.3,113.4 659.2,116.0 660.2,118.6 661.2,122.0 662.1,124.8 663.1,127.6 664.1,129.9" fill="none" stroke="none" marker-start="url(#m25)" marker-mid="url(#m25)" marker-end="url(#m25)"/></g>
<g clip-path="url(#cpc)"><polyline points="45.9,279.6 48.7,279.0 51.4,278.7 54.2,279.4 57.0,279.6 60.6,279.4 73.2,280.2 74.4,280.1 84.6,280.9 91.5,282.3 96.5,284.4 100.3,285.8 103.4,288.3 106.1,290.3 108.3,291.5 110.4,293.5 112.2,295.0 113.8,296.5 115.3,297.6 116.7,298.9 118.0,300.1 119.1,301.1 120.2,301.9 120.8,302.9 121.4,303.1 122.0,303.9 122.6,305.2 123.2,305.9 123.8,306.7 124.4,307.3 125.0,307.7 125.6,308.8 126.2,309.7 126.8,310.4 127.4,311.9 128.0,312.1 128.6,313.1 129.2,313.8 129.8,315.1 130.3,315.7 130.9,316.6 131.5,318.1 132.1,318.8 132.7,320.3 133.3,321.3 133.9,322.5 134.5,323.4 135.1,324.8 135.7,325.9 136.3,326.8 136.9,328.3 137.5,328.9 138.1,330.6 138.7,331.6 139.3,332.9 139.9,333.7 140.5,335.1 141.0,336.6 141.6,338.0 142.2,338.9 142.8,340.6 143.4,342.3 144.0,343.4 144.6,344.9 145.2,346.8 145.8,348.5 146.4,349.9 147.0,352.4 147.6,354.0 148.2,355.8 148.8,357.8 149.4,360.8 150.0,362.4 150.6,364.7 151.1,366.3 151.7,368.8 152.3,371.1 152.9,373.3 153.5,375.8 154.1,378.5 154.7,379.7 155.3,383.1 155.9,384.5 156.5,386.7 157.1,389.0 157.7,390.8 158.3,393.2 158.9,394.9 159.5,397.0 160.1,399.2 160.7,400.5 161.2,402.7 161.8,404.0 162.4,406.2 163.0,407.5 163.6,409.0 164.2,410.4 164.8,412.7 165.4,414.2 166.0,415.7 166.6,417.6 167.2,418.8 167.8,420.0 168.4,422.3 169.0,424.2 169.6,426.6 170.2,428.2 170.8,430.3 171.4,431.9 171.9,434.7 172.5,436.3 173.1,438.9 173.7,440.9 174.3,443.0 174.9,444.7 175.5,447.1 176.1,448.5 176.7,449.7 177.3,452.2 177.9,452.8 178.5,454.2 179.1,455.7 179.7,456.7 180.3,457.0 180.9,458.2 181.5,458.8 182.0,461.6 182.6,469.0 183.2,454.0 183.8,457.5 184.4,469.8 185.0,455.7 185.6,473.5 186.2,474.3 186.8,459.4 187.4,469.3 188.0,466.7 188.6,455.6 189.2,475.4 189.8,463.5 190.4,471.3 191.0,467.9 191.6,470.5 192.1,474.8 192.7,468.8 193.3,476.0 193.9,469.1 194.5,476.2 195.1,471.3 195.7,468.3 196.3,479.4 196.9,469.7 197.5,464.2 198.1,468.4 198.7,462.5 199.3,476.5 199.9,465.0 200.5,467.0 201.1,489.3 201.7,469.3 202.2,462.9 202.8,469.7 203.4,469.0 204.0,470.2 204.6,470.4 205.2,476.9 205.8,474.2 206.4,485.2 207.0,454.1 207.6,469.4 208.2,467.6 208.8,464.7 209.4,465.6 210.0,469.8 210.6,480.7 211.2,478.0 211.8,457.0 212.4,466.2 212.9,464.4 213.5,476.9 214.1,472.7 214.7,467.3 215.3,474.9 215.9,460.6 216.5,474.8 217.1,472.4 217.7,477.6 218.3,466.7 218.9,459.9 219.5,467.7 220.1,469.3 220.7,471.9 221.3,463.5 221.9,469.3 222.5,456.5 223.0,471.2 223.6,472.0 224.2,473.1 224.8,483.1 225.4,467.6 226.0,468.3 226.6,480.8 227.2,477.7 227.8,477.0 228.4,471.5 229.0,476.7 229.6,463.7 230.2,460.6 230.8,474.0 231.4,469.1 232.0,477.0 232.6,459.7 233.1,477.1 233.7,475.0 234.3,469.2 234.9,475.1 235.5,449.8 236.1,470.7 236.7,471.0 237.3,476.4 237.9,469.9 238.5,473.7 239.1,472.3 239.7,462.1 240.3,473.6 240.9,466.2 241.5,473.8 242.1,462.0 242.7,474.8 243.3,476.3 243.8,471.0 244.4,460.2 245.0,472.2 245.6,475.6 246.2,470.4 246.8,474.4 247.4,467.4 248.0,474.2 248.6,467.0 249.2,462.8 249.8,465.7 250.4,458.4 251.0,467.1 251.6,455.9 252.2,460.1 252.8,471.2 253.4,463.6 253.9,474.6 254.5,470.7 255.1,469.9 255.7,474.9 256.3,467.0 256.9,469.9 257.5,454.9 258.1,463.7 258.7,471.0 259.3,474.1 259.9,473.1 260.5,474.2 261.1,474.7 261.7,469.2 262.3,479.0 262.9,471.5 263.5,465.7 264.0,473.5 264.6,477.3 265.2,472.9 265.8,463.1 266.4,474.8 267.0,458.1 267.6,481.2 268.2,475.1 268.8,464.9 269.4,459.6 270.0,470.7 270.6,481.2 271.2,471.3 271.8,475.8 272.4,474.2 273.0,472.0 273.6,473.6 274.1,469.6 274.7,468.2 275.3,471.3 275.9,482.1 276.5,470.6 277.1,488.1 277.7,468.8 278.3,472.3 278.9,475.9 279.5,454.2 280.1,457.3 280.7,459.6 281.3,467.7 281.9,472.8 282.5,465.9 283.1,457.6 283.7,469.9 284.3,470.3 284.8,473.5 285.4,469.7 286.0,463.3 286.6,475.8 287.2,461.7 287.8,468.3 288.4,453.2 289.0,467.9 289.6,460.2 290.2,476.4 290.8,451.9 291.4,468.6 292.0,469.8 292.6,458.5 293.2,468.1 293.8,478.1 294.4,464.8 294.9,465.3 295.5,469.3 296.1,472.6 296.7,480.8 297.3,457.2 297.9,472.4 298.5,466.6 299.1,472.8 299.7,474.3 300.3,467.2 300.9,475.5 301.5,462.5 302.1,480.7 302.7,464.9 303.3,460.7" fill="none" stroke="none" marker-start="url(#m26)" marker-mid="url(#m26)" marker-end="url(#m26)"/><polyline points="45.9,279.4 48.7,279.2 51.4,279.0 54.2,279.4 57.0,279.4 60.6,279.5 73.2,279.1 74.4,280.2 84.6,280.6 91.5,281.9 96.5,283.7 100.3,285.8 103.4,287.5 106.1,289.0 108.3,290.3 110.4,291.7 112.2,293.9 113.8,295.1 115.3,296.1 116.7,297.5 118.0,298.5 119.1,299.3 120.2,300.4 120.8,301.0 121.4,301.3 122.0,302.1 122.6,302.6 123.2,303.1 123.8,303.6 124.4,304.5 125.0,304.9 125.6,305.9 126.2,307.1 126.8,307.1 127.4,307.5 128.0,308.9 128.6,309.5 129.2,310.5 129.8,311.9 130.3,312.5 130.9,313.8 131.5,314.7 132.1,315.3 132.7,316.5 133.3,317.7 133.9,319.0 134.5,319.4 135.1,320.7 135.7,321.7 136.3,323.1 136.9,324.2 137.5,325.2 138.1,326.8 138.7,327.1 139.3,328.7 139.9,329.5 140.5,330.8 141.0,332.5 141.6,333.4 142.2,335.2 142.8,336.4 143.4,337.0 144.0,338.9 144.6,340.3 145.2,341.3 145.8,342.9 146.4,344.2 147.0,346.6 147.6,348.0 148.2,350.1 148.8,351.6 149.4,353.7 150.0,355.9 150.6,358.1 151.1,360.1 151.7,361.6 152.3,364.1 152.9,366.5 153.5,368.4 154.1,371.0 154.7,372.6 155.3,374.9 155.9,377.4 156.5,379.8 157.1,382.4 157.7,383.9 158.3,385.6 158.9,388.3 159.5,390.6 160.1,392.3 160.7,394.6 161.2,396.8 161.8,398.4 162.4,400.0 163.0,402.5 163.6,403.3 164.2,404.9 164.8,407.0 165.4,408.8 166.0,410.7 166.6,411.7 167.2,413.6 167.8,414.7 168.4,416.3 169.0,418.0 169.6,420.1 170.2,422.4 170.8,423.4 171.4,425.8 171.9,427.8 172.5,429.4 173.1,431.7 173.7,434.2 174.3,436.1 174.9,438.2 175.5,440.2 176.1,442.5 176.7,443.7 177.3,446.1 177.9,447.6 178.5,449.2 179.1,450.5 179.7,452.4 180.3,454.2 180.9,455.3 181.5,455.9 182.0,456.5 182.6,458.3 183.2,458.1 183.8,463.6 184.4,461.7 185.0,464.2 185.6,457.6 186.2,464.0 186.8,463.6 187.4,470.5 188.0,454.1 188.6,462.6 189.2,466.1 189.8,451.1 190.4,462.1 191.0,457.4 191.6,469.6 192.1,467.0 192.7,469.4 193.3,462.3 193.9,466.7 194.5,481.0 195.1,464.9 195.7,470.6 196.3,467.2 196.9,462.1 197.5,471.0 198.1,464.5 198.7,468.9 199.3,469.6 199.9,472.6 200.5,469.8 201.1,471.2 201.7,463.4 202.2,485.5 202.8,464.9 203.4,469.5 204.0,476.5 204.6,463.4 205.2,469.2 205.8,465.0 206.4,459.4 207.0,467.4 207.6,480.4 208.2,480.4 208.8,469.4 209.4,477.6 210.0,453.7 210.6,469.7 211.2,481.8 211.8,484.5 212.4,472.9 212.9,486.3 213.5,465.5 214.1,485.5 214.7,462.7 215.3,472.5 215.9,461.0 216.5,477.3 217.1,472.3 217.7,461.1 218.3,480.5 218.9,464.2 219.5,458.6 220.1,476.1 220.7,470.1 221.3,457.1 221.9,458.4 222.5,457.3 223.0,469.7 223.6,471.6 224.2,470.2 224.8,471.7 225.4,463.1 226.0,462.9 226.6,465.3 227.2,473.9 227.8,463.3 228.4,465.4 229.0,467.3 229.6,460.1 230.2,471.6 230.8,468.0 231.4,461.1 232.0,474.3 232.6,462.6 233.1,463.6 233.7,458.2 234.3,459.6 234.9,473.0 235.5,456.1 236.1,472.2 236.7,477.4 237.3,470.9 237.9,471.4 238.5,475.3 239.1,461.9 239.7,465.2 240.3,464.5 240.9,478.8 241.5,455.8 242.1,465.5 242.7,460.5 243.3,466.4 243.8,466.2 244.4,463.4 245.0,467.7 245.6,459.0 246.2,472.5 246.8,483.4 247.4,471.4 248.0,469.0 248.6,465.9 249.2,468.2 249.8,465.8 250.4,465.7 251.0,470.1 251.6,464.9 252.2,464.9 252.8,474.4 253.4,481.4 253.9,467.3 254.5,465.3 255.1,461.2 255.7,460.9 256.3,466.8 256.9,460.5 257.5,472.9 258.1,472.2 258.7,459.2 259.3,477.3 259.9,469.0 260.5,476.3 261.1,477.5 261.7,453.6 262.3,481.5 262.9,456.1 263.5,472.0 264.0,474.2 264.6,480.7 265.2,467.2 265.8,464.4 266.4,464.6 267.0,475.3 267.6,457.1 268.2,467.3 268.8,465.1 269.4,464.6 270.0,464.8 270.6,471.1 271.2,466.3 271.8,473.9 272.4,467.0 273.0,475.7 273.6,479.0 274.1,473.1 274.7,469.9 275.3,473.7 275.9,471.0 276.5,472.7 277.1,468.5 277.7,456.4 278.3,464.6 278.9,462.8 279.5,461.7 280.1,462.6 280.7,465.8 281.3,462.8 281.9,461.1 282.5,469.9 283.1,470.7 283.7,468.9 284.3,469.2 284.8,465.5 285.4,471.9 286.0,471.7 286.6,467.1 287.2,465.3 287.8,469.5 288.4,479.3 289.0,470.5 289.6,462.8 290.2,470.4 290.8,459.9 291.4,472.4 292.0,470.5 292.6,463.1 293.2,460.6 293.8,470.9 294.4,458.4 294.9,467.4 295.5,466.0 296.1,456.0 296.7,462.8 297.3,470.3 297.9,469.2 298.5,475.2 299.1,460.9 299.7,466.2 300.3,455.5 300.9,460.1 301.5,468.6 302.1,473.0 302.7,471.0 303.3,459.9 303.9,469.6 304.5,460.7 305.0,460.0 305.6,458.1 306.2,467.0 306.8,463.7" fill="none" stroke="none" marker-start="url(#m27)" marker-mid="url(#m27)" marker-end="url(#m27)"/><polyline points="45.9,279.6 48.7,279.1 51.4,279.3 54.2,279.0 57.0,279.9 60.6,279.5 73.2,279.2 74.4,279.9 84.6,280.7 91.5,281.6 96.5,283.3 100.3,285.1 103.4,286.5 106.1,288.1 108.3,289.3 110.4,290.3 112.2,292.1 113.8,293.4 115.3,294.2 116.7,296.1 118.0,296.2 119.1,298.0 120.2,298.7 120.8,299.0 121.4,299.9 122.0,300.2 122.6,300.5 123.2,301.0 123.8,302.1 124.4,303.1 125.0,302.7 125.6,304.0 126.2,304.1 126.8,304.7 127.4,305.4 128.0,306.5 128.6,307.3 129.2,307.0 129.8,308.7 130.3,309.9 130.9,310.8 131.5,311.4 132.1,311.7 132.7,312.9 133.3,314.4 133.9,315.5 134.5,316.2 135.1,317.1 135.7,318.0 136.3,319.0 136.9,319.9 137.5,321.7 138.1,322.9 138.7,323.6 139.3,324.5 139.9,326.0 140.5,326.9 141.0,328.2 141.6,329.1 142.2,330.7 142.8,332.0 143.4,333.0 144.0,334.1 144.6,335.9 145.2,337.0 145.8,338.5 146.4,339.9 147.0,340.2 147.6,342.6 148.2,344.1 148.8,345.7 149.4,347.6 150.0,349.1 150.6,351.0 151.1,352.8 151.7,355.1 152.3,357.3 152.9,359.0 153.5,360.9 154.1,362.9 154.7,365.5 155.3,367.8 155.9,370.1 156.5,371.7 157.1,374.6 157.7,376.8 158.3,378.9 158.9,381.2 159.5,383.3 160.1,385.4 160.7,387.1 161.2,389.6 161.8,391.7 162.4,394.3 163.0,395.2 163.6,397.6 164.2,399.3 164.8,401.4 165.4,403.1 166.0,404.9 166.6,406.5 167.2,408.2 167.8,409.5 168.4,411.0 169.0,412.9 169.6,414.6 170.2,415.9 170.8,417.9 171.4,419.4 171.9,421.5 172.5,422.8 173.1,425.3 173.7,427.1 174.3,428.9 174.9,431.5 175.5,433.9 176.1,435.8 176.7,437.8 177.3,441.1 177.9,442.7 178.5,444.7 179.1,446.4 179.7,448.9 180.3,450.0 180.9,451.8 181.5,453.0 182.0,454.7 182.6,455.0 183.2,455.4 183.8,456.6 184.4,456.9 185.0,457.8 185.6,458.7 186.2,458.6 186.8,460.0 187.4,453.9 188.0,458.6 188.6,468.8 189.2,475.5 189.8,452.1 190.4,453.3 191.0,461.4 191.6,462.4 192.1,455.9 192.7,464.8 193.3,470.4 193.9,452.5 194.5,471.4 195.1,464.5 195.7,452.4 196.3,458.3 196.9,454.0 197.5,451.1 198.1,460.4 198.7,472.3 199.3,474.1 199.9,477.6 200.5,456.5 201.1,472.0 201.7,462.7 202.2,461.1 202.8,459.3 203.4,462.0 204.0,452.6 204.6,459.4 205.2,454.2 205.8,462.4 206.4,461.6 207.0,460.6 207.6,458.4 208.2,456.2 208.8,465.3 209.4,457.3 210.0,442.0 210.6,481.0 211.2,457.3 211.8,462.6 212.4,463.4 212.9,466.1 213.5,470.2 214.1,460.0 214.7,467.0 215.3,450.4 215.9,459.5 216.5,449.2 217.1,461.0 217.7,472.1 218.3,458.7 218.9,460.3 219.5,455.7 220.1,479.0 220.7,461.3 221.3,451.3 221.9,461.3 222.5,476.5 223.0,458.8 223.6,458.3 224.2,451.7 224.8,457.7 225.4,469.0 226.0,453.3 226.6,456.7 227.2,453.1 227.8,463.1 228.4,454.3 229.0,476.9 229.6,471.5 230.2,457.4 230.8,450.2 231.4,457.7 232.0,460.6 232.6,463.0 233.1,464.8 233.7,453.8 234.3,474.7 234.9,459.8 235.5,450.9 236.1,473.8 236.7,478.0 237.3,468.9 237.9,461.8 238.5,457.9 239.1,465.9 239.7,456.1 240.3,465.5 240.9,473.4 241.5,454.4 242.1,461.8 242.7,466.6 243.3,473.7 243.8,480.1 244.4,469.4 245.0,456.6 245.6,468.4 246.2,471.5 246.8,467.4 247.4,457.5 248.0,457.5 248.6,452.9 249.2,468.1 249.8,450.9 250.4,450.3 251.0,458.6 251.6,454.2 252.2,449.7 252.8,459.0 253.4,468.0 253.9,457.9 254.5,459.1 255.1,456.7 255.7,442.7 256.3,461.4 256.9,463.5 257.5,452.8 258.1,461.5 258.7,470.7 259.3,459.4 259.9,454.5 260.5,473.5 261.1,449.4 261.7,447.8 262.3,469.8 262.9,459.9 263.5,458.9 264.0,457.6 264.6,459.7 265.2,456.6 265.8,467.3 266.4,463.5 267.0,462.4 267.6,458.5 268.2,447.6 268.8,455.3 269.4,469.3 270.0,459.0 270.6,447.9 271.2,446.8 271.8,449.4 272.4,461.0 273.0,456.2 273.6,460.4 274.1,469.9 274.7,461.3 275.3,464.6 275.9,471.0 276.5,462.8 277.1,464.5 277.7,463.5 278.3,456.4 278.9,469.4 279.5,461.1 280.1,459.0 280.7,459.6 281.3,459.7 281.9,461.1 282.5,473.2 283.1,476.8 283.7,466.0 284.3,464.6 284.8,468.4 285.4,467.4 286.0,464.7 286.6,449.2 287.2,462.5 287.8,455.8 288.4,456.8 289.0,460.5 289.6,454.7 290.2,465.8 290.8,463.1 291.4,470.3 292.0,462.6 292.6,455.3 293.2,468.2 293.8,462.3 294.4,463.6 294.9,462.1 295.5,464.7 296.1,459.7 296.7,470.8 297.3,460.8 297.9,449.6 298.5,469.7 299.1,455.8" fill="none" stroke="none" marker-start="url(#m28)" marker-mid="url(#m28)" marker-end="url(#m28)"/><polyline points="45.9,279.4 48.7,279.4 51.4,278.7 54.2,279.1 57.0,279.2 60.6,278.9 73.2,279.7 74.4,280.0 84.6,281.2 91.5,281.3 96.5,282.5 100.3,284.7 103.4,286.4 106.1,288.0 108.3,288.7 110.4,290.8 112.2,291.2 113.8,292.1 115.3,293.6 116.7,294.7 118.0,295.4 119.1,295.8 120.2,297.4 120.8,297.8 121.4,297.8 122.0,298.7 122.6,298.5 123.2,299.6 123.8,300.2 124.4,300.8 125.0,300.9 125.6,301.1 126.2,302.0 126.8,302.8 127.4,303.7 128.0,303.8 128.6,304.8 129.2,304.6 129.8,306.3 130.3,307.2 130.9,307.9 131.5,308.3 132.1,309.0 132.7,310.0 133.3,310.6 133.9,311.6 134.5,312.9 135.1,313.2 135.7,314.9 136.3,315.6 136.9,316.6 137.5,317.3 138.1,318.8 138.7,319.7 139.3,321.5 139.9,322.0 140.5,323.1 141.0,323.8 141.6,325.9 142.2,327.0 142.8,327.5 143.4,328.3 144.0,330.2 144.6,332.1 145.2,333.2 145.8,334.1 146.4,335.5 147.0,336.4 147.6,337.5 148.2,338.9 148.8,340.8 149.4,342.1 150.0,343.5 150.6,344.9 151.1,346.6 151.7,348.6 152.3,350.0 152.9,352.0 153.5,354.3 154.1,356.2 154.7,357.8 155.3,360.2 155.9,362.7 156.5,364.8 157.1,366.7 157.7,369.1 158.3,371.4 158.9,373.9 159.5,376.0 160.1,378.1 160.7,379.8 161.2,383.0 161.8,384.7 162.4,387.2 163.0,389.5 163.6,390.4 164.2,393.5 164.8,394.8 165.4,396.8 166.0,398.8 166.6,400.7 167.2,402.5 167.8,404.0 168.4,405.8 169.0,407.3 169.6,409.0 170.2,411.3 170.8,412.8 171.4,414.0 171.9,415.6 172.5,417.7 173.1,418.7 173.7,420.5 174.3,422.4 174.9,424.2 175.5,426.3 176.1,428.7 176.7,431.0 177.3,432.7 177.9,435.4 178.5,437.7 179.1,440.0 179.7,441.7 180.3,443.9 180.9,446.0 181.5,447.6 182.0,449.9 182.6,451.0 183.2,452.9 183.8,454.1 184.4,455.2 185.0,455.9 185.6,456.1 186.2,457.1 186.8,457.0 187.4,457.4 188.0,459.1 188.6,463.0 189.2,466.9 189.8,459.4 190.4,438.4 191.0,460.9 191.6,458.9 192.1,466.9 192.7,457.2 193.3,458.7 193.9,453.6 194.5,445.8 195.1,453.8 195.7,467.4 196.3,462.4 196.9,470.9 197.5,464.7 198.1,472.0 198.7,453.5 199.3,477.6 199.9,457.4 200.5,460.8 201.1,473.0 201.7,456.1 202.2,452.4 202.8,448.9 203.4,463.7 204.0,456.3 204.6,460.4 205.2,451.3 205.8,461.8 206.4,453.7 207.0,469.2 207.6,466.6 208.2,469.7 208.8,463.1 209.4,471.0 210.0,460.7 210.6,466.0 211.2,472.0 211.8,460.1 212.4,453.6 212.9,458.1 213.5,459.3 214.1,463.5 214.7,463.1 215.3,473.4 215.9,447.5 216.5,474.0 217.1,468.3 217.7,469.4 218.3,469.6 218.9,460.7 219.5,467.2 220.1,465.9 220.7,459.2 221.3,470.6 221.9,469.9 222.5,458.5 223.0,465.5 223.6,475.2 224.2,457.5 224.8,472.4 225.4,462.0 226.0,461.8 226.6,459.8 227.2,459.9 227.8,464.9 228.4,462.1 229.0,473.9 229.6,460.0 230.2,475.6 230.8,456.6 231.4,467.2 232.0,455.6 232.6,462.3 233.1,458.2 233.7,465.2 234.3,463.7 234.9,458.4 235.5,457.2 236.1,464.7 236.7,481.8 237.3,460.9 237.9,456.7 238.5,452.6 239.1,463.8 239.7,454.1 240.3,488.0 240.9,464.9 241.5,466.6 242.1,446.8 242.7,463.7 243.3,443.1 243.8,461.6 244.4,465.1 245.0,466.2 245.6,468.0 246.2,461.0 246.8,460.8 247.4,469.2 248.0,449.0 248.6,454.2 249.2,464.1 249.8,458.1 250.4,463.2 251.0,465.6 251.6,468.1 252.2,466.8 252.8,449.0 253.4,449.6 253.9,462.8 254.5,464.3 255.1,453.6 255.7,468.1 256.3,456.5 256.9,473.1 257.5,459.0 258.1,456.5 258.7,455.8 259.3,450.3 259.9,453.1 260.5,465.0 261.1,471.9 261.7,479.0 262.3,469.7 262.9,463.0 263.5,466.0 264.0,441.3 264.6,458.6 265.2,458.7 265.8,461.0 266.4,463.3 267.0,459.1 267.6,453.6 268.2,461.4 268.8,454.9 269.4,451.4 270.0,460.3 270.6,456.7 271.2,459.3 271.8,453.0 272.4,455.3 273.0,460.1 273.6,453.0 274.1,452.9 274.7,460.0 275.3,470.6 275.9,448.8 276.5,459.9 277.1,456.3 277.7,460.2 278.3,463.9 278.9,470.3 279.5,461.5 280.1,463.1 280.7,457.7 281.3,463.7 281.9,462.0 282.5,456.1 283.1,461.6 283.7,466.0 284.3,458.1 284.8,463.8 285.4,469.2 286.0,469.4 286.6,468.1 287.2,466.0 287.8,478.2 288.4,472.3 289.0,466.1 289.6,464.7 290.2,463.0 290.8,457.5 291.4,469.6" fill="none" stroke="none" marker-start="url(#m29)" marker-mid="url(#m29)" marker-end="url(#m29)"/><polyline points="45.9,278.8 48.7,279.1 51.4,280.0 54.2,279.3 57.0,279.7 60.6,279.3 73.2,279.4 74.4,280.4 84.6,280.5 91.5,281.5 96.5,282.5 100.3,282.6 103.4,283.4 106.1,284.6 108.3,285.3 110.4,286.2 112.2,286.7 113.8,287.2 115.3,287.8 116.7,288.1 118.0,288.8 119.1,289.4 120.2,289.9 120.8,290.0 121.4,290.3 122.0,291.2 122.6,291.1 123.2,291.2 123.8,291.9 124.4,292.4 125.0,292.5 125.6,292.9 126.2,292.9 126.8,293.2 127.4,293.3 128.0,294.4 128.6,294.0 129.2,294.2 129.8,294.0 130.3,295.2 130.9,295.3 131.5,296.4 132.1,295.9 132.7,296.0 133.3,296.8 133.9,297.4 134.5,297.2 135.1,298.3 135.7,297.8 136.3,299.1 136.9,299.0 137.5,299.4 138.1,299.8 138.7,300.5 139.3,301.1 139.9,300.8 140.5,301.6 141.0,302.6 141.6,303.3 142.2,303.4 142.8,303.9 143.4,305.0 144.0,305.9 144.6,306.4 145.2,307.2 145.8,307.8 146.4,309.1 147.0,310.2 147.6,311.0 148.2,312.3 148.8,313.3 149.4,314.1 150.0,315.1 150.6,316.1 151.1,317.6 151.7,318.4 152.3,318.8 152.9,321.1 153.5,321.9 154.1,323.1 154.7,324.0 155.3,325.6 155.9,325.9 156.5,328.1 157.1,329.1 157.7,330.4 158.3,331.3 158.9,332.9 159.5,334.7 160.1,335.6 160.7,337.1 161.2,337.9 161.8,339.4 162.4,340.8 163.0,342.4 163.6,344.1 164.2,345.2 164.8,346.9 165.4,348.2 166.0,350.8 166.6,352.2 167.2,354.8 167.8,356.2 168.4,358.4 169.0,360.7 169.6,362.7 170.2,364.5 170.8,366.7 171.4,368.9 171.9,371.0 172.5,373.0 173.1,375.3 173.7,377.8 174.3,379.4 174.9,381.0 175.5,383.7 176.1,385.6 176.7,388.0 177.3,390.0 177.9,392.0 178.5,394.0 179.1,395.4 179.7,397.5 180.3,398.9 180.9,400.7 181.5,402.8 182.0,403.4 182.6,405.9 183.2,407.4 183.8,409.2 184.4,411.0 185.0,412.3 185.6,413.7 186.2,416.0 186.8,416.8 187.4,418.2 188.0,419.1 188.6,421.6 189.2,422.4 189.8,423.1 190.4,424.8 191.0,425.6 191.6,427.2 192.1,428.5 192.7,429.1 193.3,430.6 193.9,431.9 194.5,432.7 195.1,433.4 195.7,434.9 196.3,435.2 196.9,437.3 197.5,437.4 198.1,438.8 198.7,439.5 199.3,440.4 199.9,441.6 200.5,442.3 201.1,443.4 201.7,443.9 202.2,444.6 202.8,444.6 203.4,445.6 204.0,445.8 204.6,446.4 205.2,446.1 205.8,447.4 206.4,447.8 207.0,447.8 207.6,448.9 208.2,448.7 208.8,456.4 209.4,455.6 210.0,451.4 210.6,435.0 211.2,444.0 211.8,444.6 212.4,447.7 212.9,447.6 213.5,456.5 214.1,450.5 214.7,452.8 215.3,447.6 215.9,446.1 216.5,461.0 217.1,462.4 217.7,442.2 218.3,461.0 218.9,444.2 219.5,432.6 220.1,445.3 220.7,450.8 221.3,454.0 221.9,451.8 222.5,446.4 223.0,431.1 223.6,446.6 224.2,454.3 224.8,441.3 225.4,453.1 226.0,443.5 226.6,451.1 227.2,451.5 227.8,447.5 228.4,454.1 229.0,457.9 229.6,453.5 230.2,452.5 230.8,455.7 231.4,447.6 232.0,450.6 232.6,450.9 233.1,455.6 233.7,451.4 234.3,448.0 234.9,455.3 235.5,454.8 236.1,451.1 236.7,451.3 237.3,457.4 237.9,446.9 238.5,449.9 239.1,439.3 239.7,461.5 240.3,462.4 240.9,451.1 241.5,439.1 242.1,446.2 242.7,452.9 243.3,458.5 243.8,450.8 244.4,456.7 245.0,459.0 245.6,452.4 246.2,458.1 246.8,455.3 247.4,458.4 248.0,454.6 248.6,449.6 249.2,452.7 249.8,451.2 250.4,460.7 251.0,463.6 251.6,453.9 252.2,453.2 252.8,448.4 253.4,463.2 253.9,446.5 254.5,454.0 255.1,461.0 255.7,457.4 256.3,456.5 256.9,443.3 257.5,456.4 258.1,450.8 258.7,459.6 259.3,463.1 259.9,458.5 260.5,465.0 261.1,455.5 261.7,454.8 262.3,440.6 262.9,456.7 263.5,445.2 264.0,448.5 264.6,447.3 265.2,451.7 265.8,454.3 266.4,449.7 267.0,444.7 267.6,459.1 268.2,462.3 268.8,457.5 269.4,463.7 270.0,456.4 270.6,455.6 271.2,458.7 271.8,454.7 272.4,444.5 273.0,452.8 273.6,445.1 274.1,454.4 274.7,452.4 275.3,463.1 275.9,444.2 276.5,451.0 277.1,442.6 277.7,453.8 278.3,457.7 278.9,438.1 279.5,461.2 280.1,467.7 280.7,447.6 281.3,460.9 281.9,461.8 282.5,451.3 283.1,459.1" fill="none" stroke="none" marker-start="url(#m30)" marker-mid="url(#m30)" marker-end="url(#m30)"/><polyline points="45.9,278.7 48.7,278.6 51.4,278.6 54.2,279.5 57.0,279.1 60.6,279.7 73.2,280.1 74.4,280.1 84.6,280.6 91.5,281.1 96.5,282.0 100.3,282.1 103.4,283.6 106.1,283.8 108.3,285.0 110.4,284.9 112.2,285.3 113.8,285.7 115.3,286.4 116.7,287.1 118.0,287.8 119.1,288.1 120.2,288.4 120.8,288.9 121.4,289.3 122.0,288.8 122.6,289.2 123.2,289.5 123.8,290.0 124.4,290.0 125.0,290.5 125.6,290.5 126.2,290.9 126.8,291.2 127.4,291.7 128.0,291.5 128.6,292.3 129.2,291.8 129.8,292.3 130.3,292.9 130.9,293.0 131.5,293.2 132.1,293.7 132.7,294.4 133.3,294.3 133.9,294.8 134.5,295.0 135.1,294.7 135.7,295.6 136.3,296.3 136.9,296.0 137.5,296.3 138.1,297.1 138.7,297.2 139.3,297.8 139.9,297.8 140.5,297.9 141.0,297.8 141.6,299.0 142.2,299.3 142.8,299.2 143.4,300.1 144.0,300.1 144.6,301.0 145.2,300.4 145.8,302.1 146.4,302.2 147.0,302.5 147.6,303.3 148.2,303.8 148.8,304.7 149.4,305.7 150.0,306.3 150.6,307.1 151.1,308.1 151.7,308.8 152.3,310.0 152.9,311.1 153.5,311.4 154.1,312.7 154.7,313.3 155.3,314.3 155.9,316.0 156.5,316.4 157.1,317.9 157.7,319.0 158.3,320.8 158.9,321.5 159.5,322.6 160.1,323.9 160.7,325.2 161.2,326.6 161.8,327.2 162.4,328.4 163.0,329.5 163.6,331.4 164.2,332.6 164.8,332.8 165.4,334.7 166.0,335.9 166.6,336.8 167.2,338.7 167.8,339.7 168.4,340.6 169.0,342.1 169.6,343.3 170.2,345.1 170.8,346.0 171.4,348.4 171.9,350.2 172.5,351.2 173.1,352.8 173.7,354.5 174.3,356.8 174.9,358.4 175.5,359.8 176.1,361.3 176.7,363.0 177.3,364.7 177.9,367.4 178.5,369.0 179.1,371.3 179.7,373.0 180.3,374.8 180.9,376.4 181.5,378.5 182.0,380.0 182.6,381.5 183.2,383.8 183.8,385.7 184.4,387.3 185.0,389.2 185.6,390.9 186.2,392.8 186.8,394.2 187.4,396.1 188.0,397.4 188.6,399.0 189.2,400.3 189.8,402.0 190.4,403.5 191.0,405.2 191.6,406.8 192.1,408.0 192.7,409.8 193.3,410.9 193.9,412.0 194.5,414.1 195.1,415.1 195.7,416.5 196.3,418.1 196.9,419.1 197.5,420.9 198.1,422.4 198.7,423.2 199.3,424.4 199.9,425.8 200.5,426.9 201.1,428.8 201.7,430.0 202.2,430.6 202.8,432.5 203.4,433.4 204.0,435.0 204.6,437.0 205.2,437.9 205.8,438.2 206.4,440.3 207.0,441.4 207.6,443.2 208.2,444.1 208.8,445.6 209.4,446.5 210.0,447.5 210.6,448.8 211.2,450.0 211.8,450.4 212.4,451.4 212.9,452.6 213.5,453.4 214.1,453.7 214.7,454.7 215.3,454.9 215.9,455.6 216.5,458.2 217.1,449.3 217.7,470.3 218.3,464.3 218.9,457.5 219.5,451.7 220.1,452.7 220.7,455.3 221.3,465.5 221.9,460.4 222.5,446.7 223.0,455.5 223.6,453.1 224.2,460.2 224.8,469.9 225.4,464.2 226.0,452.3 226.6,467.4 227.2,452.7 227.8,458.3 228.4,474.4 229.0,461.4 229.6,465.6 230.2,463.3 230.8,451.3 231.4,472.0 232.0,473.5 232.6,464.3 233.1,461.0 233.7,459.9 234.3,461.0 234.9,468.2 235.5,463.5 236.1,446.6 236.7,458.3 237.3,455.8 237.9,459.3 238.5,460.3 239.1,472.8 239.7,458.4 240.3,443.9 240.9,474.7 241.5,457.6 242.1,471.2 242.7,457.1 243.3,459.6 243.8,462.7 244.4,470.8 245.0,465.9 245.6,452.4 246.2,464.0 246.8,462.3 247.4,458.0 248.0,466.1 248.6,463.4 249.2,472.7 249.8,447.3 250.4,460.0 251.0,457.5 251.6,466.1 252.2,469.4 252.8,456.6 253.4,465.5 253.9,461.6 254.5,469.4 255.1,445.8 255.7,462.6 256.3,459.6 256.9,455.4 257.5,470.0 258.1,460.7 258.7,471.2 259.3,468.0 259.9,455.8 260.5,453.6 261.1,458.7 261.7,468.6 262.3,462.6 262.9,456.5 263.5,464.8 264.0,464.3 264.6,460.5 265.2,456.0 265.8,466.4 266.4,473.0 267.0,465.9 267.6,463.1 268.2,463.5 268.8,459.9 269.4,454.0 270.0,462.1 270.6,459.1 271.2,466.6 271.8,462.6 272.4,458.0 273.0,470.3 273.6,454.9 274.1,468.0 274.7,464.0 275.3,458.0 275.9,457.8 276.5,461.4 277.1,466.4 277.7,448.2 278.3,462.7 278.9,461.7 279.5,461.5 280.1,461.0 280.7,463.9 281.3,466.1 281.9,469.4 282.5,470.1 283.1,457.0 283.7,450.0 284.3,460.7 284.8,460.9 285.4,463.7 286.0,464.7 286.6,448.4 287.2,460.6 287.8,458.2 288.4,454.6 289.0,482.6 289.6,457.3 290.2,462.3 290.8,461.3 291.4,461.2 292.0,457.2 292.6,457.6 293.2,450.2 293.8,465.0 294.4,458.9 294.9,455.4" fill="none" stroke="none" marker-start="url(#m31)" marker-mid="url(#m31)" marker-end="url(#m31)"/><polyline points="45.9,279.4 48.7,279.3 51.4,279.1 54.2,279.2 57.0,279.4 60.6,279.3 73.2,279.0 74.4,279.9 84.6,280.5 91.5,280.6 96.5,281.7 100.3,281.8 103.4,282.6 106.1,282.2 108.3,282.7 110.4,283.4 112.2,284.3 113.8,284.3 115.3,284.6 116.7,283.7 118.0,285.3 119.1,285.1 120.2,285.1 120.8,285.3 121.4,285.7 122.0,285.9 122.6,285.6 123.2,286.1 123.8,286.6 124.4,286.5 125.0,286.6 125.6,286.2 126.2,286.8 126.8,287.4 127.4,287.1 128.0,286.9 128.6,287.6 129.2,287.6 129.8,288.0 130.3,287.7 130.9,287.9 131.5,288.2 132.1,288.1 132.7,288.2 133.3,288.7 133.9,288.7 134.5,288.6 135.1,289.0 135.7,289.6 136.3,289.1 136.9,289.4 137.5,289.4 138.1,289.6 138.7,289.4 139.3,290.4 139.9,289.6 140.5,290.1 141.0,290.2 141.6,290.9 142.2,290.8 142.8,291.0 143.4,291.0 144.0,291.8 144.6,291.5 145.2,292.2 145.8,291.2 146.4,292.2 147.0,292.4 147.6,292.6 148.2,292.4 148.8,292.6 149.4,292.8 150.0,293.8 150.6,293.6 151.1,293.6 151.7,293.8 152.3,293.9 152.9,294.5 153.5,294.7 154.1,295.4 154.7,295.1 155.3,295.1 155.9,295.4 156.5,296.0 157.1,296.0 157.7,296.2 158.3,296.8 158.9,296.9 159.5,296.9 160.1,297.1 160.7,296.9 161.2,298.1 161.8,298.1 162.4,298.1 163.0,298.7 163.6,298.6 164.2,299.7 164.8,298.9 165.4,299.4 166.0,300.0 166.6,300.7 167.2,300.7 167.8,301.2 168.4,300.8 169.0,301.7 169.6,301.8 170.2,302.1 170.8,302.7 171.4,303.1 171.9,303.9 172.5,303.4 173.1,303.6 173.7,304.3 174.3,305.0 174.9,305.0 175.5,305.6 176.1,306.8 176.7,306.4 177.3,307.4 177.9,307.3 178.5,307.9 179.1,307.8 179.7,308.9 180.3,308.8 180.9,309.4 181.5,310.2 182.0,310.2 182.6,310.9 183.2,311.4 183.8,312.0 184.4,312.0 185.0,312.7 185.6,313.0 186.2,313.4 186.8,313.5 187.4,314.5 188.0,314.9 188.6,314.9 189.2,316.0 189.8,316.0 190.4,316.7 191.0,317.9 191.6,317.4 192.1,318.4 192.7,319.2 193.3,319.4 193.9,319.8 194.5,320.3 195.1,320.2 195.7,321.9 196.3,321.8 196.9,322.5 197.5,323.0 198.1,323.5 198.7,324.2 199.3,324.0 199.9,324.9 200.5,325.5 201.1,326.0 201.7,327.0 202.2,327.2 202.8,327.8 203.4,328.5 204.0,328.4 204.6,329.3 205.2,329.8 205.8,330.7 206.4,331.1 207.0,331.7 207.6,332.1 208.2,332.9 208.8,333.4 209.4,334.4 210.0,334.6 210.6,335.3 211.2,335.9 211.8,336.8 212.4,337.3 212.9,338.1 213.5,338.6 214.1,339.4 214.7,340.2 215.3,340.9 215.9,341.5 216.5,342.5 217.1,343.7 217.7,343.7 218.3,344.6 218.9,345.1 219.5,345.8 220.1,346.7 220.7,347.7 221.3,348.4 221.9,349.8 222.5,350.1 223.0,351.4 223.6,352.3 224.2,352.8 224.8,354.1 225.4,355.1 226.0,355.9 226.6,357.1 227.2,357.5 227.8,359.1 228.4,359.8 229.0,360.5 229.6,361.7 230.2,362.2 230.8,363.6 231.4,364.8 232.0,366.3 232.6,366.8 233.1,367.7 233.7,368.9 234.3,370.0 234.9,371.1 235.5,372.4 236.1,373.3 236.7,374.4 237.3,375.5 237.9,376.2 238.5,377.9 239.1,378.4 239.7,380.0 240.3,381.2 240.9,382.0 241.5,383.2 242.1,384.1 242.7,384.8 243.3,385.7 243.8,386.8 244.4,388.8 245.0,388.7 245.6,390.3 246.2,390.9 246.8,391.6 247.4,392.6 248.0,393.4 248.6,394.8 249.2,396.0 249.8,396.9 250.4,396.9 251.0,398.5 251.6,399.2 252.2,400.3 252.8,401.3 253.4,401.6 253.9,402.5 254.5,403.8 255.1,404.6 255.7,405.9 256.3,406.6 256.9,407.7 257.5,408.2 258.1,409.0 258.7,410.5 259.3,411.7 259.9,411.9 260.5,412.5 261.1,414.3 261.7,414.4 262.3,415.8 262.9,416.7 263.5,418.1 264.0,418.6 264.6,419.9 265.2,420.2 265.8,420.6 266.4,422.1 267.0,423.2 267.6,424.0 268.2,424.8 268.8,425.5 269.4,426.0 270.0,427.2 270.6,428.0 271.2,429.1 271.8,429.9 272.4,430.4 273.0,431.2 273.6,432.0 274.1,432.5 274.7,433.0 275.3,434.4 275.9,434.6 276.5,435.2 277.1,436.3 277.7,437.2 278.3,437.8 278.9,438.0 279.5,438.6 280.1,439.1 280.7,439.6 281.3,440.0 281.9,440.5 282.5,440.9 283.1,441.8 283.7,442.2 284.3,443.0 284.8,443.5 285.4,443.6 286.0,444.4 286.6,444.1 287.2,445.1 287.8,444.9 288.4,446.0 289.0,446.3 289.6,446.4 290.2,447.0 290.8,447.1 291.4,448.2 292.0,448.2 292.6,448.9 293.2,449.1 293.8,450.0 294.4,450.3 294.9,450.5 295.5,450.7 296.1,451.5 296.7,451.9 297.3,452.6 297.9,452.6 298.5,452.3 299.1,453.3 299.7,454.1 300.3,454.3 300.9,454.6 301.5,454.8 302.1,454.9 302.7,455.1 303.3,455.8 303.9,455.8 304.5,456.3 305.0,456.4 305.6,456.6 306.2,457.0 306.8,458.0 307.4,457.6 308.0,458.2 308.6,459.1 309.2,458.6 309.8,459.0 310.4,459.6 311.0,460.0 311.6,456.3 312.2,457.9 312.8,455.6 313.4,459.7 314.0,446.5 314.6,465.6 315.2,460.5 315.7,460.5 316.3,449.9 316.9,452.4 317.5,465.7 318.1,453.3 318.7,466.6 319.3,456.1 319.9,473.3 320.5,475.0 321.1,455.3 321.7,459.3 322.3,465.2 322.9,474.7" fill="none" stroke="none" marker-start="url(#m32)" marker-mid="url(#m32)" marker-end="url(#m32)"/><path d="M45.9 279.2L47.5 279.2L49.1 279.3L50.7 279.3L52.3 279.3L53.9 279.3L55.6 279.3L57.2 279.4L58.8 279.4L60.4 279.4L62.0 279.5L63.6 279.5L65.2 279.6L66.8 279.6L68.4 279.7L70.0 279.8L71.6 279.8L73.3 279.9L74.9 280.0L76.5 280.1L78.1 280.2L79.7 280.3L81.3 280.4L82.9 280.5L84.5 280.6L86.1 280.7L87.7 280.9L89.4 281.2L91.0 281.7L92.6 282.2L94.2 282.8L95.8 283.6L97.4 284.4L99.0 285.3L100.6 286.2L102.2 287.3L103.8 288.4L105.4 289.5L107.1 290.8L108.7 292.0L110.3 293.3L111.9 294.7L113.5 296.0L115.1 297.4L116.7 298.8L118.3 300.3L119.9 301.8L121.5 303.6L123.1 305.5L124.8 307.5L126.4 309.8L128.0 312.2L129.6 314.7L131.2 317.4L132.8 320.2L134.4 323.1L136.0 326.2L137.6 329.4L139.2 332.7L140.9 336.1L142.5 339.7L144.1 343.6L145.7 348.1L147.3 353.2L148.9 358.8L150.5 364.6L152.1 370.6L153.7 376.7L155.3 382.7L156.9 388.5L158.6 394.1L160.2 399.3L161.8 404.0L163.4 408.5L165.0 412.9L166.6 417.3L168.2 422.0L169.8 427.2L171.4 432.8L173.0 438.4L174.6 443.9L176.3 448.9L177.9 453.0L179.5 456.2L181.1 458.4L182.7 460.5L184.3 462.5L185.9 464.3L187.5 465.9L189.1 467.2L190.7 468.2L192.3 468.7L194.0 468.9L195.6 468.9L197.2 468.9L198.8 468.9L200.4 468.9L202.0 468.9L203.6 468.9L205.2 468.9L206.8 468.9L208.4 468.9L210.1 468.9L211.7 468.9L213.3 468.9L214.9 468.9L216.5 468.9L218.1 468.9L219.7 468.9L221.3 468.9L222.9 468.9L224.5 468.9L226.1 468.9L227.8 468.9L229.4 468.9L231.0 468.9L232.6 468.9L234.2 468.9L235.8 468.9L237.4 468.9L239.0 468.9L240.6 468.9L242.2 468.9L243.8 468.9L245.5 468.9L247.1 468.9L248.7 468.9L250.3 468.9L251.9 468.9L253.5 468.9L255.1 468.9L256.7 468.9L258.3 468.9L259.9 468.9L261.6 468.9L263.2 468.9L264.8 468.9L266.4 468.9L268.0 468.9L269.6 468.9L271.2 468.9L272.8 468.9L274.4 468.9L276.0 468.9L277.6 468.9L279.3 468.9L280.9 468.9L282.5 468.9L284.1 468.9L285.7 468.9L287.3 468.9L288.9 468.9L290.5 468.9L292.1 468.9L293.7 468.9L295.3 468.9L297.0 468.9L298.6 468.9L300.2 468.9L301.8 468.9L303.4 468.9" fill="none" stroke="#f00" stroke-width="1"/><path d="M45.9 279.2L47.4 279.2L48.9 279.3L50.4 279.3L51.8 279.3L53.3 279.3L54.8 279.3L56.3 279.4L57.8 279.4L59.3 279.4L60.8 279.5L62.2 279.5L63.7 279.6L65.2 279.6L66.7 279.7L68.2 279.7L69.7 279.8L71.2 279.9L72.6 279.9L74.1 280.0L75.6 280.1L77.1 280.1L78.6 280.2L80.1 280.3L81.6 280.4L83.0 280.5L84.5 280.6L86.0 280.7L87.5 280.8L89.0 280.9L90.5 281.1L92.0 281.3L93.4 281.5L94.9 281.7L96.4 282.0L97.9 282.3L99.4 282.6L100.9 283.0L102.4 283.4L103.8 283.8L105.3 284.2L106.8 284.7L108.3 285.1L109.8 285.6L111.3 286.2L112.7 286.7L114.2 287.3L115.7 287.9L117.2 288.5L118.7 289.2L120.2 289.9L121.7 290.6L123.1 291.3L124.6 292.0L126.1 292.8L127.6 293.6L129.1 294.4L130.6 295.3L132.1 296.2L133.5 297.0L135.0 298.0L136.5 298.9L138.0 299.9L139.5 300.9L141.0 302.3L142.5 303.8L143.9 305.7L145.4 307.7L146.9 309.9L148.4 312.3L149.9 314.9L151.4 317.6L152.9 320.5L154.3 323.4L155.8 326.5L157.3 329.6L158.8 332.9L160.3 336.1L161.8 339.4L163.3 343.0L164.7 347.0L166.2 351.4L167.7 356.2L169.2 361.2L170.7 366.4L172.2 371.7L173.7 377.1L175.1 382.3L176.6 387.5L178.1 392.4L179.6 397.0L181.1 401.3L182.6 405.6L184.1 409.7L185.5 413.7L187.0 417.4L188.5 420.8L190.0 423.8L191.5 426.8L193.0 429.7L194.5 432.5L195.9 435.2L197.4 437.8L198.9 440.1L200.4 442.2L201.9 443.9L203.4 445.4L204.9 446.5L206.3 447.5L207.8 448.5L209.3 449.4L210.8 450.2L212.3 451.0L213.8 451.7L215.3 452.2L216.7 452.6L218.2 452.9L219.7 453.1L221.2 453.1L222.7 453.1L224.2 453.1L225.6 453.1L227.1 453.1L228.6 453.1L230.1 453.1L231.6 453.1L233.1 453.1L234.6 453.1L236.0 453.1L237.5 453.1L239.0 453.1L240.5 453.1L242.0 453.1L243.5 453.1L245.0 453.1L246.4 453.1L247.9 453.1L249.4 453.1L250.9 453.1L252.4 453.1L253.9 453.1L255.4 453.1L256.8 453.1L258.3 453.1L259.8 453.1L261.3 453.1L262.8 453.1L264.3 453.1L265.8 453.1L267.2 453.1L268.7 453.1L270.2 453.1L271.7 453.1L273.2 453.1L274.7 453.1L276.2 453.1L277.6 453.1L279.1 453.1L280.6 453.1L282.1 453.1L283.6 453.1" fill="none" stroke="#f00" stroke-width="1"/><path d="M45.9 279.2L47.5 279.2L49.0 279.3L50.6 279.3L52.1 279.3L53.7 279.3L55.3 279.3L56.8 279.4L58.4 279.4L59.9 279.4L61.5 279.5L63.1 279.5L64.6 279.6L66.2 279.7L67.7 279.7L69.3 279.8L70.9 279.8L72.4 279.9L74.0 280.0L75.5 280.1L77.1 280.2L78.7 280.2L80.2 280.3L81.8 280.4L83.3 280.5L84.9 280.6L86.5 280.7L88.0 280.8L89.6 280.9L91.1 281.1L92.7 281.3L94.3 281.5L95.8 281.7L97.4 282.0L98.9 282.3L100.5 282.6L102.1 282.9L103.6 283.3L105.2 283.6L106.7 284.0L108.3 284.5L109.9 284.9L111.4 285.4L113.0 285.9L114.5 286.4L116.1 286.9L117.7 287.5L119.2 288.0L120.8 288.6L122.3 289.3L123.9 289.9L125.5 290.6L127.0 291.3L128.6 292.0L130.1 292.8L131.7 293.5L133.2 294.3L134.8 295.1L136.4 296.0L137.9 296.8L139.5 297.7L141.0 298.6L142.6 299.5L144.2 300.5L145.7 301.8L147.3 303.3L148.8 305.1L150.4 307.1L152.0 309.4L153.5 311.8L155.1 314.4L156.6 317.2L158.2 320.1L159.8 323.1L161.3 326.2L162.9 329.4L164.4 332.6L166.0 335.9L167.6 339.2L169.1 342.5L170.7 346.3L172.2 350.4L173.8 354.7L175.4 359.3L176.9 364.0L178.5 368.9L180.0 373.8L181.6 378.7L183.2 383.5L184.7 388.2L186.3 392.8L187.8 397.1L189.4 401.2L191.0 405.2L192.5 409.1L194.1 412.8L195.6 416.5L197.2 420.1L198.8 423.5L200.3 426.8L201.9 430.3L203.4 433.8L205.0 437.2L206.6 440.7L208.1 443.9L209.7 447.0L211.2 449.8L212.8 452.2L214.4 454.2L215.9 455.8L217.5 457.0L219.0 458.1L220.6 459.2L222.2 460.1L223.7 460.9L225.3 461.5L226.8 461.9L228.4 462.0L230.0 462.0L231.5 462.0L233.1 462.0L234.6 462.0L236.2 462.0L237.8 462.0L239.3 462.0L240.9 462.0L242.4 462.0L244.0 462.0L245.6 462.0L247.1 462.0L248.7 462.0L250.2 462.0L251.8 462.0L253.4 462.0L254.9 462.0L256.5 462.0L258.0 462.0L259.6 462.0L261.2 462.0L262.7 462.0L264.3 462.0L265.8 462.0L267.4 462.0L269.0 462.0L270.5 462.0L272.1 462.0L273.6 462.0L275.2 462.0L276.8 462.0L278.3 462.0L279.9 462.0L281.4 462.0L283.0 462.0L284.6 462.0L286.1 462.0L287.7 462.0L289.2 462.0L290.8 462.0L292.4 462.0L293.9 462.0L295.5 462.0" fill="none" stroke="#f00" stroke-width="1"/><path d="M45.9 279.2L47.6 279.2L49.4 279.3L51.1 279.3L52.8 279.3L54.6 279.3L56.3 279.3L58.0 279.4L59.8 279.4L61.5 279.4L63.2 279.5L65.0 279.5L66.7 279.6L68.4 279.6L70.2 279.7L71.9 279.7L73.6 279.8L75.4 279.8L77.1 279.9L78.8 280.0L80.6 280.0L82.3 280.1L84.0 280.2L85.8 280.2L87.5 280.3L89.2 280.4L91.0 280.6L92.7 280.7L94.4 280.9L96.2 281.1L97.9 281.3L99.6 281.5L101.4 281.8L103.1 282.0L104.8 282.3L106.6 282.6L108.3 282.9L110.0 283.2L111.8 283.6L113.5 283.9L115.2 284.3L117.0 284.6L118.7 285.0L120.4 285.4L122.2 285.8L123.9 286.2L125.6 286.6L127.4 287.0L129.1 287.4L130.8 287.9L132.6 288.3L134.3 288.7L136.0 289.2L137.8 289.6L139.5 290.0L141.2 290.5L143.0 291.0L144.7 291.5L146.4 292.0L148.2 292.6L149.9 293.2L151.6 293.8L153.4 294.5L155.1 295.2L156.8 295.9L158.6 296.6L160.3 297.4L162.0 298.1L163.8 298.9L165.5 299.8L167.2 300.6L169.0 301.6L170.7 302.5L172.4 303.6L174.2 304.7L175.9 305.8L177.6 307.0L179.4 308.2L181.1 309.5L182.8 310.8L184.6 312.1L186.3 313.5L188.0 314.9L189.7 316.3L191.5 317.8L193.2 319.2L194.9 320.7L196.7 322.2L198.4 323.7L200.1 325.2L201.9 326.8L203.6 328.4L205.3 330.1L207.1 331.8L208.8 333.6L210.5 335.4L212.3 337.3L214.0 339.3L215.7 341.3L217.5 343.4L219.2 345.6L220.9 348.0L222.7 350.6L224.4 353.2L226.1 356.0L227.9 358.9L229.6 361.9L231.3 364.9L233.1 368.0L234.8 371.1L236.5 374.2L238.3 377.3L240.0 380.4L241.7 383.4L243.5 386.4L245.2 389.3L246.9 392.2L248.7 394.9L250.4 397.5L252.1 400.1L253.9 402.8L255.6 405.5L257.3 408.2L259.1 410.9L260.8 413.6L262.5 416.3L264.3 418.9L266.0 421.5L267.7 424.0L269.5 426.5L271.2 428.9L272.9 431.2L274.7 433.3L276.4 435.4L278.1 437.3L279.9 439.0L281.6 440.6L283.3 442.0L285.1 443.3L286.8 444.6L288.5 445.9L290.3 447.1L292.0 448.4L293.7 449.6L295.5 450.8L297.2 451.9L298.9 453.1L300.7 454.1L302.4 455.2L304.1 456.1L305.9 457.1L307.6 457.9L309.3 458.7L311.1 459.5L312.8 460.1L314.5 460.7L316.3 461.2L318.0 461.6L319.7 462.0L321.5 462.2L323.2 462.4" fill="none" stroke="#f00" stroke-width="1"/></g>
<g clip-path="url(#cpd)"><polyline points="374.1,463.2 377.0,463.2 379.8,462.9 382.7,463.0 385.5,463.5 389.2,463.2 402.3,463.2 403.5,463.1 414.0,463.2 421.1,462.6 426.2,462.5 430.2,462.8 433.4,462.8 436.1,462.8 438.5,462.6 440.5,462.0 442.4,462.3 444.1,462.3 445.6,462.1 447.1,462.5 448.4,462.4 449.6,462.2 450.7,462.5 451.7,461.9 452.8,462.3 453.8,462.4 454.8,461.9 455.8,462.1 456.9,462.1 457.9,461.7 458.9,461.6 459.9,462.0 460.9,461.6 462.0,462.1 463.0,461.4 464.0,461.6 465.0,461.6 466.0,461.3 467.1,461.4 468.1,461.9 469.1,461.4 470.1,461.2 471.1,461.1 472.2,460.9 473.2,461.3 474.2,461.4 475.2,461.5 476.2,461.2 477.3,461.1 478.3,460.9 479.3,460.5 480.3,460.9 481.3,461.1 482.4,460.7 483.4,460.6 484.4,460.5 485.4,460.3 486.5,460.4 487.5,460.4 488.5,460.6 489.5,460.3 490.5,460.2 491.6,460.4 492.6,460.0 493.6,460.3 494.6,460.1 495.6,460.7 496.7,460.0 497.7,460.3 498.7,460.4 499.7,460.3 500.7,460.3 501.8,460.6 502.8,460.8 503.8,460.5 504.8,460.5 505.8,460.7 506.9,460.9 507.9,461.0 508.9,461.4 509.9,461.3 510.9,461.4 512.0,461.4 513.0,462.0 514.0,462.0 515.0,461.9 516.1,462.4 517.1,462.4 518.1,461.9 519.1,462.4 520.1,462.5 521.2,462.5 522.2,462.8 523.2,462.7 524.2,462.9 525.2,463.1 526.3,462.9 527.3,462.8 528.3,463.0 529.3,463.3 530.3,463.0 531.4,463.2 532.4,463.1 533.4,463.0 534.4,463.0 535.4,462.9 536.5,463.2 537.5,462.5 538.5,462.9 539.5,462.9 540.5,462.7 541.6,462.8 542.6,462.7 543.6,462.8 544.6,463.2 545.7,462.9 546.7,462.8 547.7,462.9 548.7,462.8 549.7,462.9 550.8,463.2 551.8,463.1 552.8,463.3 553.8,463.4 554.8,462.6 555.9,462.9 556.9,462.8 557.9,463.4 558.9,462.9 559.9,463.2 561.0,462.9 562.0,462.9 563.0,462.8 564.0,463.2 565.0,462.8 566.1,462.8 567.1,463.0 568.1,463.3 569.1,463.3 570.2,463.4 571.2,463.4 572.2,462.9 573.2,463.4 574.2,463.2 575.3,463.0 576.3,463.2 577.3,463.0 578.3,462.8 579.3,463.2 580.4,462.9 581.4,462.8 582.4,463.1 583.4,462.8 584.4,463.1 585.5,463.0 586.5,462.9 587.5,463.1 588.5,463.1 589.5,462.9 590.6,462.8 591.6,463.3 592.6,462.8 593.6,463.0 594.6,463.0 595.7,462.8 596.7,463.3 597.7,463.3 598.7,463.3 599.8,463.0 600.8,463.0 601.8,463.4 602.8,463.0 603.8,463.3 604.9,463.0 605.9,462.6 606.9,462.8 607.9,463.1 608.9,462.9 610.0,462.9 611.0,463.6 612.0,463.2 613.0,462.9 614.0,462.9" fill="none" stroke="none" marker-start="url(#m33)" marker-mid="url(#m33)" marker-end="url(#m33)"/><polyline points="374.1,463.2 377.0,462.9 379.8,462.9 382.7,463.0 385.5,463.0 389.2,462.6 402.3,462.7 403.5,462.7 414.0,463.2 421.1,462.8 426.2,462.4 430.2,462.5 433.4,462.5 436.1,462.6 438.5,462.2 440.5,462.3 442.4,462.5 444.1,461.5 445.6,462.1 447.1,462.4 448.4,462.3 449.6,462.0 450.7,461.9 451.7,462.0 452.8,461.7 453.8,461.3 454.8,461.8 455.8,461.3 456.9,461.3 457.9,461.7 458.9,461.7 459.9,461.1 460.9,461.0 462.0,461.0 463.0,460.9 464.0,461.2 465.0,460.8 466.0,461.1 467.1,460.6 468.1,460.5 469.1,460.4 470.1,460.2 471.1,460.3 472.2,460.1 473.2,460.2 474.2,459.8 475.2,460.1 476.2,459.7 477.3,460.1 478.3,460.1 479.3,459.7 480.3,459.7 481.3,459.7 482.4,459.6 483.4,459.2 484.4,459.2 485.4,459.0 486.5,459.2 487.5,459.0 488.5,459.2 489.5,459.1 490.5,458.7 491.6,458.6 492.6,458.7 493.6,458.4 494.6,458.8 495.6,458.3 496.7,458.7 497.7,458.6 498.7,458.8 499.7,458.3 500.7,458.9 501.8,458.4 502.8,458.4 503.8,459.2 504.8,458.9 505.8,459.3 506.9,459.2 507.9,459.3 508.9,459.5 509.9,459.5 510.9,459.7 512.0,460.4 513.0,460.5 514.0,460.7 515.0,460.9 516.1,460.7 517.1,461.1 518.1,461.2 519.1,461.9 520.1,461.7 521.2,462.3 522.2,462.0 523.2,462.3 524.2,462.2 525.2,462.3 526.3,462.4 527.3,462.7 528.3,462.7 529.3,463.0 530.3,462.4 531.4,462.9 532.4,463.2 533.4,463.0 534.4,462.8 535.4,463.2 536.5,462.8 537.5,463.1 538.5,462.8 539.5,463.0 540.5,463.3 541.6,463.0 542.6,462.8 543.6,463.5 544.6,463.3 545.7,463.0 546.7,463.3 547.7,463.5 548.7,463.1 549.7,463.2 550.8,463.1 551.8,463.2 552.8,463.0 553.8,463.3 554.8,463.4 555.9,463.1 556.9,463.1 557.9,463.1 558.9,463.1 559.9,463.2 561.0,463.4 562.0,463.0 563.0,462.7 564.0,463.0 565.0,463.0 566.1,462.9 567.1,463.1 568.1,463.4 569.1,463.5 570.2,463.0 571.2,463.3 572.2,463.3 573.2,463.0 574.2,462.9 575.3,462.8 576.3,463.4 577.3,463.1 578.3,463.2 579.3,463.1 580.4,463.1 581.4,463.0 582.4,463.1 583.4,463.3 584.4,463.5 585.5,462.7 586.5,463.2 587.5,462.9 588.5,463.0 589.5,462.9 590.6,463.1 591.6,462.8 592.6,463.3 593.6,463.0 594.6,463.0 595.7,463.3 596.7,463.3 597.7,463.2 598.7,462.8 599.8,463.2 600.8,462.9 601.8,463.2 602.8,463.0 603.8,462.9 604.9,463.0 605.9,463.2 606.9,463.2 607.9,462.7 608.9,462.8 610.0,462.9 611.0,463.2 612.0,463.0 613.0,462.7 614.0,463.2" fill="none" stroke="none" marker-start="url(#m34)" marker-mid="url(#m34)" marker-end="url(#m34)"/><polyline points="374.1,463.0 377.0,462.9 379.8,463.0 382.7,463.0 385.5,462.7 389.2,463.0 402.3,462.8 403.5,462.7 414.0,462.9 421.1,462.5 426.2,462.1 430.2,462.0 433.4,462.5 436.1,462.1 438.5,461.6 440.5,462.1 442.4,462.0 444.1,461.6 445.6,461.8 447.1,461.7 448.4,461.6 449.6,461.3 450.7,461.3 451.7,461.2 452.8,461.5 453.8,461.5 454.8,460.9 455.8,461.0 456.9,460.9 457.9,460.7 458.9,460.4 459.9,460.4 460.9,460.7 462.0,460.3 463.0,460.3 464.0,460.0 465.0,460.1 466.0,459.7 467.1,459.6 468.1,459.9 469.1,460.1 470.1,459.7 471.1,459.9 472.2,459.6 473.2,459.3 474.2,459.5 475.2,459.7 476.2,459.3 477.3,459.3 478.3,459.3 479.3,458.7 480.3,458.6 481.3,458.6 482.4,458.3 483.4,458.5 484.4,457.8 485.4,458.2 486.5,457.9 487.5,458.2 488.5,457.8 489.5,457.9 490.5,458.0 491.6,457.6 492.6,457.7 493.6,457.2 494.6,457.7 495.6,457.7 496.7,456.9 497.7,457.0 498.7,457.2 499.7,457.5 500.7,457.2 501.8,456.9 502.8,456.5 503.8,457.1 504.8,456.6 505.8,457.3 506.9,456.6 507.9,456.9 508.9,457.2 509.9,456.8 510.9,457.2 512.0,457.5 513.0,457.5 514.0,457.3 515.0,457.8 516.1,458.0 517.1,458.0 518.1,458.2 519.1,458.6 520.1,458.3 521.2,458.4 522.2,459.0 523.2,459.1 524.2,459.5 525.2,459.9 526.3,459.9 527.3,460.4 528.3,460.7 529.3,460.8 530.3,460.8 531.4,461.2 532.4,461.1 533.4,461.3 534.4,461.4 535.4,461.5 536.5,462.1 537.5,462.0 538.5,462.1 539.5,462.3 540.5,462.6 541.6,462.5 542.6,462.7 543.6,462.6 544.6,462.9 545.7,463.0 546.7,463.2 547.7,463.0 548.7,462.6 549.7,463.0 550.8,463.0 551.8,463.2 552.8,463.0 553.8,463.0 554.8,463.0 555.9,463.1 556.9,463.3 557.9,463.3 558.9,463.2 559.9,463.3 561.0,463.3 562.0,463.0 563.0,463.1 564.0,463.2 565.0,463.1 566.1,462.8 567.1,463.3 568.1,462.9 569.1,463.5 570.2,462.7 571.2,463.0 572.2,462.6 573.2,462.7 574.2,463.0 575.3,462.9 576.3,463.0 577.3,463.5 578.3,462.9 579.3,462.9 580.4,462.9 581.4,463.0 582.4,463.3 583.4,463.2 584.4,463.9 585.5,463.0 586.5,463.2 587.5,463.2 588.5,462.8 589.5,463.1 590.6,463.7 591.6,462.9 592.6,463.4 593.6,463.3 594.6,463.3 595.7,462.8 596.7,463.4 597.7,463.0 598.7,462.9 599.8,463.6 600.8,462.8 601.8,463.2 602.8,462.7 603.8,463.2 604.9,462.7 605.9,462.6 606.9,463.6 607.9,463.3 608.9,463.2 610.0,462.9 611.0,462.7 612.0,463.0 613.0,463.0 614.0,462.9 615.1,463.3 616.1,463.2 617.1,463.0 618.1,462.8" fill="none" stroke="none" marker-start="url(#m35)" marker-mid="url(#m35)" marker-end="url(#m35)"/><polyline points="374.1,462.8 377.0,462.4 379.8,462.7 382.7,462.7 385.5,462.4 389.2,462.3 402.3,461.9 403.5,462.0 414.0,461.5 421.1,460.7 426.2,460.8 430.2,460.3 433.4,460.2 436.1,459.6 438.5,459.1 440.5,459.3 442.4,459.1 444.1,458.8 445.6,458.5 447.1,458.5 448.4,458.4 449.6,458.0 450.7,457.5 451.7,457.7 452.8,457.8 453.8,457.2 454.8,457.3 455.8,457.1 456.9,457.0 457.9,456.7 458.9,457.0 459.9,456.5 460.9,456.4 462.0,456.3 463.0,456.0 464.0,455.2 465.0,455.9 466.0,455.6 467.1,455.7 468.1,455.2 469.1,455.1 470.1,454.6 471.1,454.7 472.2,454.6 473.2,454.3 474.2,453.8 475.2,453.8 476.2,453.8 477.3,453.5 478.3,453.6 479.3,453.8 480.3,453.6 481.3,453.0 482.4,452.9 483.4,453.0 484.4,453.0 485.4,452.4 486.5,452.6 487.5,452.7 488.5,452.2 489.5,452.2 490.5,452.4 491.6,451.8 492.6,452.2 493.6,452.1 494.6,452.1 495.6,452.0 496.7,451.6 497.7,452.0 498.7,451.9 499.7,452.2 500.7,451.9 501.8,452.1 502.8,452.4 503.8,452.4 504.8,453.0 505.8,453.7 506.9,453.9 507.9,454.1 508.9,454.2 509.9,454.7 510.9,455.1 512.0,455.6 513.0,456.2 514.0,456.6 515.0,457.2 516.1,457.5 517.1,457.9 518.1,458.1 519.1,458.6 520.1,459.4 521.2,459.9 522.2,460.3 523.2,461.0 524.2,460.8 525.2,461.1 526.3,461.5 527.3,461.8 528.3,461.9 529.3,462.0 530.3,462.1 531.4,462.9 532.4,462.1 533.4,462.9 534.4,462.5 535.4,463.2 536.5,462.7 537.5,462.4 538.5,462.8 539.5,463.0 540.5,462.7 541.6,463.1 542.6,463.0 543.6,463.2 544.6,463.1 545.7,463.0 546.7,463.2 547.7,462.8 548.7,463.0 549.7,463.3 550.8,463.2 551.8,463.1 552.8,463.1 553.8,462.7 554.8,463.3 555.9,463.1 556.9,463.1 557.9,463.1 558.9,462.9 559.9,462.9 561.0,463.2 562.0,463.2 563.0,463.0 564.0,463.1 565.0,463.2 566.1,463.4 567.1,463.0 568.1,463.2 569.1,463.0 570.2,463.2 571.2,463.1 572.2,463.1 573.2,463.5 574.2,463.1 575.3,463.0 576.3,463.1 577.3,463.0 578.3,462.8 579.3,463.5 580.4,463.3 581.4,463.2 582.4,463.3 583.4,463.2 584.4,463.4 585.5,463.2 586.5,463.0 587.5,463.2 588.5,462.9 589.5,462.9 590.6,462.9 591.6,463.0 592.6,463.5 593.6,463.1 594.6,463.6 595.7,463.4 596.7,462.9 597.7,463.7 598.7,462.9 599.8,463.2 600.8,462.9 601.8,462.8 602.8,463.1 603.8,463.3 604.9,462.9 605.9,463.4 606.9,463.1 607.9,463.1 608.9,462.8 610.0,463.5 611.0,463.0 612.0,462.6 613.0,463.1 614.0,462.6 615.1,462.9 616.1,463.4 617.1,463.0 618.1,463.0" fill="none" stroke="none" marker-start="url(#m36)" marker-mid="url(#m36)" marker-end="url(#m36)"/><polyline points="374.1,463.2 377.0,463.0 379.8,463.4 382.7,462.6 385.5,462.8 389.2,463.0 402.3,462.6 403.5,462.4 414.0,462.5 421.1,462.3 426.2,461.9 430.2,461.8 433.4,461.2 436.1,461.1 438.5,461.1 440.5,461.0 442.4,461.2 444.1,460.8 445.6,459.8 447.1,460.1 448.4,459.6 449.6,460.2 450.7,459.8 451.7,459.1 452.8,458.9 453.8,459.3 454.8,459.1 455.8,458.8 456.9,458.3 457.9,458.6 458.9,457.4 459.9,457.8 460.9,457.2 462.0,456.8 463.0,456.7 464.0,456.4 465.0,456.1 466.0,455.2 467.1,455.1 468.1,455.0 469.1,454.7 470.1,454.2 471.1,454.2 472.2,453.4 473.2,453.0 474.2,452.1 475.2,451.8 476.2,451.6 477.3,451.2 478.3,450.1 479.3,449.6 480.3,449.0 481.3,448.5 482.4,447.8 483.4,447.3 484.4,446.2 485.4,445.9 486.5,445.5 487.5,444.3 488.5,443.6 489.5,443.1 490.5,442.0 491.6,441.4 492.6,441.0 493.6,440.2 494.6,438.9 495.6,438.2 496.7,437.9 497.7,437.1 498.7,435.7 499.7,434.7 500.7,434.3 501.8,433.8 502.8,433.2 503.8,432.2 504.8,431.4 505.8,431.1 506.9,430.7 507.9,430.4 508.9,429.9 509.9,429.5 510.9,429.3 512.0,428.5 513.0,428.6 514.0,428.0 515.0,428.1 516.1,428.5 517.1,428.2 518.1,428.7 519.1,429.4 520.1,429.8 521.2,430.6 522.2,431.3 523.2,432.0 524.2,433.1 525.2,434.1 526.3,435.2 527.3,436.3 528.3,437.4 529.3,439.1 530.3,440.5 531.4,441.8 532.4,443.3 533.4,445.1 534.4,446.5 535.4,447.9 536.5,449.5 537.5,450.6 538.5,452.1 539.5,453.6 540.5,454.4 541.6,455.8 542.6,456.9 543.6,457.8 544.6,458.5 545.7,459.3 546.7,460.3 547.7,460.7 548.7,461.2 549.7,461.7 550.8,462.0 551.8,462.0 552.8,462.4 553.8,462.0 554.8,462.9 555.9,462.6 556.9,462.7 557.9,463.1 558.9,463.0 559.9,462.8 561.0,462.6 562.0,463.1 563.0,463.1 564.0,463.0 565.0,462.9 566.1,463.2 567.1,462.9 568.1,463.0 569.1,463.1 570.2,463.3 571.2,462.9 572.2,463.6 573.2,463.3 574.2,463.5 575.3,463.2 576.3,463.1 577.3,463.1 578.3,463.2 579.3,462.9 580.4,463.5 581.4,463.4 582.4,463.0 583.4,462.8 584.4,463.0 585.5,463.3 586.5,463.5 587.5,462.9 588.5,463.0 589.5,463.1 590.6,463.4 591.6,463.6 592.6,462.9 593.6,462.7 594.6,462.9 595.7,462.9 596.7,463.0 597.7,463.1 598.7,463.1 599.8,463.1 600.8,463.3 601.8,463.0 602.8,463.4 603.8,463.1 604.9,462.7 605.9,462.7 606.9,463.3 607.9,462.9 608.9,462.9 610.0,462.9 611.0,463.0 612.0,463.1 613.0,462.8 614.0,462.8 615.1,463.3 616.1,463.1 617.1,463.1 618.1,463.3 619.1,463.1 620.2,463.1 621.2,463.5 622.2,462.6 623.2,463.1 624.2,463.1 625.3,463.0 626.3,463.3 627.3,463.3 628.3,462.7 629.4,463.2 630.4,463.5 631.4,463.0 632.4,462.9 633.4,463.2" fill="none" stroke="none" marker-start="url(#m37)" marker-mid="url(#m37)" marker-end="url(#m37)"/><polyline points="374.1,462.3 377.0,461.8 379.8,461.7 382.7,462.1 385.5,461.8 389.2,461.6 402.3,460.7 403.5,460.8 414.0,459.4 421.1,458.6 426.2,457.3 430.2,456.7 433.4,456.1 436.1,455.4 438.5,454.8 440.5,453.9 442.4,453.4 444.1,452.8 445.6,452.9 447.1,451.8 448.4,451.5 449.6,451.1 450.7,450.9 451.7,449.9 452.8,449.4 453.8,449.3 454.8,448.9 455.8,448.5 456.9,447.7 457.9,447.4 458.9,447.1 459.9,446.1 460.9,445.7 462.0,445.2 463.0,444.8 464.0,444.2 465.0,443.8 466.0,443.1 467.1,442.5 468.1,441.5 469.1,441.3 470.1,440.1 471.1,439.5 472.2,439.2 473.2,438.5 474.2,438.0 475.2,436.7 476.2,435.9 477.3,435.0 478.3,434.5 479.3,433.7 480.3,433.0 481.3,432.4 482.4,431.1 483.4,430.5 484.4,429.6 485.4,428.9 486.5,427.7 487.5,427.3 488.5,426.3 489.5,424.9 490.5,424.1 491.6,423.5 492.6,422.4 493.6,421.4 494.6,420.3 495.6,419.4 496.7,418.5 497.7,418.0 498.7,416.5 499.7,416.0 500.7,415.0 501.8,414.2 502.8,413.1 503.8,412.4 504.8,412.2 505.8,411.4 506.9,410.3 507.9,409.8 508.9,408.7 509.9,407.9 510.9,407.3 512.0,407.3 513.0,406.4 514.0,405.9 515.0,405.5 516.1,405.1 517.1,404.4 518.1,404.6 519.1,404.5 520.1,404.3 521.2,404.4 522.2,404.6 523.2,404.7 524.2,405.1 525.2,405.5 526.3,405.8 527.3,406.6 528.3,407.3 529.3,408.2 530.3,409.2 531.4,410.7 532.4,411.1 533.4,412.2 534.4,413.9 535.4,415.6 536.5,416.8 537.5,418.7 538.5,420.9 539.5,422.4 540.5,424.3 541.6,426.5 542.6,428.1 543.6,430.6 544.6,432.3 545.7,434.2 546.7,436.8 547.7,438.3 548.7,440.2 549.7,442.5 550.8,444.4 551.8,446.0 552.8,447.7 553.8,449.4 554.8,450.9 555.9,452.5 556.9,454.0 557.9,455.0 558.9,455.8 559.9,456.8 561.0,457.8 562.0,458.8 563.0,459.6 564.0,460.2 565.0,460.6 566.1,461.4 567.1,461.4 568.1,461.7 569.1,462.2 570.2,462.1 571.2,462.3 572.2,463.1 573.2,462.8 574.2,462.9 575.3,463.4 576.3,462.8 577.3,462.8 578.3,462.9 579.3,463.1 580.4,462.7 581.4,463.0 582.4,463.0 583.4,463.0 584.4,462.8 585.5,463.4 586.5,462.9 587.5,463.0 588.5,462.8 589.5,463.0 590.6,463.1 591.6,463.2 592.6,463.1 593.6,463.2 594.6,463.0 595.7,463.1 596.7,463.2 597.7,462.9 598.7,463.1 599.8,463.2 600.8,462.8 601.8,463.0 602.8,463.0 603.8,463.2 604.9,462.8 605.9,462.9 606.9,463.3 607.9,463.1 608.9,462.8 610.0,462.9 611.0,463.1 612.0,463.0 613.0,463.0 614.0,463.6 615.1,462.9 616.1,462.8 617.1,463.2 643.2,463.1" fill="none" stroke="none" marker-start="url(#m38)" marker-mid="url(#m38)" marker-end="url(#m38)"/><polyline points="374.1,461.1 377.0,460.7 379.8,460.7 382.7,460.4 385.5,460.4 389.2,460.2 402.3,459.1 403.5,458.8 414.0,457.7 421.1,456.6 426.2,455.3 430.2,454.7 433.4,453.7 436.1,453.1 438.5,452.5 440.5,451.7 442.4,451.4 444.1,451.0 445.6,450.3 447.1,449.8 448.4,449.0 449.6,448.7 450.7,448.8 452.0,448.4 453.2,447.8 454.4,446.9 455.6,446.9 456.9,445.8 458.1,445.5 459.3,444.6 460.5,444.3 461.8,443.9 463.0,443.2 464.2,442.4 465.4,441.6 466.7,441.2 467.9,440.6 469.1,439.7 470.3,439.2 471.5,438.2 472.8,437.4 474.0,436.5 475.2,436.1 476.4,434.8 477.7,433.5 478.9,433.0 480.1,432.3 481.3,431.4 482.6,430.8 483.8,429.3 485.0,428.0 486.2,427.2 487.5,426.2 488.7,425.2 489.9,424.3 491.1,422.3 492.4,421.7 493.6,420.1 494.8,419.1 496.0,417.9 497.3,416.7 498.5,415.1 499.7,413.7 500.9,412.4 502.2,410.8 503.4,409.3 504.6,407.9 505.8,406.3 507.1,403.9 508.3,403.2 509.5,401.0 510.7,399.7 512.0,397.9 513.2,395.6 514.4,394.3 515.6,391.9 516.9,389.9 518.1,388.3 519.3,386.0 520.5,383.9 521.8,382.5 523.0,380.0 524.2,377.9 525.4,375.4 526.7,373.5 527.9,371.4 529.1,369.1 530.3,366.5 531.6,364.1 532.8,361.6 534.0,359.6 535.2,356.8 536.5,354.4 537.7,352.1 538.9,349.7 540.1,346.4 541.4,344.2 542.6,341.8 543.8,339.1 545.0,336.8 546.3,333.7 547.5,331.3 548.7,329.4 549.9,326.4 551.2,323.8 552.4,321.2 553.6,319.0 554.8,316.0 556.1,313.8 557.3,311.1 558.5,309.0 559.7,306.4 561.0,304.1 562.2,302.2 563.4,300.1 564.6,297.9 565.9,296.0 567.1,294.3 568.3,292.0 569.5,290.5 570.8,289.2 572.0,288.1 573.2,286.8 574.4,285.4 575.7,284.6 576.9,283.8 578.1,282.7 579.3,282.1 580.6,282.0 581.8,281.7 583.0,281.5 584.2,281.8 585.5,282.1 586.7,283.4 587.9,284.5 589.1,285.6 590.4,287.0 591.6,289.4 592.8,291.6 594.0,294.1 595.3,296.6 596.5,299.6 597.7,303.5 598.9,306.6 600.2,310.6 601.4,314.6 602.6,319.4 603.8,323.9 605.1,328.6 606.3,333.5 607.5,339.0 608.7,343.9 610.0,349.4 611.2,355.1 612.4,360.5 613.6,366.0 614.9,371.8 616.1,377.4 617.3,383.3 618.5,388.5 619.8,394.1 621.0,399.4 622.2,404.1 623.4,409.2 624.7,414.0 625.9,418.6 627.1,422.7 628.3,427.5 629.6,430.7 630.8,434.7 632.0,438.2 633.2,441.2 634.5,444.1 635.7,446.5 636.9,448.6 638.1,451.1 639.4,452.6 640.6,454.5 641.8,455.8 643.0,456.8 644.3,458.2 645.5,459.3 646.7,459.8 647.9,460.4 649.2,461.1 650.4,461.6 651.6,461.7 652.8,462.3 654.1,462.4 655.3,462.7 656.5,462.5 657.7,462.9 659.0,462.8" fill="none" stroke="none" marker-start="url(#m39)" marker-mid="url(#m39)" marker-end="url(#m39)"/></g>
<text x="89.0" y="56.5" font-family="Liberation Sans, sans-serif" font-weight="bold" font-style="italic" font-size="14">t<tspan font-size="9" dy="3">w</tspan></text>
<g transform="translate(77.0,68.5)"><rect x="-3.51" y="-3.51" width="7.02" height="7.02" fill="none" stroke="#000" stroke-width="0.9"/></g>
<text x="90.8" y="71.8" text-anchor="start" font-family="Liberation Sans, sans-serif" font-weight="bold" font-style="normal" font-size="9" >1.53 h</text>
<g transform="translate(76.2,82.8)"><circle r="3.90" fill="none" stroke="#000" stroke-width="0.9"/></g>
<text x="87.4" y="86.1" text-anchor="start" font-family="Liberation Sans, sans-serif" font-weight="bold" font-style="normal" font-size="9" >2.03 h</text>
<g transform="translate(76.6,94.2)"><polygon points="0.00,-4.48 3.88,2.24 -3.88,2.24" transform="translate(0,0.78)" fill="none" stroke="#000" stroke-width="0.9"/></g>
<text x="87.7" y="97.5" text-anchor="start" font-family="Liberation Sans, sans-serif" font-weight="bold" font-style="normal" font-size="9" >3.75 h</text>
<g transform="translate(73.7,108.8)"><polygon points="0.00,4.48 -3.88,-2.24 3.88,-2.24" transform="translate(0,-0.78)" fill="none" stroke="#000" stroke-width="0.9"/></g>
<text x="87.0" y="112.1" text-anchor="start" font-family="Liberation Sans, sans-serif" font-weight="bold" font-style="normal" font-size="9" >5.3 h</text>
<g transform="translate(75.0,121.2)"><polygon points="0.00,-4.09 4.09,0.00 0.00,4.09 -4.09,0.00" fill="none" stroke="#000" stroke-width="0.9"/></g>
<text x="88.9" y="124.5" text-anchor="start" font-family="Liberation Sans, sans-serif" font-weight="bold" font-style="normal" font-size="9" >6.4 h</text>
<g transform="translate(72.5,137.0)"><polygon points="-4.48,0.00 2.24,-3.88 2.24,3.88" transform="translate(0.78,0)" fill="none" stroke="#000" stroke-width="0.9"/></g>
<text x="87.0" y="140.3" text-anchor="start" font-family="Liberation Sans, sans-serif" font-weight="bold" font-style="normal" font-size="9" >7.7 h</text>
<g transform="translate(74.5,154.0)"><polygon points="4.48,0.00 -2.24,3.88 -2.24,-3.88" transform="translate(-0.78,0)" fill="none" stroke="#000" stroke-width="0.9"/></g>
<text x="87.2" y="157.3" text-anchor="start" font-family="Liberation Sans, sans-serif" font-weight="bold" font-style="normal" font-size="9" >9.4 h</text>
<g transform="translate(73.5,168.4)"><polygon points="3.90,0.00 1.95,3.38 -1.95,3.38 -3.90,0.00 -1.95,-3.38 1.95,-3.38" fill="none" stroke="#000" stroke-width="0.9"/></g>
<text x="88.0" y="171.7" text-anchor="start" font-family="Liberation Sans, sans-serif" font-weight="bold" font-style="normal" font-size="9" >10.2 h</text>
<g transform="translate(75.0,182.5)"><polygon points="0.00,-4.29 1.03,-1.42 4.08,-1.33 1.67,0.54 2.52,3.47 0.00,1.75 -2.52,3.47 -1.67,0.54 -4.08,-1.33 -1.03,-1.42" fill="none" stroke="#000" stroke-width="0.9"/></g>
<text x="88.9" y="185.8" text-anchor="start" font-family="Liberation Sans, sans-serif" font-weight="bold" font-style="normal" font-size="9" >11.2 h</text>
<g transform="translate(75.4,194.4)"><polygon points="0.00,-3.90 3.71,-1.21 2.29,3.16 -2.29,3.16 -3.71,-1.21" fill="none" stroke="#000" stroke-width="0.9"/></g>
<text x="89.9" y="197.7" text-anchor="start" font-family="Liberation Sans, sans-serif" font-weight="bold" font-style="normal" font-size="9" >12.5 h</text>
<text x="274.3" y="30.5" font-family="Liberation Sans, sans-serif" font-weight="bold" font-style="italic" font-size="14">t<tspan font-size="9" dy="3">w</tspan></text>
<g transform="translate(256.9,42.7)"><path d="M-3.75 0H3.75M0 -3.75V3.75" fill="none" stroke="#000" stroke-width="0.9"/></g>
<text x="271.1" y="46.0" text-anchor="start" font-family="Liberation Sans, sans-serif" font-weight="bold" font-style="normal" font-size="9" >13.4 h</text>
<g transform="translate(255.6,57.2)"><path d="M-3.75 -3.75L3.75 3.75M-3.75 3.75L3.75 -3.75" fill="none" stroke="#000" stroke-width="0.9"/></g>
<text x="269.3" y="60.5" text-anchor="start" font-family="Liberation Sans, sans-serif" font-weight="bold" font-style="normal" font-size="9" >14.6 h</text>
<g transform="translate(255.1,72.0)"><circle r="3.50" fill="none" stroke="#000" stroke-width="0.9"/><path d="M-3.5 0H3.5M0 -3.5V3.5" fill="none" stroke="#000" stroke-width="0.9"/></g>
<text x="269.3" y="75.3" text-anchor="start" font-family="Liberation Sans, sans-serif" font-weight="bold" font-style="normal" font-size="9" >16.6 h</text>
<text x="208.5" y="23.8" text-anchor="start" font-family="Liberation Sans, sans-serif" font-weight="bold" font-style="normal" font-size="13" >(a)</text>
<path d="M159 168.2L277 110.9" stroke="#444" stroke-width="0.8" fill="none"/><path d="M270.5 111.2L277 110.9L273.2 116.2" stroke="#444" stroke-width="0.8" fill="none"/>
<text x="284.0" y="115.5" font-family="Liberation Sans, sans-serif" font-weight="bold" font-style="italic" font-size="14">t<tspan font-size="9" dy="3">w</tspan></text>
<text x="429.6" y="23.5" font-family="Liberation Sans, sans-serif" font-weight="bold" font-style="italic" font-size="12">t<tspan font-size="8" dy="3">w</tspan></text>
<g transform="translate(413.3,33.2)"><rect x="-3.15" y="-3.15" width="6.30" height="6.30" fill="none" stroke="#000" stroke-width="1.2"/></g>
<text x="425.7" y="36.1" text-anchor="start" font-family="Liberation Sans, sans-serif" font-weight="bold" font-style="normal" font-size="8" >1.53 h</text>
<g transform="translate(413.3,43.0)"><circle r="3.50" fill="none" stroke="#e8161a" stroke-width="1.2"/></g>
<text x="425.7" y="45.9" text-anchor="start" font-family="Liberation Sans, sans-serif" font-weight="bold" font-style="normal" font-size="8" >2.03 h</text>
<g transform="translate(413.3,52.7)"><polygon points="0.00,-4.02 3.49,2.01 -3.49,2.01" transform="translate(0,0.70)" fill="none" stroke="#1a1aff" stroke-width="1.2"/></g>
<text x="425.7" y="55.6" text-anchor="start" font-family="Liberation Sans, sans-serif" font-weight="bold" font-style="normal" font-size="8" >3.75 h</text>
<g transform="translate(413.3,62.5)"><polygon points="0.00,4.02 -3.49,-2.01 3.49,-2.01" transform="translate(0,-0.70)" fill="none" stroke="#008080" stroke-width="1.2"/></g>
<text x="425.7" y="65.4" text-anchor="start" font-family="Liberation Sans, sans-serif" font-weight="bold" font-style="normal" font-size="8" >5.3 h</text>
<g transform="translate(413.3,72.2)"><polygon points="-4.02,0.00 2.01,-3.49 2.01,3.49" transform="translate(0.70,0)" fill="none" stroke="#ff00ff" stroke-width="1.2"/></g>
<text x="425.7" y="75.1" text-anchor="start" font-family="Liberation Sans, sans-serif" font-weight="bold" font-style="normal" font-size="8" >6. 4 h</text>
<g transform="translate(413.3,82.0)"><polygon points="2.59,0.00 -1.29,2.24 -1.29,-2.24" transform="translate(-0.45,0)" fill="none" stroke="#99991a" stroke-width="1.2"/></g>
<text x="425.7" y="84.9" text-anchor="start" font-family="Liberation Sans, sans-serif" font-weight="bold" font-style="normal" font-size="8" >7.7 h</text>
<g transform="translate(413.3,91.7)"><polygon points="0.00,-3.68 3.68,0.00 0.00,3.68 -3.68,0.00" fill="none" stroke="#000080" stroke-width="1.2"/></g>
<text x="425.7" y="94.6" text-anchor="start" font-family="Liberation Sans, sans-serif" font-weight="bold" font-style="normal" font-size="8" >9.4 h</text>
<g transform="translate(413.3,101.5)"><polygon points="0.00,-3.50 3.33,-1.08 2.06,2.83 -2.06,2.83 -3.33,-1.08" fill="none" stroke="#7a1f1f" stroke-width="1.2"/></g>
<text x="425.7" y="104.4" text-anchor="start" font-family="Liberation Sans, sans-serif" font-weight="bold" font-style="normal" font-size="8" >10.2 h</text>
<g transform="translate(413.3,111.2)"><polygon points="3.50,0.00 1.75,3.03 -1.75,3.03 -3.50,0.00 -1.75,-3.03 1.75,-3.03" fill="none" stroke="#e6198c" stroke-width="1.2"/></g>
<text x="425.7" y="114.1" text-anchor="start" font-family="Liberation Sans, sans-serif" font-weight="bold" font-style="normal" font-size="8" >11.2 h</text>
<g transform="translate(413.3,121.0)"><polygon points="0.00,-3.85 0.93,-1.27 3.66,-1.19 1.50,0.49 2.26,3.11 0.00,1.57 -2.26,3.11 -1.50,0.49 -3.66,-1.19 -0.93,-1.27" fill="none" stroke="#008000" stroke-width="1.2"/></g>
<text x="425.7" y="123.9" text-anchor="start" font-family="Liberation Sans, sans-serif" font-weight="bold" font-style="normal" font-size="8" >12.5 h</text>
<g transform="translate(413.3,130.7)"><path d="M-3.5 0H3.5M0 -3.5V3.5" fill="none" stroke="#1a1a99" stroke-width="1.2"/></g>
<text x="425.7" y="133.6" text-anchor="start" font-family="Liberation Sans, sans-serif" font-weight="bold" font-style="normal" font-size="8" >13.4 h</text>
<g transform="translate(413.3,140.4)"><path d="M-3.5 -3.5L3.5 3.5M-3.5 3.5L3.5 -3.5" fill="none" stroke="#ff8c1a" stroke-width="1.2"/></g>
<text x="425.7" y="143.3" text-anchor="start" font-family="Liberation Sans, sans-serif" font-weight="bold" font-style="normal" font-size="8" >14.6 h</text>
<g transform="translate(413.3,150.2)"><path d="M-3.5 0H3.5M0 -3.5V3.5M-2.45 -2.45L2.45 2.45M-2.45 2.45L2.45 -2.45" fill="none" stroke="#800080" stroke-width="1.2"/></g>
<text x="425.7" y="153.1" text-anchor="start" font-family="Liberation Sans, sans-serif" font-weight="bold" font-style="normal" font-size="8" >16.6 h</text>
<text x="641.5" y="24.3" text-anchor="start" font-family="Liberation Sans, sans-serif" font-weight="bold" font-style="normal" font-size="14" >(b)</text>
<text x="102.4" y="333.5" text-anchor="middle" font-family="Liberation Serif, serif" font-weight="bold" font-style="italic" font-size="15" >&#981;</text>
<g transform="translate(77.4,343.5)"><rect x="-3.15" y="-3.15" width="6.30" height="6.30" fill="none" stroke="#000" stroke-width="1.0"/></g>
<text x="91.4" y="346.7" text-anchor="start" font-family="Liberation Sans, sans-serif" font-weight="bold" font-style="normal" font-size="9" >0.008</text>
<g transform="translate(77.4,360.3)"><circle r="3.50" fill="none" stroke="#000" stroke-width="1.0"/></g>
<text x="91.8" y="363.5" text-anchor="start" font-family="Liberation Sans, sans-serif" font-weight="bold" font-style="normal" font-size="9" >0.009</text>
<g transform="translate(79.5,372.0)"><polygon points="0.00,-4.83 4.18,2.41 -4.18,2.41" transform="translate(0,0.84)" fill="none" stroke="#000" stroke-width="1.0"/></g>
<text x="93.5" y="375.2" text-anchor="start" font-family="Liberation Sans, sans-serif" font-weight="bold" font-style="normal" font-size="9" >0.01</text>
<g transform="translate(79.5,384.2)"><polygon points="0.00,4.83 -4.18,-2.42 4.18,-2.42" transform="translate(0,-0.84)" fill="none" stroke="#000" stroke-width="1.0"/></g>
<text x="91.4" y="387.4" text-anchor="start" font-family="Liberation Sans, sans-serif" font-weight="bold" font-style="normal" font-size="9" >0.011</text>
<g transform="translate(79.5,395.9)"><polygon points="0.00,-4.41 4.41,0.00 0.00,4.41 -4.41,0.00" fill="none" stroke="#000" stroke-width="1.0"/></g>
<text x="93.5" y="399.1" text-anchor="start" font-family="Liberation Sans, sans-serif" font-weight="bold" font-style="normal" font-size="9" >0.012</text>
<g transform="translate(77.6,410.4)"><polygon points="-4.83,0.00 2.42,-4.18 2.41,4.18" transform="translate(0.84,0)" fill="none" stroke="#000" stroke-width="1.0"/></g>
<text x="93.0" y="413.6" text-anchor="start" font-family="Liberation Sans, sans-serif" font-weight="bold" font-style="normal" font-size="9" >0.013</text>
<g transform="translate(80.2,423.9)"><polygon points="4.83,0.00 -2.41,4.18 -2.42,-4.18" transform="translate(-0.84,0)" fill="none" stroke="#000" stroke-width="1.0"/></g>
<text x="93.0" y="427.1" text-anchor="start" font-family="Liberation Sans, sans-serif" font-weight="bold" font-style="normal" font-size="9" >0.014</text>
<text x="186" y="279" font-family="Liberation Sans, sans-serif" font-weight="bold" font-size="13"><tspan font-style="italic">t</tspan><tspan font-style="italic" font-size="8" dy="3">w</tspan><tspan dy="-3">= 3 h</tspan></text>
<text x="283.8" y="292.4" text-anchor="start" font-family="Liberation Sans, sans-serif" font-weight="bold" font-style="normal" font-size="13" >(c)</text>
<text x="431.6" y="312.5" text-anchor="middle" font-family="Liberation Serif, serif" font-weight="bold" font-style="italic" font-size="16" >&#981;</text>
<g transform="translate(405.0,326.5)"><rect x="-2.70" y="-2.70" width="5.40" height="5.40" fill="none" stroke="#000" stroke-width="1.0"/></g>
<text x="418.9" y="330.0" text-anchor="start" font-family="Liberation Sans, sans-serif" font-weight="bold" font-style="normal" font-size="10" >0.008</text>
<g transform="translate(405.0,339.2)"><circle r="3.00" fill="none" stroke="#e8161a" stroke-width="1.0"/></g>
<text x="420.0" y="342.7" text-anchor="start" font-family="Liberation Sans, sans-serif" font-weight="bold" font-style="normal" font-size="10" >0.009</text>
<g transform="translate(405.0,352.0)"><polygon points="0.00,-3.45 2.99,1.72 -2.99,1.72" transform="translate(0,0.60)" fill="none" stroke="#1a1aff" stroke-width="1.0"/></g>
<text x="420.0" y="355.5" text-anchor="start" font-family="Liberation Sans, sans-serif" font-weight="bold" font-style="normal" font-size="10" >0.01</text>
<g transform="translate(405.0,365.8)"><polygon points="0.00,3.45 -2.99,-1.73 2.99,-1.73" transform="translate(0,-0.60)" fill="none" stroke="#008080" stroke-width="1.0"/></g>
<text x="418.9" y="369.3" text-anchor="start" font-family="Liberation Sans, sans-serif" font-weight="bold" font-style="normal" font-size="10" >0.011</text>
<g transform="translate(404.0,377.9)"><polygon points="-3.45,0.00 1.73,-2.99 1.72,2.99" transform="translate(0.60,0)" fill="none" stroke="#ff00ff" stroke-width="1.0"/></g>
<text x="417.3" y="381.4" text-anchor="start" font-family="Liberation Sans, sans-serif" font-weight="bold" font-style="normal" font-size="10" >0.012</text>
<g transform="translate(405.0,390.6)"><polygon points="3.45,0.00 -1.72,2.99 -1.73,-2.99" transform="translate(-0.60,0)" fill="none" stroke="#99991a" stroke-width="1.0"/></g>
<text x="418.0" y="394.1" text-anchor="start" font-family="Liberation Sans, sans-serif" font-weight="bold" font-style="normal" font-size="10" >0.013</text>
<g transform="translate(405.0,403.8)"><polygon points="0.00,-3.15 3.15,0.00 0.00,3.15 -3.15,0.00" fill="none" stroke="#000080" stroke-width="1.0"/></g>
<text x="417.3" y="407.3" text-anchor="start" font-family="Liberation Sans, sans-serif" font-weight="bold" font-style="normal" font-size="10" >0.014</text>
<text x="479.8" y="282.8" font-family="Liberation Sans, sans-serif" font-weight="bold" font-size="13.2"><tspan font-style="italic">t</tspan><tspan font-style="italic" font-size="9" dy="3">W</tspan><tspan dy="-3">=3 h</tspan></text>
<text x="624.4" y="288.5" text-anchor="start" font-family="Liberation Serif, serif" font-weight="bold" font-style="normal" font-size="16" >(d)</text>
<text transform="translate(12,125.3) rotate(-90)" font-family="Liberation Sans, sans-serif" font-weight="bold" font-style="italic" font-size="12.6">F<tspan font-size="8" dy="2.5">s</tspan><tspan dy="-2.5">(q,t,</tspan><tspan font-size="9" font-style="normal">&#981;</tspan>)</text>
<text transform="translate(12,398.4) rotate(-90)" font-family="Liberation Sans, sans-serif" font-weight="bold" font-style="italic" font-size="12.6">F<tspan font-size="8" dy="2.5">s</tspan><tspan dy="-2.5">(q,t,</tspan><tspan font-size="9" font-style="normal">&#981;</tspan>)</text>
<text transform="translate(352.5,168.5) rotate(-90)" textLength="121" lengthAdjust="spacingAndGlyphs" font-family="Liberation Serif, serif" font-weight="bold" font-style="italic" font-size="17">t<tspan font-size="11" dy="3">w</tspan><tspan dy="-3">(&#8706;F</tspan><tspan font-size="11" dy="3">s</tspan><tspan dy="-3">(q,t,t</tspan><tspan font-size="11" dy="3">w</tspan><tspan dy="-3">)/&#8706;t</tspan><tspan font-size="11" dy="3">w</tspan><tspan dy="-3">)</tspan></text>
<text transform="translate(346.6,397.2) rotate(-90)" textLength="90.6" lengthAdjust="spacingAndGlyphs" font-family="Liberation Serif, serif" font-weight="bold" font-style="italic" font-size="12.6">&#934;(&#8706;F<tspan font-size="8" dy="2.5">s</tspan><tspan dy="-2.5">(q,t,&#934;)/&#8706;&#934;)</tspan></text>
</svg></body></html>
